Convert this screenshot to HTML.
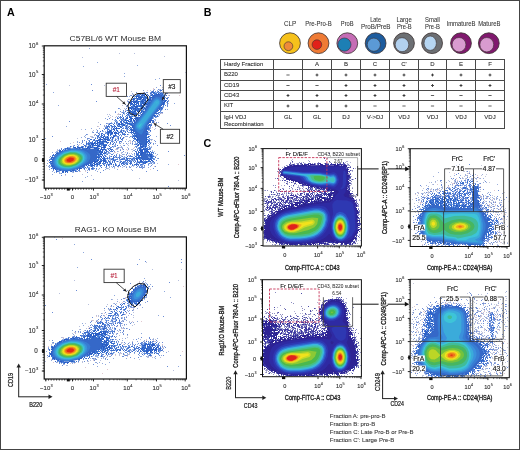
<!DOCTYPE html>
<html><head><meta charset="utf-8"><style>
html,body{margin:0;padding:0;background:#fff;}
body{width:520px;height:450px;overflow:hidden;}
svg{display:block;font-family:"Liberation Sans", sans-serif;}
</style></head><body>
<svg width="520" height="450" viewBox="0 0 520 450" style="will-change:transform">
<rect x="0" y="0" width="520" height="450" fill="#fff"/>
<filter id="bla1" x="-5%" y="-5%" width="110%" height="110%"><feGaussianBlur stdDeviation="0.45"/></filter>
<clipPath id="cpa1"><rect x="44.8" y="46.4" width="141.00" height="141.20"/></clipPath>
<g clip-path="url(#cpa1)">
<path d="M89 48h0m8 14h0m40 3h0m-54 1h0m41 7h0m0 3h0m35 2h0m-4 1h0m-109 5h0m110 3h0m-2 2h0m6 0h0m-17 1h0m20 0h0m-12 1h0m-98 1h0m97 0h0m-18 1h0m-88 1h0m89 0h0m-3 1h0m39 0h0m-40 1h0m-1 3h0m-1 2h0m41 0h0m6 2h0m-49 1h0m-67 1h0m61 3h0m6 1h0m42 0h0m-52 2h0m8 0h0m-79 1h0m116 1h0m-52 3h0m10 0h0m40 0h0m-53 2h0m50 2h0m3 2h0m-51 1h0m1 1h0m-4 1h0m-38 1h0m38 0h0m-13 2h0m8 0h0m-14 1h0m12 2h0m-5 1h0m-5 2h0m-2 1h0m9 0h0m-10 1h0m41 0h0m1 0h0m1 0h0m29 0h0m-75 1h0m4 0h0m7 0h0m37 0h0m-84 1h0m44 0h0m34 0h0m-36 1h0m64 0h0m3 1h0m-77 1h0m48 0h0m3 0h0m-51 1h0m4 1h0m38 0h0m1 0h0m3 0h0m7 0h0m25 0h0m-23 1h0m21 0h0m-75 1h0m45 0h0m-2 1h0m0 1h0m30 0h0m-35 1h0m12 0h0m-69 1h0m61 0h0m8 0h0m5 1h0m-16 1h0m-65 1h0m70 0h0m5 0h0m28 1h0m-36 1h0m3 0h0m1 0h0m34 0h0m-29 1h0m29 3h0m-110 2h0m0 3h0m121 1h0m-120 2h0m76 0h0m20 0h0m6 0h0m-44 1h0m3 0h0m3 0h0m2 0h0m15 0h0m13 0h0m2 0h0m4 0h0m-49 1h0m7 0h0m1 0h0m-58 1h0m44 0h0m3 0h0m9 0h0m12 0h0m-30 1h0m2 0h0m6 0h0m37 0h0m-80 1h0m27 0h0m18 0h0m-43 1h0m19 0h0m-14 1h0m-7 1h0m13 0h0m-21 2h0m28 0h0m15 0h0m-2 1h0m8 2h0m-11 2h0" stroke="#8fa8dc" stroke-width="1" stroke-linecap="square" fill="none" transform="translate(.5 .5)"/>
<path d="M119 53h0m15 0h0m30 3h0m-82 1h0m103 15h0m-116 13h0m35 0h0m58 2h0m-3 2h0m9 0h0m-18 1h0m-19 1h0m38 0h0m-40 8h0m-2 1h0m41 3h0m-46 2h0m4 0h0m-2 3h0m-4 1h0m1 3h0m41 1h0m-55 1h0m2 0h0m9 0h0m1 0h0m-9 1h0m49 0h0m-47 1h0m4 0h0m-1 1h0m39 4h0m-56 1h0m10 1h0m-11 3h0m6 2h0m52 0h0m-74 1h0m15 0h0m58 0h0m-61 1h0m-1 1h0m75 1h0m-77 4h0m1 0h0m1 0h0m-15 2h0m49 1h0m26 0h0m-23 1h0m1 0h0m21 0h0m-30 2h0m11 0h0m19 0h0m-81 1h0m58 0h0m-1 1h0m-54 1h0m47 0h0m8 0h0m23 1h0m-34 1h0m2 0h0m1 0h0m2 0h0m5 0h0m7 0h0m-16 1h0m-61 1h0m59 0h0m1 0h0m14 0h0m1 0h0m-75 1h0m61 1h0m14 0h0m22 0h0m-33 1h0m4 0h0m-8 1h0m4 0h0m8 0h0m2 0h0m-7 1h0m-4 1h0m1 0h0m5 0h0m29 1h0m-106 1h0m108 6h0m-113 2h0m2 0h0m3 1h0m74 0h0m3 0h0m5 0h0m2 0h0m-11 1h0m-14 1h0m6 0h0m-16 1h0m11 0h0m22 0h0m-46 1h0m-13 2h0m-12 1h0m22 1h0m9 1h0m48 3h0m39 2h0" stroke="#b8c0dc" stroke-width="1" stroke-linecap="square" fill="none" transform="translate(.5 .5)"/>
<path d="M91 84h0m69 1h0m-2 4h0m4 0h0m2 0h0m-72 1h0m61 0h0m15 0h0m1 0h0m-5 1h0m-28 1h0m8 0h0m2 0h0m1 0h0m19 1h0m1 0h0m-36 2h0m-4 1h0m41 1h0m0 3h0m-72 1h0m32 0h0m39 3h0m0 1h0m-41 1h0m41 0h0m-49 2h0m8 0h0m39 1h0m-42 1h0m-3 1h0m-5 1h0m7 0h0m1 0h0m38 0h0m1 0h0m-42 2h0m39 0h0m-42 3h0m-8 1h0m-2 1h0m5 0h0m-43 2h0m87 1h0m-50 1h0m3 0h0m58 0h0m-67 1h0m6 1h0m64 0h0m-64 1h0m49 0h0m-58 4h0m53 1h0m-57 1h0m3 0h0m1 0h0m-11 2h0m9 0h0m-43 2h0m78 0h0m-43 2h0m1 0h0m34 1h0m-40 1h0m2 0h0m38 0h0m-40 1h0m4 0h0m35 0h0m11 0h0m23 0h0m-76 1h0m3 0h0m44 1h0m6 0h0m21 0h0m-76 1h0m57 0h0m-60 1h0m50 0h0m33 0h0m-22 1h0m-17 1h0m-57 1h0m56 0h0m5 0h0m1 1h0m12 0h0m-15 1h0m14 0h0m-20 1h0m9 0h0m45 0h0m-41 2h0m-11 1h0m10 0h0m58 1h0m-134 1h0m108 2h0m-2 2h0m-2 3h0m-3 2h0m-34 1h0m1 0h0m2 0h0m9 0h0m8 0h0m2 0h0m2 0h0m1 0h0m13 0h0m-106 1h0m77 0h0m4 0h0m6 0h0m3 0h0m1 0h0m1 0h0m2 0h0m-1 1h0m11 0h0m-69 1h0m-31 1h0m50 0h0m54 0h0m-80 1h0m69 0h0m-90 1h0m31 0h0m13 0h0m-39 1h0m0 2h0m107 11h0" stroke="#6a8cd6" stroke-width="1" stroke-linecap="square" fill="none" transform="translate(.5 .5)"/>
<path d="M153 88h0m0 1h0m-6 1h0m-4 2h0m-11 2h0m36 1h0m11 0h0m-54 15h0m-7 3h0m43 0h0m-44 1h0m-7 3h0m44 5h0m-56 4h0m7 0h0m47 1h0m-58 7h0m-3 3h0m33 0h0m-64 4h0m70 0h0m-57 1h0m57 0h0m-51 2h0m54 4h0m-18 1h0m7 0h0m4 0h0m1 1h0m-13 2h0m1 0h0m14 3h0m27 0h0m-108 6h0m130 3h0m-24 2h0m-36 1h0m9 2h0m23 0h0m-70 2h0m5 0h0m-20 4h0" stroke="#e0c8d0" stroke-width="1" stroke-linecap="square" fill="none" transform="translate(.5 .5)"/>
<path d="M160 90h0m1 0h0m-9 1h0m6 0h0m5 0h0m-12 1h0m1 0h0m1 0h0m1 0h0m-9 1h0m5 0h0m-13 1h0m7 0h0m3 0h0m1 1h0m18 0h0m-33 1h0m33 2h0m1 0h0m-1 2h0m1 1h0m-40 4h0m1 2h0m33 1h0m1 0h0m-34 1h0m33 0h0m-34 1h0m14 0h0m-16 1h0m2 1h0m1 0h0m31 0h0m-36 1h0m5 0h0m1 0h0m28 0h0m-30 1h0m1 0h0m-2 1h0m31 0h0m-37 1h0m14 0h0m23 0h0m-36 1h0m2 0h0m4 0h0m-10 1h0m6 0h0m-8 1h0m6 0h0m2 0h0m29 1h0m1 0h0m-33 1h0m1 0h0m32 0h0m-37 1h0m36 0h0m1 0h0m-43 1h0m4 0h0m4 0h0m-9 1h0m4 0h0m-2 1h0m3 0h0m12 0h0m23 0h0m2 0h0m-44 1h0m1 0h0m4 0h0m14 0h0m-19 1h0m19 0h0m2 0h0m-23 1h0m20 0h0m2 0h0m21 0h0m-40 1h0m40 0h0m-46 1h0m7 0h0m12 0h0m2 0h0m27 0h0m-50 1h0m7 0h0m1 0h0m12 0h0m1 0h0m6 0h0m-20 1h0m12 0h0m3 0h0m3 0h0m5 0h0m1 0h0m-33 1h0m3 0h0m1 0h0m16 0h0m4 0h0m-23 1h0m2 0h0m17 0h0m5 0h0m1 0h0m1 0h0m2 0h0m-29 1h0m3 0h0m1 0h0m31 0h0m-36 1h0m1 0h0m3 0h0m32 0h0m-34 1h0m2 0h0m19 0h0m3 0h0m9 0h0m2 0h0m-39 1h0m2 0h0m21 0h0m2 0h0m2 0h0m11 0h0m1 0h0m-44 1h0m1 0h0m3 0h0m18 0h0m9 0h0m-28 1h0m1 0h0m2 0h0m19 0h0m18 0h0m16 0h0m-60 1h0m3 0h0m28 0h0m-30 1h0m2 0h0m18 0h0m4 0h0m35 0h0m-63 1h0m2 0h0m1 0h0m21 0h0m3 0h0m37 0h0m-64 1h0m2 0h0m24 0h0m24 0h0m-52 1h0m33 0h0m20 0h0m-67 1h0m7 0h0m5 0h0m27 0h0m3 0h0m-47 2h0m44 0h0m40 0h0m-44 1h0m3 0h0m2 0h0m1 0h0m1 0h0m-53 1h0m46 0h0m1 0h0m3 0h0m28 0h0m-31 1h0m6 0h0m23 0h0m3 0h0m12 0h0m-46 1h0m1 0h0m31 0h0m15 0h0m-47 1h0m1 0h0m31 0h0m-83 1h0m83 0h0m-84 1h0m62 0h0m-9 1h0m6 0h0m2 0h0m14 0h0m4 0h0m4 0h0m17 0h0m1 0h0m-102 1h0m53 0h0m5 0h0m4 0h0m3 0h0m10 0h0m29 0h0m-48 1h0m5 0h0m1 0h0m6 0h0m5 0h0m2 0h0m1 0h0m3 0h0m3 0h0m-22 1h0m2 0h0m8 0h0m1 0h0m5 0h0m4 0h0m1 0h0m2 0h0m-85 1h0m59 0h0m5 0h0m1 0h0m11 0h0m1 0h0m2 0h0m24 0h0m-43 1h0m3 0h0m2 0h0m3 0h0m4 0h0m6 0h0m2 0h0m2 0h0m4 0h0m18 0h0m-104 1h0m56 0h0m2 0h0m5 0h0m8 0h0m2 0h0m1 0h0m7 0h0m4 0h0m-30 1h0m6 0h0m1 0h0m4 0h0m6 0h0m1 0h0m1 0h0m7 0h0m1 0h0m5 0h0m7 0h0m1 0h0m1 0h0m-42 1h0m5 0h0m1 0h0m2 0h0m2 0h0m2 0h0m9 0h0m3 0h0m7 0h0m1 0h0m1 0h0m1 0h0m1 0h0m3 0h0m-44 1h0m4 0h0m3 0h0m2 0h0m2 0h0m7 0h0m3 0h0m1 0h0m3 0h0m10 0h0m4 0h0m-30 1h0m7 0h0m-28 1h0m16 0h0m-50 1h0m33 0h0m7 0h0m1 0h0m-39 1h0m26 0h0m10 0h0m-33 1h0m0 1h0m1 0h0m18 0h0m-13 1h0m1 0h0m2 0h0m2 0h0" stroke="#3a6ccc" stroke-width="1" stroke-linecap="square" fill="none" transform="translate(.5 .5)"/>
<path d="M153 91h0m2 0h0m6 1h0m-21 1h0m3 0h0m8 0h0m14 0h0m-27 1h0m1 0h0m4 0h0m8 0h0m-18 1h0m13 0h0m4 0h0m-19 5h0m-3 2h0m39 0h0m0 1h0m-3 1h0m1 1h0m-2 1h0m-1 1h0m-2 2h0m0 1h0m0 1h0m-20 1h0m18 0h0m-32 1h0m32 0h0m-20 1h0m-16 1h0m6 0h0m1 0h0m-7 1h0m3 0h0m2 0h0m4 0h0m4 0h0m20 0h0m1 0h0m-37 1h0m1 0h0m6 0h0m9 0h0m20 0h0m-37 1h0m2 0h0m2 0h0m-6 2h0m3 0h0m2 0h0m1 0h0m-7 1h0m37 0h0m-35 1h0m3 0h0m-9 1h0m5 0h0m11 1h0m23 0h0m1 0h0m-43 1h0m2 0h0m17 0h0m23 0h0m-41 1h0m2 0h0m2 0h0m1 0h0m11 0h0m25 0h0m-45 1h0m1 0h0m3 0h0m3 0h0m-6 1h0m1 0h0m4 0h0m11 0h0m1 0h0m3 0h0m3 0h0m20 0h0m-45 1h0m3 0h0m4 0h0m10 0h0m6 0h0m22 0h0m-42 1h0m22 0h0m-6 1h0m2 0h0m-19 1h0m12 0h0m3 0h0m7 0h0m-23 1h0m19 0h0m7 0h0m-28 1h0m1 0h0m16 0h0m2 0h0m10 0h0m16 0h0m-52 1h0m20 0h0m3 0h0m2 0h0m29 0h0m-50 1h0m17 0h0m1 0h0m14 0h0m17 0h0m-52 1h0m21 0h0m31 1h0m-51 1h0m17 0h0m3 0h0m16 0h0m1 0h0m-46 1h0m23 0h0m-1 1h0m1 0h0m4 0h0m3 0h0m30 0h0m-63 1h0m2 0h0m3 0h0m25 0h0m3 0h0m-32 1h0m3 0h0m-7 1h0m32 0h0m20 0h0m14 0h0m-64 1h0m23 0h0m40 0h0m-75 1h0m8 0h0m2 0h0m32 0h0m21 0h0m13 0h0m-82 1h0m43 0h0m1 0h0m25 0h0m-29 1h0m3 0h0m28 0h0m12 0h0m-89 1h0m76 0h0m12 0h0m-38 1h0m2 0h0m-9 1h0m3 0h0m3 0h0m1 0h0m25 0h0m-30 1h0m2 0h0m44 0h0m1 0h0m-19 1h0m3 0h0m14 0h0m2 0h0m-46 1h0m4 0h0m1 0h0m40 0h0m-48 1h0m1 0h0m11 0h0m3 0h0m11 0h0m6 0h0m16 0h0m-100 1h0m63 0h0m4 0h0m3 0h0m7 0h0m1 0h0m2 0h0m-25 1h0m7 0h0m4 0h0m1 0h0m1 0h0m13 0h0m1 0h0m-29 1h0m1 0h0m3 0h0m13 0h0m1 0h0m5 0h0m1 0h0m3 0h0m2 0h0m19 0h0m-104 1h0m1 0h0m55 0h0m7 0h0m3 0h0m1 0h0m1 0h0m3 0h0m3 0h0m1 0h0m2 0h0m27 0h0m1 0h0m-39 1h0m12 0h0m2 0h0m1 0h0m2 0h0m2 0h0m-28 1h0m2 0h0m12 0h0m3 0h0m1 0h0m1 0h0m5 0h0m3 0h0m19 0h0m-46 1h0m3 0h0m1 0h0m4 0h0m10 0h0m2 0h0m5 0h0m6 0h0m17 0h0m-51 1h0m2 0h0m2 0h0m18 0h0m1 0h0m1 0h0m2 0h0m10 0h0m10 0h0m2 0h0m-45 1h0m13 0h0m2 0h0m2 0h0m3 0h0m4 0h0m2 0h0m8 0h0m2 0h0m6 0h0m-99 1h0m51 0h0m16 0h0m22 0h0m2 0h0m4 0h0m-93 1h0m41 0h0m2 0h0m2 0h0m4 0h0m-13 1h0m5 0h0m-4 1h0m1 0h0m4 0h0m1 0h0m2 0h0m-8 1h0m4 0h0m-14 1h0m1 0h0m-21 1h0m15 0h0m3 0h0" stroke="#5a86d8" stroke-width="1" stroke-linecap="square" fill="none" transform="translate(.5 .5)"/>
<path d="M157 90h0m2 0h0m-2 1h0m3 0h0m-5 1h0m7 0h0m3 0h0m-2 1h0m-18 1h0m1 0h0m4 0h0m14 0h0m1 0h0m-18 1h0m18 0h0m-33 1h0m2 0h0m-2 1h0m35 0h0m-36 2h0m36 0h0m-37 2h0m36 1h0m-38 1h0m1 0h0m-1 1h0m0 1h0m-1 1h0m36 1h0m-21 2h0m20 0h0m-36 1h0m2 0h0m33 0h0m-37 2h0m36 0h0m-36 1h0m14 0h0m1 0h0m-17 1h0m2 0h0m5 0h0m27 0h0m2 0h0m-31 1h0m8 0h0m1 0h0m-3 1h0m3 0h0m20 1h0m-31 1h0m28 0h0m-33 1h0m2 0h0m2 0h0m30 0h0m1 0h0m-41 1h0m1 0h0m8 0h0m-7 1h0m1 0h0m-6 1h0m3 0h0m-2 1h0m5 0h0m34 0h0m-35 1h0m1 0h0m11 0h0m-3 1h0m2 1h0m1 0h0m-17 1h0m12 0h0m2 0h0m2 0h0m22 0h0m1 0h0m-42 1h0m42 0h0m-41 1h0m17 0h0m2 0h0m-8 1h0m2 0h0m2 0h0m2 0h0m1 0h0m3 0h0m18 0h0m1 0h0m-47 1h0m1 0h0m2 0h0m19 0h0m-25 1h0m6 0h0m15 0h0m9 0h0m19 0h0m1 0h0m-50 1h0m7 0h0m17 0h0m25 0h0m-20 1h0m21 0h0m-52 1h0m2 0h0m25 0h0m8 0h0m-17 1h0m1 0h0m5 0h0m10 0h0m-38 1h0m2 0h0m3 0h0m2 0h0m17 0h0m-18 1h0m14 0h0m2 0h0m2 0h0m-24 1h0m23 0h0m33 0h0m1 0h0m-62 1h0m7 0h0m16 0h0m3 0h0m3 0h0m1 0h0m-5 1h0m21 0h0m1 0h0m-46 1h0m23 0h0m23 0h0m15 0h0m-35 1h0m20 0h0m1 0h0m-49 1h0m22 0h0m1 0h0m3 0h0m24 0h0m-51 1h0m28 0h0m1 0h0m-44 1h0m7 0h0m35 0h0m1 0h0m23 0h0m-69 1h0m1 0h0m1 0h0m43 0h0m25 0h0m10 0h0m1 0h0m1 0h0m-86 1h0m44 0h0m29 0h0m-31 1h0m44 0h0m-92 1h0m94 0h0m-96 1h0m1 0h0m51 0h0m44 0h0m-97 1h0m1 0h0m53 0h0m-3 1h0m1 0h0m1 0h0m1 0h0m1 0h0m3 0h0m-9 1h0m2 0h0m26 0h0m2 0h0m-25 1h0m25 0h0m19 0h0m-47 1h0m3 0h0m1 0h0m6 0h0m5 0h0m3 0h0m30 0h0m-39 1h0m2 0h0m6 0h0m1 0h0m1 0h0m-75 1h0m58 0h0m2 0h0m1 0h0m6 0h0m4 0h0m10 0h0m23 0h0m-47 1h0m2 0h0m1 0h0m4 0h0m5 0h0m6 0h0m4 0h0m4 0h0m-27 1h0m4 0h0m2 0h0m7 0h0m1 0h0m11 0h0m2 0h0m-23 1h0m6 0h0m2 0h0m1 1h0m6 0h0m2 0h0m1 0h0m8 0h0m14 0h0m1 0h0m1 0h0m1 0h0m-44 1h0m10 0h0m5 0h0m13 0h0m5 0h0m6 0h0m2 0h0m3 0h0m-103 1h0m54 0h0m3 0h0m3 0h0m6 0h0m27 0h0m9 0h0m-53 1h0m10 0h0m4 0h0m12 0h0m8 0h0m1 0h0m7 0h0m1 0h0m6 0h0m-98 1h0m47 0h0m12 0h0m2 0h0m3 0h0m-30 1h0m4 0h0m1 0h0m4 0h0m12 0h0m-53 1h0m31 0h0m3 0h0m5 1h0m-15 1h0m-17 1h0m13 0h0m-13 1h0" stroke="#98b2e4" stroke-width="1" stroke-linecap="square" fill="none" transform="translate(.5 .5)"/>
<path d="M158 93h0m2 0h0m-20 1h0m2 0h0m10 0h0m4 0h0m1 0h0m1 0h0m1 0h0m3 0h0m-21 1h0m1 0h0m1 0h0m1 0h0m7 0h0m2 0h0m1 0h0m1 0h0m6 0h0m-25 1h0m1 0h0m1 0h0m2 0h0m4 0h0m3 0h0m2 0h0m4 0h0m10 0h0m1 0h0m-28 1h0m2 0h0m1 0h0m1 0h0m1 0h0m1 0h0m3 0h0m1 0h0m4 0h0m1 0h0m1 0h0m11 0h0m-30 1h0m4 0h0m3 0h0m1 0h0m2 0h0m4 0h0m3 0h0m14 0h0m-31 1h0m1 0h0m3 0h0m2 0h0m1 0h0m2 0h0m1 0h0m2 0h0m3 0h0m1 0h0m1 0h0m14 0h0m-31 1h0m3 0h0m6 0h0m2 0h0m1 0h0m3 0h0m1 0h0m1 0h0m13 0h0m2 0h0m-34 1h0m1 0h0m2 0h0m1 0h0m1 0h0m2 0h0m3 0h0m1 0h0m1 0h0m2 0h0m19 0h0m1 0h0m-35 1h0m1 0h0m2 0h0m1 0h0m1 0h0m2 0h0m5 0h0m2 0h0m1 0h0m2 0h0m2 0h0m14 0h0m1 0h0m-34 1h0m1 0h0m1 0h0m2 0h0m2 0h0m2 0h0m4 0h0m1 0h0m2 0h0m1 0h0m2 0h0m15 0h0m-32 1h0m4 0h0m3 0h0m3 0h0m2 0h0m2 0h0m1 0h0m1 0h0m15 0h0m1 0h0m-33 1h0m3 0h0m1 0h0m6 0h0m1 0h0m1 0h0m19 0h0m-30 1h0m3 0h0m1 0h0m1 0h0m1 0h0m2 0h0m2 0h0m2 0h0m3 0h0m1 0h0m-18 1h0m1 0h0m2 0h0m3 0h0m1 0h0m5 0h0m1 0h0m4 0h0m15 0h0m-31 1h0m1 0h0m2 0h0m1 0h0m1 0h0m2 0h0m1 0h0m2 0h0m1 0h0m1 0h0m2 0h0m1 0h0m14 0h0m-28 1h0m2 0h0m2 0h0m1 0h0m2 0h0m5 0h0m2 0h0m14 0h0m-30 1h0m6 0h0m2 0h0m21 0h0m-28 1h0m1 0h0m3 0h0m1 0h0m2 0h0m1 0h0m1 0h0m2 0h0m2 0h0m13 0h0m-27 1h0m3 0h0m1 0h0m5 0h0m3 0h0m2 0h0m-11 1h0m1 0h0m1 0h0m1 0h0m1 0h0m20 0h0m-26 1h0m1 0h0m1 0h0m1 0h0m1 0h0m1 0h0m1 0h0m5 0h0m-3 1h0m1 0h0m14 0h0m1 0h0m-25 1h0m11 0h0m14 0h0m-25 1h0m1 0h0m6 0h0m1 0h0m2 0h0m-13 1h0m1 0h0m3 0h0m1 0h0m1 0h0m2 0h0m1 0h0m1 0h0m1 0h0m-12 1h0m4 0h0m2 0h0m2 0h0m2 0h0m2 0h0m-12 1h0m2 0h0m4 0h0m2 0h0m1 0h0m2 0h0m14 0h0m1 0h0m-28 1h0m5 0h0m2 0h0m4 0h0m16 0h0m-29 1h0m3 0h0m2 0h0m6 0h0m2 0h0m14 0h0m1 0h0m1 0h0m-31 1h0m2 0h0m1 0h0m5 0h0m1 0h0m1 0h0m4 0h0m15 0h0m-30 1h0m1 0h0m2 0h0m2 0h0m7 0h0m1 0h0m18 0h0m-32 1h0m6 0h0m1 0h0m8 0h0m1 0h0m15 0h0m-33 1h0m3 0h0m2 0h0m9 0h0m3 0h0m-18 1h0m2 0h0m5 0h0m9 0h0m2 0h0m16 0h0m-35 1h0m2 0h0m1 0h0m2 0h0m1 0h0m27 0h0m1 0h0m-34 1h0m1 0h0m16 0h0m1 0h0m15 0h0m-36 1h0m4 0h0m3 0h0m14 0h0m1 0h0m1 0h0m12 0h0m1 0h0m-37 1h0m1 0h0m21 0h0m2 0h0m13 0h0m1 0h0m-39 1h0m1 0h0m2 0h0m1 0h0m2 0h0m1 0h0m1 0h0m16 0h0m-24 1h0m3 0h0m1 0h0m2 0h0m2 0h0m18 0h0m1 0h0m10 0h0m1 0h0m-38 1h0m2 0h0m5 0h0m31 0h0m1 0h0m-39 1h0m7 0h0m20 0h0m1 0h0m1 0h0m9 0h0m-42 1h0m3 0h0m6 0h0m1 0h0m21 0h0m1 0h0m1 0h0m11 0h0m-46 1h0m1 0h0m2 0h0m2 0h0m5 0h0m1 0h0m24 0h0m1 0h0m8 0h0m-46 1h0m3 0h0m5 0h0m2 0h0m25 0h0m2 0h0m2 0h0m6 0h0m1 0h0m-47 1h0m1 0h0m1 0h0m1 0h0m2 0h0m1 0h0m1 0h0m1 0h0m30 0h0m1 0h0m8 0h0m-49 1h0m1 0h0m9 0h0m1 0h0m28 0h0m1 0h0m2 0h0m6 0h0m1 0h0m2 0h0m-51 1h0m2 0h0m1 0h0m2 0h0m1 0h0m1 0h0m1 0h0m1 0h0m31 0h0m2 0h0m1 0h0m5 0h0m1 0h0m2 0h0m-54 1h0m3 0h0m1 0h0m1 0h0m3 0h0m4 0h0m2 0h0m30 0h0m3 0h0m5 0h0m-55 1h0m1 0h0m1 0h0m1 0h0m2 0h0m1 0h0m3 0h0m1 0h0m1 0h0m1 0h0m36 0h0m1 0h0m2 0h0m2 0h0m1 0h0m1 0h0m2 0h0m-57 1h0m1 0h0m1 0h0m4 0h0m2 0h0m4 0h0m35 0h0m2 0h0m1 0h0m1 0h0m1 0h0m2 0h0m1 0h0m-56 1h0m2 0h0m2 0h0m2 0h0m2 0h0m5 0h0m1 0h0m1 0h0m1 0h0m32 0h0m2 0h0m3 0h0m-58 1h0m3 0h0m2 0h0m2 0h0m5 0h0m1 0h0m1 0h0m5 0h0m36 0h0m1 0h0m1 0h0m1 0h0m2 0h0m-71 1h0m1 0h0m3 0h0m1 0h0m2 0h0m1 0h0m5 0h0m1 0h0m2 0h0m1 0h0m3 0h0m2 0h0m1 0h0m4 0h0m1 0h0m1 0h0m1 0h0m1 0h0m36 0h0m1 0h0m3 0h0m-78 1h0m12 0h0m7 0h0m1 0h0m2 0h0m5 0h0m1 0h0m1 0h0m2 0h0m3 0h0m39 0h0m3 0h0m3 0h0m-81 1h0m19 0h0m1 0h0m7 0h0m1 0h0m4 0h0m1 0h0m3 0h0m1 0h0m1 0h0m1 0h0m36 0h0m2 0h0m1 0h0m1 0h0m1 0h0m3 0h0m-88 1h0m2 0h0m28 0h0m1 0h0m4 0h0m1 0h0m1 0h0m1 0h0m2 0h0m2 0h0m37 0h0m1 0h0m1 0h0m1 0h0m4 0h0m1 0h0m-88 1h0m1 0h0m39 0h0m1 0h0m2 0h0m38 0h0m1 0h0m1 0h0m3 0h0m1 0h0m1 0h0m1 0h0m-52 1h0m3 0h0m2 0h0m1 0h0m36 0h0m1 0h0m2 0h0m1 0h0m1 0h0m1 0h0m1 0h0m4 0h0m-93 1h0m1 0h0m39 0h0m4 0h0m3 0h0m37 0h0m1 0h0m1 0h0m1 0h0m1 0h0m1 0h0m4 0h0m-94 1h0m40 0h0m2 0h0m1 0h0m2 0h0m1 0h0m36 0h0m3 0h0m1 0h0m1 0h0m1 0h0m2 0h0m1 0h0m1 0h0m2 0h0m1 0h0m1 0h0m-55 1h0m2 0h0m4 0h0m37 0h0m2 0h0m1 0h0m6 0h0m2 0h0m1 0h0m-56 1h0m5 0h0m1 0h0m2 0h0m35 0h0m3 0h0m6 0h0m3 0h0m1 0h0m-99 1h0m42 0h0m2 0h0m1 0h0m1 0h0m1 0h0m2 0h0m37 0h0m1 0h0m1 0h0m2 0h0m5 0h0m4 0h0m-100 1h0m43 0h0m1 0h0m1 0h0m6 0h0m2 0h0m32 0h0m2 0h0m3 0h0m1 0h0m1 0h0m1 0h0m2 0h0m1 0h0m1 0h0m2 0h0m-98 1h0m43 0h0m6 0h0m2 0h0m1 0h0m32 0h0m1 0h0m5 0h0m2 0h0m2 0h0m1 0h0m2 0h0m1 0h0m1 0h0m-57 1h0m3 0h0m1 0h0m5 0h0m1 0h0m1 0h0m32 0h0m3 0h0m1 0h0m10 0h0m-101 1h0m1 0h0m40 0h0m1 0h0m2 0h0m1 0h0m1 0h0m1 0h0m2 0h0m1 0h0m1 0h0m2 0h0m1 0h0m1 0h0m32 0h0m3 0h0m1 0h0m1 0h0m4 0h0m2 0h0m2 0h0m-60 1h0m1 0h0m1 0h0m2 0h0m1 0h0m3 0h0m2 0h0m38 0h0m1 0h0m4 0h0m2 0h0m1 0h0m-95 1h0m39 0h0m4 0h0m2 0h0m1 0h0m2 0h0m1 0h0m-14 1h0m4 0h0m2 0h0m2 0h0m1 0h0m2 0h0m-46 1h0m1 0h0m34 0h0m2 0h0m3 0h0m1 0h0m1 0h0m-41 1h0m1 0h0m38 0h0m-37 1h0m-1 1h0m1 0h0m25 0h0m1 0h0m1 0h0m-26 1h0m22 0h0m-17 1h0m12 0h0m1 0h0m-11 1h0m1 0h0m2 0h0m1 0h0m5 0h0" stroke="#2a5cc4" stroke-width="1" stroke-linecap="square" fill="none" transform="translate(.5 .5)"/>
<path d="M157 92h0m2 0h0m-6 1h0m1 0h0m1 0h0m1 0h0m5 0h0m1 0h0m-8 1h0m1 0h0m5 0h0m1 0h0m-25 1h0m1 0h0m1 0h0m1 0h0m13 0h0m8 0h0m2 0h0m1 0h0m-28 1h0m4 0h0m2 0h0m1 0h0m3 0h0m7 0h0m9 0h0m1 0h0m-19 1h0m1 0h0m5 0h0m13 0h0m2 0h0m-30 1h0m1 0h0m1 0h0m2 0h0m1 0h0m5 0h0m1 0h0m1 0h0m3 0h0m13 0h0m-30 1h0m6 0h0m6 0h0m3 0h0m-10 1h0m4 0h0m2 0h0m21 0h0m-31 1h0m4 0h0m2 0h0m1 0h0m6 0h0m2 0h0m1 0h0m-13 1h0m2 0h0m2 0h0m1 0h0m2 0h0m5 0h0m-11 1h0m3 0h0m1 0h0m3 0h0m3 0h0m2 0h0m13 0h0m2 0h0m-34 1h0m2 0h0m1 0h0m1 0h0m2 0h0m4 0h0m8 0h0m-12 1h0m1 0h0m1 0h0m1 0h0m5 0h0m3 0h0m16 0h0m-31 1h0m1 0h0m5 0h0m2 0h0m2 0h0m18 0h0m-29 1h0m2 0h0m4 0h0m6 0h0m1 0h0m16 0h0m-31 1h0m3 0h0m4 0h0m3 0h0m21 0h0m-26 1h0m3 0h0m2 0h0m-9 1h0m2 0h0m2 0h0m2 0h0m2 0h0m1 0h0m3 0h0m15 0h0m-25 1h0m1 0h0m9 0h0m15 0h0m-27 1h0m1 0h0m3 0h0m1 0h0m5 1h0m2 0h0m13 0h0m0 2h0m-25 1h0m2 0h0m-1 1h0m7 0h0m14 0h0m-14 1h0m13 0h0m1 0h0m-22 1h0m6 0h0m14 0h0m1 0h0m-27 1h0m2 0h0m2 0h0m2 0h0m-4 1h0m3 0h0m2 0h0m18 0h0m-24 1h0m2 0h0m-2 1h0m1 0h0m4 0h0m1 0h0m1 0h0m-12 1h0m2 0h0m2 0h0m5 0h0m3 0h0m-13 1h0m3 0h0m9 0h0m-12 1h0m3 0h0m24 0h0m1 0h0m1 0h0m-28 1h0m26 0h0m1 0h0m-30 1h0m14 0h0m-15 1h0m16 0h0m1 0h0m14 0h0m-36 1h0m5 0h0m-5 1h0m2 0h0m4 0h0m17 0h0m11 0h0m-35 1h0m23 0h0m2 0h0m11 0h0m1 0h0m-40 1h0m3 0h0m5 0h0m2 0h0m16 0h0m14 0h0m-40 1h0m4 0h0m23 0h0m2 0h0m-32 1h0m6 0h0m3 0h0m1 0h0m20 0h0m-31 1h0m31 0h0m12 0h0m-40 1h0m2 0h0m2 0h0m26 0h0m9 0h0m2 0h0m1 0h0m-44 1h0m1 0h0m2 0h0m5 0h0m26 0h0m-30 1h0m1 0h0m27 0h0m3 0h0m6 0h0m2 0h0m-48 1h0m1 0h0m3 0h0m2 0h0m4 0h0m29 0h0m-43 1h0m6 0h0m46 0h0m-52 1h0m5 0h0m1 0h0m2 0h0m4 0h0m32 0h0m6 0h0m2 0h0m-52 1h0m4 0h0m8 0h0m30 0h0m4 0h0m2 0h0m-54 1h0m6 0h0m5 0h0m1 0h0m1 0h0m2 0h0m1 0h0m1 0h0m38 0h0m-55 1h0m4 0h0m2 0h0m2 0h0m2 0h0m2 0h0m41 0h0m2 0h0m1 0h0m1 0h0m-57 1h0m11 0h0m3 0h0m2 0h0m39 0h0m2 0h0m-73 1h0m4 0h0m3 0h0m9 0h0m3 0h0m1 0h0m2 0h0m44 0h0m1 0h0m-74 1h0m2 0h0m1 0h0m13 0h0m1 0h0m1 0h0m1 0h0m3 0h0m9 0h0m2 0h0m5 0h0m35 0h0m5 0h0m1 0h0m2 0h0m-84 1h0m23 0h0m8 0h0m1 0h0m1 0h0m4 0h0m39 0h0m2 0h0m5 0h0m1 0h0m-55 1h0m2 0h0m5 0h0m45 0h0m1 0h0m-51 1h0m1 0h0m1 0h0m1 0h0m1 0h0m3 0h0m43 0h0m-87 1h0m40 0h0m1 0h0m2 0h0m40 0h0m6 0h0m1 0h0m1 0h0m-53 1h0m2 0h0m1 0h0m3 0h0m37 0h0m9 0h0m-51 1h0m3 0h0m3 0h0m36 0h0m6 0h0m4 0h0m-95 1h0m1 0h0m41 0h0m4 0h0m38 0h0m1 0h0m2 0h0m9 0h0m-53 1h0m1 0h0m1 0h0m1 0h0m37 0h0m3 0h0m3 0h0m7 0h0m-96 1h0m50 0h0m33 0h0m1 0h0m9 0h0m4 0h0m2 0h0m-54 1h0m2 0h0m3 0h0m32 0h0m2 0h0m2 0h0m1 0h0m5 0h0m4 0h0m2 0h0m1 0h0m-101 1h0m42 0h0m3 0h0m1 0h0m1 0h0m2 0h0m39 0h0m1 0h0m3 0h0m2 0h0m3 0h0m-55 1h0m2 0h0m1 0h0m4 0h0m1 0h0m1 0h0m41 0h0m5 0h0m1 0h0m-56 1h0m51 0h0m1 0h0m2 0h0m2 0h0m-99 1h0m49 0h0m4 0h0m37 0h0m1 0h0m1 0h0m2 0h0m-94 1h0m39 0h0m2 0h0m2 0h0m9 0h0m-51 1h0m36 0h0m1 0h0m3 0h0m5 0h0m2 0h0m1 0h0m-10 1h0m1 0h0m4 0h0m-11 1h0m1 0h0m3 0h0m-35 1h0m1 0h0m29 0h0m1 0h0m-28 1h0m1 1h0m1 0h0m2 1h0m15 0h0m1 0h0m-8 1h0m3 0h0" stroke="#3f78d4" stroke-width="1" stroke-linecap="square" fill="none" transform="translate(.5 .5)"/>
<path d="M156 92h0m2 0h0m2 0h0m-1 1h0m-18 1h0m22 0h0m-4 1h0m5 0h0m-21 1h0m3 0h0m4 0h0m-16 1h0m13 0h0m18 0h0m-14 1h0m12 0h0m-27 1h0m5 0h0m-7 1h0m1 0h0m5 0h0m6 0h0m1 0h0m-3 1h0m3 0h0m16 0h0m-31 4h0m13 0h0m1 0h0m-1 1h0m17 0h0m-28 1h0m6 0h0m5 0h0m-2 1h0m-14 1h0m3 0h0m9 0h0m3 0h0m-11 1h0m10 0h0m-14 1h0m7 1h0m6 0h0m14 0h0m-16 2h0m-9 1h0m1 0h0m8 0h0m-2 1h0m15 0h0m0 1h0m-27 2h0m9 1h0m-11 1h0m8 0h0m1 0h0m2 0h0m-12 1h0m6 0h0m1 0h0m1 0h0m-8 1h0m2 1h0m8 0h0m14 0h0m1 0h0m-30 1h0m3 0h0m9 0h0m17 0h0m-30 1h0m4 0h0m10 1h0m-17 1h0m16 0h0m-18 1h0m33 0h0m-30 2h0m3 0h0m-9 2h0m3 1h0m23 0h0m10 0h0m-40 2h0m1 0h0m2 0h0m3 0h0m0 1h0m-5 1h0m-3 1h0m8 0h0m37 0h0m-46 1h0m2 0h0m6 0h0m-14 1h0m42 0h0m-34 1h0m1 0h0m32 0h0m3 0h0m-42 1h0m-8 1h0m8 0h0m41 0h0m-51 1h0m3 0h0m11 0h0m39 0h0m-55 1h0m1 0h0m4 0h0m2 0h0m8 0h0m-18 1h0m2 0h0m13 0h0m45 0h0m1 0h0m3 0h0m-77 1h0m10 0h0m10 0h0m13 0h0m38 0h0m-77 1h0m23 0h0m1 0h0m2 0h0m1 0h0m12 1h0m-45 2h0m41 1h0m51 0h0m-50 2h0m46 0h0m2 1h0m-53 1h0m46 0h0m7 0h0m1 0h0m-97 1h0m47 0h0m-5 1h0m5 0h0m42 0h0m-6 1h0m10 0h0m-7 1h0m1 0h0m4 0h0m-92 1h0m45 0h0m1 0h0m50 0h0m-59 1h0m4 0h0m6 0h0m-14 2h0m12 0h0m-6 1h0m-9 1h0m-5 2h0m-19 1h0m1 0h0" stroke="#8fb0e6" stroke-width="1" stroke-linecap="square" fill="none" transform="translate(.5 .5)"/>
<g filter="url(#bla1)"><path d="M143.3,145.4 141.8,144.7 140.3,142.9 138.1,137.9 133.8,130.9 132.8,127.9 133.1,124.9 134.6,122.4 139.8,116.9 145.8,108.9 152.7,96.9 156.3,94.7 159.8,94.8 161.8,96 163.1,97.9 163.5,100.4 163.1,102.9 161.8,105.4 150.3,120.3 147.3,125.4 146,130.9 146.3,141.7 145.1,144.4 143.3,145.4ZM70.8,170.9 65.8,171.3 60.8,170.7 56.8,169.3 54,167.4 52.2,164.9 51.6,161.9 52.4,158.9 54.5,155.9 57.8,153 61.3,151 69.8,148.5 76.8,148.1 87.3,149.3 93.8,148.4 95.8,148.8 96.8,149.6 97.6,151.9 97.3,155.4 96.1,158.9 94.1,161.4 78.8,168.7 70.8,170.9ZM145.8,159.9 142.3,159.5 140.9,157.4 142,153.9 144.3,151.9 146.8,153.4 148.5,156.4 148.1,158.4 145.8,159.9Z" fill="#3468c8" fill-rule="evenodd"/><path d="M141.8,134.5 140.8,134.6 139.3,133.8 135.4,129.9 134.4,127.4 134.9,124.4 146.3,109.8 153.7,98.4 156.3,96.9 159.3,97.2 160.8,98.4 161.6,99.9 161.9,101.9 161.4,103.9 147.8,122.2 141.8,134.5ZM68.8,170.4 64.3,170.5 59.8,169.6 56.3,168 54.1,165.9 52.9,162.9 53.2,159.9 54.8,156.9 57.8,154 65.3,150.2 74.3,148.8 78.8,149.1 83.3,150.1 87.3,151.9 89.7,153.9 90.4,156.4 90,158.9 88.4,161.4 86.1,163.4 77.8,168.3 73.3,169.7 68.8,170.4Z" fill="#377bd2" fill-rule="evenodd"/><path d="M140.8,130.1 138.8,130.2 136.7,128.9 135.8,126.9 136.2,124.4 146.8,110.9 154.3,99.9 156.3,98.6 158.8,99 160.5,101.4 160.2,103.9 147.8,120.2 142.4,128.9 140.8,130.1ZM70.3,169.5 65.8,169.7 61.8,169.2 58.3,167.9 55.8,166 54.5,163.9 54.2,161.4 55.1,158.4 57.1,155.9 59.8,153.7 63.8,151.6 71.8,149.7 79.8,150.3 83.3,151.6 85.8,153.4 87.2,155.4 87.5,157.9 86.6,160.4 85.1,162.4 81.8,165.2 78.3,167.1 70.3,169.5Z" fill="#3a90dc" fill-rule="evenodd"/><path d="M140.8,128.5 139.3,128.8 137.8,128.1 136.9,126.4 137.2,124.9 146,113.9 155.1,100.9 156.8,99.9 158.3,100.3 159.3,101.6 159.2,103.4 148.1,117.9 140.8,128.5ZM68.3,168.9 61.3,168.1 58.3,166.7 56.4,164.9 55.5,162.9 55.5,160.4 56.7,157.9 58.4,155.9 64.3,152.3 71.8,150.5 79.3,151.1 81.8,152.1 84.2,153.9 85.5,155.9 85.7,158.4 84.7,160.9 82.8,163.1 80.3,165.1 76.3,167.2 68.3,168.9Z" fill="#3babda" fill-rule="evenodd"/><path d="M156.3,103.7 156.4,102.4 157.3,102.1 157.3,102.8 156.3,103.7ZM139.8,127 138.8,126.7 138.8,125.5 141.8,122.8 141.3,124.9 139.8,127ZM70.8,167.9 64.3,168 61.3,167.2 58.8,165.8 57.2,163.9 56.6,161.9 57,159.4 58.3,157.4 63.3,153.5 69.8,151.5 77.3,151.6 82.3,153.8 83.7,155.4 84.3,157.4 84,159.4 82.6,161.9 77.8,165.6 70.8,167.9Z" fill="#3cc4d8" fill-rule="evenodd"/><path d="M69.8,167.4 63.8,167.2 59.2,164.9 58.1,163.4 57.6,161.4 58.1,159.4 59.3,157.4 63.8,154 70.3,152 76.8,152.2 81.5,154.4 82.7,155.9 83.1,157.9 82.7,159.9 81.3,162.1 76.3,165.6 69.8,167.4Z" fill="#41bc99" fill-rule="evenodd"/><path d="M71.3,166.5 65.3,166.7 60.8,164.9 59.4,163.4 58.8,161.9 59,159.9 60.1,157.9 64.3,154.6 69.8,152.8 75.3,152.7 79.8,154.4 81.3,155.9 81.9,157.4 81.7,159.4 80.7,161.4 76.8,164.6 71.3,166.5Z" fill="#46b661" fill-rule="evenodd"/><path d="M69.8,165.9 64.8,165.7 61.3,163.9 60.3,162.4 60.1,160.9 61.4,157.9 65.3,155 70.3,153.5 75.3,153.6 79.2,155.4 80.3,156.9 80.6,158.4 78.9,161.9 74.8,164.6 69.8,165.9Z" fill="#73c23c" fill-rule="evenodd"/><path d="M71.3,164.9 66.8,165.2 63.3,164 61.5,161.9 62,158.9 64.8,156.2 68.8,154.6 73.3,154.2 77.4,155.4 79.2,157.9 78.4,160.9 75.5,163.4 71.3,164.9Z" fill="#bbd628" fill-rule="evenodd"/><path d="M69.8,164.4 66.3,164.2 63.6,162.9 62.6,160.4 63.8,158.1 66.8,156 70.3,155 74.3,155.2 76.9,156.4 78,158.9 76.8,161.3 73.8,163.4 69.8,164.4Z" fill="#f2e31e" fill-rule="evenodd"/><path d="M71.3,163.4 67.8,163.6 65.3,162.9 63.9,160.9 64.4,158.9 66.3,157.2 69.3,156 72.8,155.8 75.3,156.5 76.7,158.4 76.3,160.4 74.3,162.2 71.3,163.4Z" fill="#f3af1f" fill-rule="evenodd"/><path d="M69.8,162.9 67.3,162.7 65.7,161.9 65,160.4 65.8,158.7 67.8,157.2 70.3,156.5 72.8,156.5 74.8,157.4 75.6,158.9 74.7,160.9 72.3,162.4 69.8,162.9Z" fill="#ed731b" fill-rule="evenodd"/><path d="M70.3,162 67.2,161.4 66.6,160.4 66.8,159.4 69.8,157.5 73.3,157.9 74,158.9 73.5,160.4 70.3,162Z" fill="#e22514" fill-rule="evenodd"/></g>
</g>
<filter id="blc1" x="-5%" y="-5%" width="110%" height="110%"><feGaussianBlur stdDeviation="0.45"/></filter>
<clipPath id="cpc1"><rect x="263.5" y="149.1" width="97.40" height="96.40"/></clipPath>
<g clip-path="url(#cpc1)">
<path d="M338 157h0m-13 3h0m-16 1h0m-19 1h0m2 0h0m7 0h0m4 0h0m15 0h0m12 0h0m-33 1h0m1 0h0m6 0h0m31 0h0m4 0h0m5 0h0m-54 1h0m58 0h0m-62 1h0m63 0h0m-65 1h0m66 0h0m-1 1h0m-71 1h0m1 1h0m73 1h0m-75 1h0m2 1h0m71 1h0m0 3h0m-75 2h0m8 0h0m67 0h0m-87 1h0m88 2h0m-62 1h0m-2 1h0m0 1h0m-14 1h0m2 0h0m9 0h0m16 0h0m1 0h0m1 1h0m-27 1h0m16 0h0m6 0h0m-15 1h0m7 0h0m3 0h0m7 0h0m3 0h0m50 0h0m-57 1h0m4 0h0m-34 1h0m2 0h0m12 0h0m7 0h0m14 0h0m-11 1h0m13 0h0m2 0h0m48 0h0m-76 1h0m12 0h0m3 0h0m-9 1h0m2 0h0m2 0h0m3 0h0m2 0h0m6 0h0m-24 1h0m4 0h0m5 0h0m-4 1h0m1 0h0m4 0h0m70 0h0m-83 1h0m2 0h0m6 0h0m77 0h0m-86 1h0m3 0h0m83 0h0m-92 1h0m8 0h0m-8 1h0m1 0h0m3 0h0m2 0h0m87 0h0m3 0h0m-95 1h0m2 0h0m90 0h0m3 0h0m-96 3h0m95 1h0m-95 1h0m95 1h0m-95 1h0m95 1h0m-93 1h0m-2 1h0m1 0h0m95 0h0m0 1h0m0 1h0m-96 2h0m96 0h0m-94 1h0m95 2h0m0 12h0m-1 8h0m-3 3h0m0 1h0m-84 3h0m3 0h0m0 1h0m7 0h0m1 0h0m2 0h0m46 0h0m5 0h0m4 0h0" stroke="#8c8cc0" stroke-width="1" stroke-linecap="square" fill="none" transform="translate(.5 .5)"/>
<path d="M286 149h0m41 9h0m-35 1h0m-1 1h0m17 0h0m38 1h0m1 0h0m-46 1h0m28 0h0m11 0h0m5 0h0m5 0h0m-56 1h0m2 0h0m9 0h0m42 0h0m0 1h0m-60 1h0m60 0h0m1 0h0m-66 2h0m73 1h0m-4 2h0m-72 1h0m73 0h0m-74 3h0m73 2h0m-70 1h0m-3 1h0m4 0h0m1 1h0m68 0h0m2 0h0m-73 1h0m6 1h0m-2 1h0m3 0h0m5 0h0m1 0h0m57 0h0m1 1h0m-57 1h0m2 0h0m55 0h0m-70 1h0m10 0h0m7 0h0m52 0h0m-57 1h0m5 0h0m5 0h0m-5 1h0m1 0h0m4 0h0m49 0h0m-69 1h0m17 0h0m5 0h0m-42 1h0m29 0h0m11 0h0m5 0h0m-44 1h0m11 0h0m26 0h0m2 0h0m1 0h0m-34 1h0m6 0h0m2 0h0m8 0h0m7 0h0m10 0h0m-19 1h0m2 0h0m-8 1h0m12 0h0m2 0h0m-29 1h0m6 0h0m3 0h0m3 0h0m4 0h0m4 0h0m3 0h0m67 0h0m-84 1h0m8 0h0m77 0h0m-87 1h0m6 0h0m2 0h0m-5 1h0m-6 1h0m1 0h0m1 0h0m-1 1h0m-2 1h0m1 1h0m94 4h0m-92 5h0m-2 1h0m0 2h0m1 4h0m94 17h0m0 1h0m-95 4h0m94 1h0m2 0h0m-93 1h0m-1 1h0m4 0h0m2 0h0m83 0h0m-1 1h0m3 0h0m-83 1h0m57 0h0m-54 1h0m47 0h0m2 0h0m4 0h0" stroke="#b4b4d6" stroke-width="1" stroke-linecap="square" fill="none" transform="translate(.5 .5)"/>
<path d="M329 153h0m-5 5h0m-32 3h0m37 0h0m14 1h0m-53 1h0m10 0h0m1 0h0m7 0h0m1 0h0m1 0h0m27 0h0m3 0h0m3 0h0m-54 1h0m61 3h0m3 1h0m-75 1h0m2 0h0m-1 1h0m71 0h0m0 4h0m-70 2h0m70 1h0m-73 1h0m78 0h0m-3 1h0m-70 1h0m2 0h0m1 0h0m65 0h0m-63 1h0m4 1h0m-5 1h0m8 0h0m1 0h0m55 0h0m-57 2h0m-4 1h0m17 2h0m2 0h0m-28 1h0m3 0h0m14 0h0m10 0h0m-33 1h0m16 0h0m-19 1h0m9 0h0m2 0h0m2 0h0m1 0h0m11 0h0m9 0h0m-34 1h0m2 0h0m4 1h0m2 0h0m9 0h0m64 0h0m-81 1h0m3 0h0m7 0h0m10 0h0m65 0h0m-80 1h0m-11 1h0m3 0h0m1 0h0m-1 1h0m-1 3h0m-4 1h0m2 0h0m92 2h0m-94 6h0m0 4h0m1 2h0m0 3h0m96 5h0m0 1h0m0 4h0m-1 3h0m-1 5h0m-94 2h0m-1 1h0m13 4h0m79 0h0m-76 1h0m54 0h0m1 0h0m18 0h0m-11 1h0m2 0h0m3 0h0" stroke="#4c4ca8" stroke-width="1" stroke-linecap="square" fill="none" transform="translate(.5 .5)"/>
<path d="M319 163h0m1 0h0m5 0h0m6 0h0m-38 1h0m47 0h0m1 0h0m1 0h0m2 0h0m2 1h0m2 2h0m0 2h0m-68 2h0m69 0h0m0 4h0m0 1h0m0 1h0m-63 2h0m1 0h0m2 1h0m60 3h0m-47 1h0m0 1h0m47 0h0m-41 1h0m40 0h0m-40 1h0m3 0h0m37 0h0m-38 1h0m7 0h0m32 0h0m-29 1h0m29 0h0m-41 1h0m3 0h0m2 0h0m1 0h0m4 0h0m1 0h0m-10 1h0m3 0h0m5 0h0m1 0h0m6 0h0m1 0h0m6 0h0m-22 1h0m11 0h0m4 0h0m1 0h0m5 0h0m1 0h0m-31 1h0m1 0h0m10 0h0m6 0h0m7 0h0m1 0h0m1 0h0m2 0h0m1 0h0m1 0h0m21 0h0m-51 1h0m4 0h0m2 0h0m1 0h0m1 0h0m2 0h0m2 0h0m6 0h0m2 0h0m1 0h0m3 0h0m1 0h0m-35 1h0m1 0h0m1 0h0m1 0h0m2 0h0m13 0h0m1 0h0m2 0h0m2 0h0m2 0h0m1 0h0m1 0h0m1 0h0m4 0h0m30 0h0m-65 1h0m7 0h0m2 0h0m1 0h0m6 0h0m2 0h0m1 0h0m3 0h0m-26 1h0m4 0h0m4 0h0m1 0h0m4 0h0m5 0h0m2 0h0m4 0h0m-33 1h0m1 0h0m10 0h0m2 0h0m1 0h0m4 0h0m11 0h0m3 0h0m2 0h0m-36 1h0m1 0h0m2 0h0m3 0h0m2 0h0m1 0h0m6 0h0m1 0h0m12 0h0m3 0h0m-32 1h0m2 0h0m3 0h0m6 0h0m1 0h0m3 0h0m1 0h0m4 0h0m4 0h0m2 0h0m2 0h0m56 0h0m-89 1h0m2 0h0m2 0h0m1 0h0m10 0h0m2 0h0m3 0h0m4 0h0m1 0h0m-23 1h0m7 0h0m3 0h0m2 0h0m4 0h0m1 0h0m4 0h0m5 0h0m-29 1h0m6 0h0m1 0h0m8 0h0m5 0h0m3 0h0m2 0h0m1 0h0m-24 1h0m9 0h0m1 0h0m2 0h0m2 0h0m75 0h0m-86 1h0m4 0h0m1 0h0m4 0h0m1 0h0m2 0h0m3 0h0m1 0h0m-19 1h0m6 0h0m3 0h0m1 0h0m5 0h0m2 0h0m-17 1h0m3 0h0m2 0h0m1 0h0m1 0h0m1 0h0m4 0h0m-12 1h0m2 0h0m1 0h0m1 0h0m4 0h0m5 0h0m-14 1h0m6 0h0m3 0h0m3 0h0m-7 2h0m4 0h0m-3 1h0m86 0h0m-87 1h0m-3 1h0m1 1h0m-1 1h0m90 1h0m-94 2h0m0 1h0m95 0h0m0 1h0m-96 1h0m96 1h0m0 2h0m0 4h0m-96 8h0m1 0h0m1 0h0m1 1h0m90 0h0m-89 1h0m88 0h0m-88 1h0m7 1h0m80 0h0m-79 1h0m1 0h0m77 0h0m1 0h0m-74 1h0m57 0h0m15 0h0m-71 1h0m38 0h0m5 0h0m3 0h0m1 0h0m13 0h0m4 0h0m1 0h0m3 0h0m1 0h0m-55 1h0m1 0h0m5 0h0m4 0h0m5 0h0m7 0h0m3 0h0" stroke="#3a34a0" stroke-width="1" stroke-linecap="square" fill="none" transform="translate(.5 .5)"/>
<path d="M314 163h0m3 0h0m1 0h0m8 0h0m-34 1h0m2 0h0m3 0h0m1 0h0m3 0h0m42 0h0m2 0h0m-56 1h0m-5 2h0m63 0h0m-64 1h0m65 3h0m-69 2h0m1 1h0m0 1h0m69 3h0m0 2h0m0 2h0m-46 3h0m1 0h0m1 0h0m43 0h0m1 1h0m-40 1h0m1 0h0m2 0h0m37 0h0m-37 1h0m3 0h0m1 0h0m-6 1h0m1 0h0m1 0h0m3 0h0m1 0h0m5 0h0m-12 1h0m14 0h0m-16 1h0m8 0h0m5 0h0m3 0h0m4 0h0m1 0h0m-24 1h0m8 0h0m1 0h0m6 0h0m2 0h0m-19 1h0m4 0h0m1 0h0m1 0h0m4 0h0m9 0h0m1 0h0m1 0h0m-7 1h0m1 0h0m2 0h0m4 0h0m3 0h0m-40 1h0m13 0h0m1 0h0m1 0h0m5 0h0m1 0h0m12 0h0m1 0h0m1 0h0m-39 1h0m1 0h0m5 0h0m14 0h0m5 0h0m3 0h0m1 0h0m2 0h0m2 0h0m1 0h0m1 0h0m1 0h0m35 0h0m-75 1h0m1 0h0m9 0h0m1 0h0m1 0h0m7 0h0m1 0h0m1 0h0m5 0h0m2 0h0m2 0h0m2 0h0m2 0h0m1 0h0m-34 1h0m1 0h0m1 0h0m3 0h0m7 0h0m3 0h0m1 0h0m1 0h0m4 0h0m2 0h0m3 0h0m4 0h0m-33 1h0m1 0h0m16 0h0m1 0h0m2 0h0m2 0h0m3 0h0m1 0h0m-21 1h0m8 0h0m1 0h0m3 0h0m3 0h0m4 0h0m1 0h0m-32 1h0m5 0h0m11 0h0m2 0h0m2 0h0m4 0h0m63 0h0m-90 1h0m1 0h0m2 0h0m1 0h0m1 0h0m2 0h0m1 0h0m12 0h0m1 0h0m4 0h0m65 0h0m-89 1h0m1 0h0m8 0h0m1 0h0m2 0h0m2 0h0m-10 1h0m3 0h0m1 0h0m7 0h0m2 0h0m5 0h0m-18 1h0m2 0h0m5 0h0m6 0h0m73 0h0m-93 1h0m5 0h0m6 0h0m5 0h0m1 0h0m2 0h0m-17 1h0m2 0h0m1 0h0m7 0h0m1 0h0m4 0h0m-7 1h0m5 0h0m-11 1h0m1 0h0m2 0h0m87 0h0m-91 1h0m4 0h0m2 0h0m1 0h0m-4 1h0m2 0h0m86 0h0m-87 1h0m1 1h0m86 0h0m-87 1h0m-4 1h0m0 1h0m-2 2h0m93 0h0m1 0h0m-95 3h0m95 1h0m0 2h0m-94 14h0m91 1h0m-87 1h0m3 1h0m7 2h0m53 0h0m4 0h0m-54 1h0m1 0h0m1 0h0m33 0h0m8 0h0m1 0h0m16 0h0m2 0h0m-56 1h0m2 0h0m2 0h0m5 0h0m3 0h0m13 0h0m1 0h0m8 0h0m1 0h0" stroke="#6464b4" stroke-width="1" stroke-linecap="square" fill="none" transform="translate(.5 .5)"/>
<path d="M312 163h0m3 0h0m9 0h0m3 0h0m1 0h0m-37 1h0m9 0h0m49 8h0m0 2h0m0 5h0m-54 3h0m16 6h0m37 0h0m-39 1h0m9 0h0m1 0h0m-12 1h0m9 0h0m1 0h0m7 0h0m1 0h0m1 0h0m23 0h0m1 0h0m-42 1h0m11 0h0m7 0h0m3 0h0m1 0h0m-27 1h0m11 0h0m2 0h0m6 0h0m5 0h0m-23 1h0m6 0h0m4 0h0m-21 1h0m2 0h0m2 0h0m1 0h0m3 0h0m13 0h0m37 0h0m-63 1h0m8 0h0m9 0h0m-20 1h0m8 0h0m2 0h0m9 0h0m10 0h0m-37 1h0m3 0h0m2 0h0m2 0h0m9 0h0m7 0h0m5 0h0m6 0h0m3 0h0m-36 1h0m11 0h0m1 0h0m7 0h0m2 0h0m8 0h0m-36 1h0m8 0h0m3 0h0m1 0h0m1 0h0m6 0h0m2 0h0m3 0h0m9 0h0m1 0h0m49 0h0m-76 1h0m1 0h0m6 0h0m3 0h0m6 0h0m4 0h0m-25 1h0m2 0h0m4 0h0m13 0h0m2 0h0m3 0h0m-25 1h0m5 0h0m2 0h0m3 0h0m1 0h0m5 0h0m2 0h0m2 0h0m1 0h0m-29 1h0m2 0h0m8 0h0m9 0h0m6 0h0m67 0h0m-83 1h0m10 0h0m-17 1h0m1 0h0m1 0h0m8 0h0m7 0h0m-13 1h0m2 0h0m7 0h0m78 0h0m-79 1h0m4 0h0m-17 1h0m7 0h0m5 0h0m1 0h0m-1 1h0m-9 1h0m4 0h0m4 0h0m-7 1h0m0 1h0m4 0h0m-3 1h0m88 1h0m-90 1h0m90 0h0m-92 2h0m1 0h0m-2 2h0m94 0h0m-96 5h0m96 3h0m-2 8h0m-94 1h0m93 1h0m-86 3h0m85 0h0m-86 1h0m4 0h0m0 1h0m4 0h0m51 1h0m5 0h0m2 0h0m18 0h0m-67 1h0m32 0h0m3 0h0m8 0h0m11 0h0m11 0h0m-65 1h0m13 0h0m7 0h0m1 0h0m2 0h0m7 0h0m3 0h0" stroke="#9c9cca" stroke-width="1" stroke-linecap="square" fill="none" transform="translate(.5 .5)"/>
<path d="M302 164h0m2 0h0m3 0h0m1 0h0m2 0h0m1 0h0m1 0h0m2 0h0m6 0h0m1 0h0m12 0h0m1 0h0m1 0h0m2 0h0m1 0h0m-48 1h0m1 0h0m3 0h0m2 0h0m1 0h0m1 0h0m3 0h0m2 0h0m1 0h0m1 0h0m3 0h0m26 0h0m2 0h0m1 0h0m4 0h0m3 0h0m1 0h0m-57 1h0m58 0h0m-61 1h0m2 0h0m-2 1h0m-2 1h0m64 0h0m0 1h0m0 1h0m0 1h0m0 1h0m-66 1h0m1 1h0m66 0h0m-64 1h0m64 0h0m-64 1h0m1 0h0m1 0h0m0 1h0m1 0h0m1 0h0m0 1h0m1 0h0m1 0h0m1 0h0m57 0h0m-57 1h0m1 0h0m1 1h0m2 0h0m1 0h0m52 0h0m-50 1h0m1 0h0m0 1h0m1 0h0m47 0h0m1 0h0m-45 1h0m2 0h0m42 0h0m1 0h0m-42 1h0m1 0h0m1 0h0m1 0h0m1 1h0m1 0h0m1 0h0m2 1h0m3 0h0m1 0h0m28 0h0m-27 1h0m2 0h0m2 0h0m23 0h0m-19 1h0m1 0h0m1 0h0m2 0h0m15 0h0m-19 1h0m1 0h0m2 0h0m1 0h0m1 0h0m1 0h0m1 0h0m13 0h0m-13 1h0m1 0h0m1 0h0m11 0h0m1 0h0m1 0h0m-16 1h0m1 0h0m14 0h0m1 0h0m-18 1h0m1 0h0m1 0h0m16 0h0m-22 1h0m1 0h0m1 0h0m1 0h0m1 0h0m3 0h0m14 0h0m2 0h0m-24 1h0m2 0h0m1 0h0m1 0h0m3 0h0m16 0h0m-30 1h0m1 0h0m1 0h0m8 0h0m1 0h0m3 0h0m16 0h0m1 0h0m1 0h0m-34 1h0m2 0h0m2 0h0m2 0h0m1 0h0m5 0h0m2 0h0m1 0h0m1 0h0m17 0h0m2 0h0m-40 1h0m5 0h0m1 0h0m1 0h0m3 0h0m1 0h0m1 0h0m3 0h0m2 0h0m1 0h0m2 0h0m20 0h0m1 0h0m-45 1h0m1 0h0m1 0h0m1 0h0m1 0h0m3 0h0m2 0h0m1 0h0m2 0h0m1 0h0m3 0h0m1 0h0m1 0h0m1 0h0m1 0h0m1 0h0m-26 1h0m1 0h0m2 0h0m1 0h0m1 0h0m6 0h0m4 0h0m2 0h0m1 0h0m3 0h0m1 0h0m2 0h0m1 0h0m2 0h0m23 0h0m1 0h0m-53 1h0m3 0h0m2 0h0m2 0h0m1 0h0m2 0h0m3 0h0m1 0h0m1 0h0m2 0h0m4 0h0m2 0h0m1 0h0m3 0h0m26 0h0m-59 1h0m1 0h0m1 0h0m1 0h0m3 0h0m1 0h0m1 0h0m2 0h0m1 0h0m1 0h0m5 0h0m2 0h0m2 0h0m1 0h0m3 0h0m2 0h0m-27 1h0m2 0h0m2 0h0m4 0h0m1 0h0m1 0h0m3 0h0m3 0h0m3 0h0m41 0h0m-64 1h0m2 0h0m1 0h0m1 0h0m1 0h0m3 0h0m2 0h0m2 0h0m1 0h0m1 0h0m1 0h0m1 0h0m-20 1h0m1 0h0m3 0h0m1 0h0m1 0h0m2 0h0m1 0h0m1 0h0m2 0h0m1 0h0m1 0h0m1 0h0m54 0h0m-71 1h0m4 0h0m2 0h0m1 0h0m5 0h0m59 0h0m-73 1h0m1 0h0m7 0h0m2 0h0m-12 1h0m3 0h0m1 0h0m1 0h0m2 0h0m1 0h0m67 0h0m-76 1h0m2 0h0m1 0h0m1 0h0m-3 1h0m1 0h0m74 0h0m1 0h0m-81 1h0m1 0h0m1 0h0m1 0h0m1 0h0m76 0h0m1 0h0m-83 1h0m3 0h0m80 0h0m-84 1h0m3 0h0m81 0h0m-85 1h0m-2 1h0m1 0h0m-2 1h0m3 0h0m85 0h0m-89 1h0m2 0h0m1 0h0m86 0h0m-90 1h0m1 0h0m1 0h0m-3 1h0m2 0h0m-3 1h0m1 0h0m1 0h0m1 0h0m89 0h0m1 0h0m-1 1h0m-92 1h0m1 0h0m91 1h0m1 0h0m-92 1h0m91 0h0m-93 1h0m1 0h0m93 0h0m-94 1h0m1 0h0m92 0h0m-94 1h0m2 0h0m93 0h0m-94 1h0m1 0h0m-2 1h0m95 0h0m-94 1h0m1 0h0m92 0h0m1 0h0m-95 1h0m2 0h0m-2 1h0m1 0h0m93 0h0m-1 1h0m-91 1h0m1 0h0m89 0h0m-89 1h0m-2 1h0m1 0h0m1 0h0m1 0h0m1 0h0m-2 1h0m1 0h0m1 0h0m1 0h0m86 0h0m-88 1h0m1 0h0m1 0h0m2 0h0m1 0h0m81 0h0m1 0h0m1 0h0m-85 1h0m4 0h0m1 0h0m-4 1h0m1 0h0m1 0h0m1 0h0m3 0h0m52 0h0m1 0h0m1 0h0m2 0h0m18 0h0m1 0h0m-76 1h0m2 0h0m47 0h0m3 0h0m3 0h0m1 0h0m1 0h0m16 0h0m1 0h0m-72 1h0m1 0h0m1 0h0m1 0h0m2 0h0m33 0h0m3 0h0m1 0h0m9 0h0m4 0h0m2 0h0m1 0h0m1 0h0m1 0h0m2 0h0m1 0h0m4 0h0m1 0h0m2 0h0m2 0h0m-68 1h0m4 0h0m1 0h0m3 0h0m15 0h0m2 0h0m1 0h0m1 0h0m1 0h0m2 0h0m1 0h0m1 0h0m5 0h0m2 0h0m3 0h0m1 0h0m16 0h0m1 0h0m3 0h0m1 0h0m1 0h0m3 0h0m-63 1h0m2 0h0m1 0h0m1 0h0m1 0h0m2 0h0m1 0h0m5 0h0m1 0h0m1 0h0m2 0h0m1 0h0m1 0h0m4 0h0m1 0h0m2 0h0m2 0h0" stroke="#2c2290" stroke-width="1" stroke-linecap="square" fill="none" transform="translate(.5 .5)"/>
<path d="M305 164h0m1 0h0m7 0h0m5 0h0m4 0h0m3 0h0m1 0h0m1 0h0m1 0h0m2 0h0m1 0h0m1 0h0m7 0h0m-46 1h0m2 0h0m4 0h0m1 0h0m2 0h0m4 0h0m3 0h0m26 0h0m3 0h0m5 0h0m-56 1h0m2 0h0m1 0h0m55 0h0m-59 1h0m-2 1h0m63 0h0m-65 1h0m-1 6h0m67 2h0m0 1h0m-55 2h0m55 2h0m-47 1h0m1 0h0m2 1h0m43 1h0m-34 1h0m34 0h0m-31 1h0m2 1h0m6 0h0m23 0h0m-25 1h0m1 0h0m1 0h0m2 0h0m22 0h0m-19 1h0m6 0h0m13 0h0m-16 2h0m15 0h0m-13 1h0m1 0h0m13 0h0m2 0h0m-17 1h0m-9 1h0m7 0h0m19 0h0m1 0h0m-24 1h0m-12 1h0m5 0h0m2 0h0m3 0h0m2 0h0m3 0h0m-19 1h0m2 0h0m2 0h0m10 0h0m1 0h0m2 0h0m-22 1h0m24 0h0m23 0h0m-51 1h0m3 0h0m6 0h0m5 0h0m3 0h0m-20 1h0m1 0h0m5 0h0m2 0h0m5 0h0m1 0h0m4 0h0m2 0h0m1 0h0m3 0h0m3 0h0m-27 1h0m1 0h0m10 0h0m1 0h0m4 0h0m4 0h0m2 0h0m-29 1h0m4 0h0m2 0h0m2 0h0m6 0h0m1 0h0m2 0h0m1 0h0m2 0h0m-20 1h0m5 0h0m5 0h0m53 0h0m-66 1h0m9 0h0m57 0h0m-69 1h0m2 0h0m2 0h0m3 0h0m5 0h0m-12 1h0m2 0h0m1 0h0m1 0h0m2 0h0m2 0h0m-12 1h0m5 0h0m3 0h0m-11 1h0m6 0h0m1 0h0m70 0h0m-78 1h0m1 0h0m1 0h0m3 0h0m-5 2h0m-4 1h0m-1 1h0m1 0h0m-2 1h0m-1 1h0m-2 1h0m-2 2h0m-2 2h0m1 0h0m1 0h0m-2 2h0m-2 2h0m94 0h0m-93 2h0m-1 1h0m2 1h0m-1 2h0m93 0h0m-92 1h0m91 0h0m-93 1h0m1 0h0m1 0h0m-1 1h0m92 0h0m-92 1h0m1 0h0m91 0h0m0 1h0m-88 3h0m1 0h0m2 0h0m1 0h0m1 0h0m80 0h0m-78 1h0m1 0h0m51 0h0m1 0h0m4 0h0m-57 1h0m2 0h0m46 0h0m4 0h0m2 0h0m1 0h0m4 0h0m17 0h0m1 0h0m-70 1h0m35 0h0m1 0h0m3 0h0m2 0h0m5 0h0m2 0h0m1 0h0m1 0h0m2 0h0m8 0h0m1 0h0m4 0h0m2 0h0m-68 1h0m3 0h0m1 0h0m4 0h0m2 0h0m13 0h0m16 0h0m2 0h0m1 0h0m4 0h0m17 0h0m4 0h0m1 0h0m-56 1h0m3 0h0m1 0h0m6 0h0m5 0h0m1 0h0" stroke="#3a3aa8" stroke-width="1" stroke-linecap="square" fill="none" transform="translate(.5 .5)"/>
<path d="M315 164h0m2 0h0m-25 1h0m18 0h0m29 0h0m7 2h0m-65 3h0m-1 2h0m68 1h0m0 1h0m-65 2h0m32 11h0m32 0h0m-27 1h0m2 0h0m8 1h0m5 3h0m-3 2h0m17 0h0m-17 1h0m-4 1h0m24 0h0m-36 1h0m10 0h0m25 0h0m-30 1h0m30 0h0m-44 1h0m6 0h0m3 0h0m3 0h0m-10 1h0m6 0h0m2 0h0m5 0h0m4 0h0m3 0h0m-27 1h0m19 0h0m6 0h0m-23 1h0m9 0h0m5 0h0m37 0h0m-53 1h0m-2 1h0m8 0h0m-5 1h0m-9 1h0m-7 1h0m-12 5h0m1 0h0m-3 3h0m84 0h0m-87 1h0m0 2h0m87 0h0m0 1h0m-93 4h0m2 0h0m-1 1h0m93 0h0m-95 2h0m94 7h0m-90 2h0m88 0h0m-85 2h0m84 0h0m-75 4h0m45 0h0m2 0h0m27 0h0m-31 1h0m3 0h0m2 0h0m12 0h0m5 0h0m7 0h0m-68 1h0m5 0h0m27 0h0m1 0h0m1 0h0m9 0h0m-27 1h0" stroke="#8080bc" stroke-width="1" stroke-linecap="square" fill="none" transform="translate(.5 .5)"/>
<g filter="url(#blc1)"><path d="M301.5,244.1 290.5,243.9 285,243.1 280.5,242.1 269.5,238.4 264.5,234.6 265,226.2 266.6,221.6 268.9,218.6 275,214 284,209.7 311,203.3 330,200.2 332.5,197.7 335.7,191.1 333.5,190.2 311.5,186.2 293.5,180.7 282.5,175.6 280.9,173.6 281.2,171.6 282.5,170 287.5,167.2 291.5,166 295.4,165.6 324.5,165 345,165.8 346.8,168.6 348,175.6 348.2,181.6 346.9,188.6 349.3,194.1 354.9,202.6 356.9,211.6 357.9,229.6 354.5,238.1 353,240.6 350,242.4 346,242.9 340.5,242.8 332,241.3 322,242.7 301.5,244.1Z" fill="#2d2494" fill-rule="evenodd"/><path d="M303,243.1 294,243.2 285.5,242.3 280.5,240.9 274.9,237.6 271.7,234.1 270.3,231.1 269.7,227.6 270.3,222.1 272.2,218.6 277,214.4 285,210.7 313,204.5 330,202.4 332.5,200.6 335.6,195.6 338.5,192.6 338.9,191.6 338,190.6 335.5,189.5 317,186.8 304.6,183.6 283,175.2 281.5,173.6 281.6,171.6 283.5,169.9 293.1,167.1 312.5,166.3 344.5,166.4 345.9,168.1 346.7,171.1 347.5,181.1 346.7,185.6 345.7,188.1 345.7,192.1 343.6,194.6 343.5,195.6 344.5,196.6 350.5,198.9 352.9,201.1 354.6,204.6 356,211.6 357.1,229.1 354,236.1 352,238.5 346.5,241.2 340.5,242.1 337,241.3 333.8,239.6 332.3,238.1 330,234.3 329,233.9 324.6,238.1 320,240.5 311.5,242.3 303,243.1Z" fill="#2e2ca3" fill-rule="evenodd"/><path d="M335,187.2 333,187.5 328.5,186.5 319.5,186.3 310.5,184.5 303.5,181.6 299.5,177.1 283.5,174.7 282.1,173.6 281.9,172.1 283,170.7 284.5,170.3 303,172.1 319,171.7 328.5,173.2 334,172.3 336,173.4 337.4,175.1 339.2,180.1 337.9,184.1 335,187.2ZM341.5,189.2 341,189.4 340.4,188.6 342,187.1 342.8,185.1 343,175.6 343.6,171.1 344.5,170.2 345.5,172.3 345.9,176.1 346.1,181.1 345.5,185.1 344,188.1 341.5,189.2ZM343,241.1 339,241.1 335.2,239.1 332.6,235.1 331.2,229.6 330.8,222.6 333.2,213.6 332.3,204.6 334,201.6 337,199.9 346.5,200.4 351,201.8 352.9,204.1 354.5,211.7 355.5,229.1 351.5,235.9 345.4,240.1 343,241.1ZM300.5,242.1 290.5,242.1 286,241.4 281.5,239.8 278,237.2 275.1,233.1 273.3,227.1 273.6,222.6 275.2,218.6 277.5,216 281,213.6 291.5,210.3 316.5,205.7 322.5,206 325.5,207.3 327,208.8 329.2,212.6 330.1,216.1 330.4,220.1 328.2,227.1 324.9,232.6 321.5,236.1 315,239.7 310.5,240.9 300.5,242.1Z" fill="#2e37b2" fill-rule="evenodd"/><path d="M334,185.7 332.5,185.8 328.5,184.9 319.5,185.3 312,184 305.7,181.1 302.5,177 299.1,176.1 283.5,174.2 282.5,173.3 282.4,172.1 284,170.8 304,172.8 319.5,172.8 329,174.5 334,173.9 336.5,176.1 337.6,180.1 336.5,183.6 334,185.7ZM296.5,241.1 290,240.9 286,240.2 282,238.4 278.7,235.6 275.6,230.1 274.9,226.1 275.2,223.1 276.1,220.6 278.5,217.2 281.5,215 285.5,213.3 313.5,207.8 319.5,207.7 322,208.4 325,210.1 327.7,214.1 328.3,216.6 328.3,220.1 326.5,226.6 323,232.3 318.5,236.2 314,238.4 306.5,240.2 296.5,241.1ZM343,240.2 339.5,240.4 336,238.6 333.4,234.6 332.1,229.6 332.2,223.1 333.8,217.6 336.5,213.2 339.5,211.7 343,212.4 345.7,214.6 348.3,219.1 349.4,223.6 349.7,228.6 348.7,233.6 346.4,237.6 343,240.2Z" fill="#2f56c6" fill-rule="evenodd"/><path d="M333,184.6 329,183.7 321,184.5 313.5,183.5 307.9,181.1 306.3,179.6 305.4,177.6 304,176.6 299.5,175.6 284,173.7 282.9,173.1 282.9,172.1 284,171.3 303.5,173.3 320,173.7 330,175.6 333.5,175 335.7,176.6 336.6,180.1 335.5,183.3 333,184.6ZM302,239.6 290,239.8 286,238.9 282.3,237.1 279.6,234.6 276.6,229.1 276.4,223.6 277.8,220.1 279.5,218.1 282.5,215.9 285.5,214.7 295,212.5 316.5,209 321,209.7 324,211.2 326.3,214.1 327,216.6 327,219.6 325.3,226.1 322.3,231.1 319.5,233.9 314,237.1 310,238.3 302,239.6ZM341.5,239.6 338.5,239.3 335.5,236.9 333.4,232.6 332.6,228.1 332.9,223.1 334.6,218.1 337,215.1 340,214 343,214.8 345.8,217.6 347.6,221.6 348.3,226.1 348.1,230.6 346.7,235.1 344.4,238.1 341.5,239.6Z" fill="#317cd7" fill-rule="evenodd"/><path d="M322,183.6 316.5,183.3 311.5,181.9 308.7,180.1 307,177.1 304,175.8 283.5,172.6 284,172 301.5,173.9 320,174.3 330.5,176.7 333.5,176.3 335.3,178.1 335.5,181.1 334.7,182.6 333.5,183.3 329,182.5 322,183.6ZM300,238.6 290.5,238.7 287,238 283.5,236.5 281,234.5 278.2,230.1 277.3,226.1 278.4,221.6 280.2,219.1 283,217 288,215.3 314,210.5 319,210.5 323.5,212.4 325.2,214.6 325.8,219.6 324.3,225.6 321.2,230.6 317,234.3 313.5,236 306.5,237.8 300,238.6ZM341.5,238.7 338.5,238.4 336,236.4 334.2,233.1 333.2,228.1 333.6,223.1 335,219.1 337,216.5 340,215.3 342.5,215.9 344.9,218.1 346.7,221.6 347.5,225.6 347.3,230.1 346.2,234.1 344,237.3 341.5,238.7Z" fill="#3ab4e1" fill-rule="evenodd"/><path d="M324,182.6 318,182.7 312.5,181.3 310,179.6 308.8,177.1 306.4,175.1 313.5,174.5 321,175 328.5,176.5 330.5,178.2 333,177.5 334.5,178.9 334.5,180.6 333.5,181.9 332,182 329.5,180.7 324,182.6ZM299.5,237.6 290.5,237.7 287,237 284,235.6 281.5,233.6 278.8,229.1 278.3,226.1 279.3,222.1 281,219.8 283.5,218 289,216.1 314,211.7 319,211.7 323,213.5 324.2,215.1 324.8,217.1 324.3,222.1 322,227.6 318.8,231.6 316,233.6 310,236 299.5,237.6ZM342,237.6 339,237.7 336.6,236.1 334.8,233.1 333.7,228.6 333.9,224.1 335.2,220.1 337.5,217.2 340,216.3 342.5,216.9 344.5,218.8 346.2,222.1 346.9,225.6 346.8,229.6 345.9,233.1 344.1,236.1 342,237.6Z" fill="#41c1bd" fill-rule="evenodd"/><path d="M324,181.6 319.5,182 314.5,181.1 312,179.6 310.2,176.1 310.4,175.6 312.5,175.2 318.5,175.2 324,176 328.5,177.5 328.4,178.6 324,181.6ZM294.5,236.6 287.5,235.9 284.5,234.6 281.7,232.1 279.8,228.6 279.4,226.1 280.5,222.3 282,220.5 285.5,218.4 289.5,217.3 314,212.9 319,212.9 321.9,214.1 322.8,215.1 323.6,217.6 322.9,222.6 320.9,227.1 317.6,231.1 313,233.7 309.5,234.9 302,236.2 294.5,236.6ZM340.5,237.1 338,236.4 336.2,234.6 334.8,231.6 334.1,227.6 334.6,223.1 335.9,220.1 338,217.8 340,217.2 342.5,217.9 344.2,219.6 345.7,222.6 346.4,226.6 346,230.6 344.7,234.1 342.5,236.5 340.5,237.1Z" fill="#47bf86" fill-rule="evenodd"/><path d="M322.5,180.6 319,180.9 315.5,180.1 314.2,179.1 313.6,176.6 315,176 319,176 323,176.6 325.2,177.6 324.1,179.6 322.5,180.6ZM294.5,235.1 287.5,234.4 285,233.4 282.8,231.6 281.2,229.1 280.7,226.1 281.5,223.5 283,221.6 286.5,219.7 290,218.8 314.5,214.5 318.5,214.5 321.5,216.1 322,219.1 320.7,224.1 318.3,228.1 315.5,230.6 309,233.4 301.8,234.6 294.5,235.1ZM341,236.2 338.5,235.8 336.6,234.1 335.4,231.6 334.7,228.1 334.9,224.6 336,221.1 338,218.8 340,218.1 342,218.5 344,220.5 345.2,223.1 345.8,226.6 344.7,232.6 343,235.1 341,236.2Z" fill="#4bb94d" fill-rule="evenodd"/><path d="M295.5,233.2 289.5,233.3 284.5,231.5 282.8,229.6 282.2,228.1 282.2,226.1 283,224.4 286,222 291.5,220.5 312,217.6 317.5,218 318.3,218.6 317.2,224.1 314.5,227.3 308.5,229.9 295.5,233.2ZM341.5,235.1 339.5,235.3 337.5,234 336,231.6 335.3,228.6 335.4,225.1 336.3,222.1 338,219.8 340,219 342,219.5 343.5,221 344.7,223.6 345.2,226.1 344.5,231.6 343,234 341.5,235.1Z" fill="#8bc936" fill-rule="evenodd"/><path d="M293.5,232.2 289,232.1 285.4,230.6 283.7,228.1 283.7,226.6 284.5,225.1 287.5,223 291.5,221.8 301,221.4 312,219.6 313.5,220 314.6,221.1 314.7,223.1 313,224.9 304.5,227.5 298,230.9 293.5,232.2ZM341,234.3 339,234.1 337.5,232.8 336.3,230.6 335.8,228.1 336,225.1 336.8,222.6 338,221 340,220 341.5,220.3 343,221.6 344.2,224.1 344.6,226.6 343.7,231.6 342.5,233.3 341,234.3Z" fill="#c9d927" fill-rule="evenodd"/><path d="M341,233.3 339.5,233.3 338,232.3 336.4,228.1 336.5,225.6 337.3,223.1 338.5,221.6 340,221 341.5,221.4 342.8,222.6 344,226.6 343.2,231.1 341,233.3ZM294.5,231.2 290.5,231.5 287,230.4 285.2,228.6 285.3,226.1 287.5,224 291,222.7 302,222.7 312,221.3 313,222 312.5,223.2 304,226 298,229.8 294.5,231.2Z" fill="#f2e21c" fill-rule="evenodd"/><path d="M341,232.3 339.5,232.4 338.5,231.7 337,228.1 337.6,224.1 338.5,222.7 340,221.9 342.3,223.1 343.4,226.6 342.9,230.1 341,232.3ZM294,230.6 290.5,230.9 287.5,229.8 286.1,228.1 286.4,226.1 288.8,224.1 292,223.2 297.5,223.4 301.7,224.6 301.1,226.1 298.4,228.6 294,230.6Z" fill="#f3b51e" fill-rule="evenodd"/><path d="M341,231.2 339,230.9 337.7,228.1 338.2,224.6 340,223 341.9,224.1 342.8,226.6 342.5,229.1 341,231.2ZM293.5,230.1 291,230.3 288.5,229.5 287.1,228.1 287.5,226.1 289.5,224.5 292,223.8 296,224 298.9,225.1 298.9,226.6 297.7,228.1 293.5,230.1Z" fill="#ed721d" fill-rule="evenodd"/><path d="M293.5,229.6 291,229.8 289,229.1 287.9,227.6 288.4,226.1 291.5,224.4 294.5,224.3 297,225.1 297.8,226.1 297.1,227.6 293.5,229.6ZM340.5,230.2 339,229.5 338.4,227.6 338.6,225.6 340,224.2 341.5,225 342,226.6 341.7,229.1 340.5,230.2Z" fill="#e0231a" fill-rule="evenodd"/></g>
</g>
<filter id="bla2" x="-5%" y="-5%" width="110%" height="110%"><feGaussianBlur stdDeviation="0.45"/></filter>
<clipPath id="cpa2"><rect x="44.8" y="237.5" width="141.00" height="140.90"/></clipPath>
<g clip-path="url(#cpa2)">
<path d="M54 237h0m20 7h0m9 8h0m56 7h0m-62 8h0m67 11h0m-2 4h0m4 1h0m4 1h0m-15 1h0m-4 3h0m-4 2h0m37 1h0m-36 1h0m-14 3h0m32 2h0m24 0h0m-59 2h0m15 0h0m-9 2h0m6 0h0m1 0h0m21 1h0m-31 1h0m22 2h0m-30 1h0m5 0h0m2 0h0m19 1h0m2 0h0m8 0h0m-5 1h0m-28 1h0m24 0h0m-24 1h0m18 0h0m2 0h0m-1 1h0m-27 2h0m30 1h0m-28 1h0m55 0h0m-58 2h0m1 0h0m23 1h0m-27 2h0m25 0h0m4 0h0m-5 1h0m16 0h0m-6 1h0m2 0h0m-51 1h0m9 1h0m29 0h0m6 0h0m-43 1h0m37 1h0m1 1h0m2 0h0m1 1h0m-44 1h0m39 0h0m-47 1h0m45 0h0m-37 1h0m40 1h0m3 1h0m18 0h0m-68 1h0m43 0h0m0 2h0m9 2h0m13 0h0m19 0h0m-4 1h0m-31 1h0m22 0h0m-7 1h0m6 0h0m-91 1h0m107 0h0m-34 1h0m-1 1h0m6 0h0m2 0h0m32 2h0m-116 1h0m115 1h0m-115 1h0m-2 2h0m117 0h0m3 1h0m-39 1h0m7 0h0m-7 2h0m12 0h0m22 0h0m19 0h0m-71 1h0m1 0h0m30 0h0m1 0h0m5 0h0m2 0h0m-45 1h0m-2 1h0m12 0h0m13 0h0m8 0h0m21 0h0m-60 1h0m10 0h0m-54 1h0m5 2h0m39 0h0m1 0h0m3 0h0m10 0h0m-48 1h0m11 0h0m25 0h0m5 0h0m-39 1h0m42 0h0m-8 2h0m81 0h0m-110 12h0" stroke="#8fa8dc" stroke-width="1" stroke-linecap="square" fill="none" transform="translate(.5 .5)"/>
<path d="M146 262h0m6 7h0m29 0h0m-62 2h0m-45 9h0m71 0h0m33 0h0m-39 2h0m6 0h0m-8 1h0m-4 3h0m17 2h0m-91 5h0m67 4h0m-14 2h0m5 0h0m27 0h0m-31 4h0m3 0h0m-28 1h0m19 0h0m31 0h0m-22 1h0m21 0h0m2 0h0m1 0h0m-7 1h0m-3 1h0m-22 2h0m-4 1h0m29 0h0m-23 1h0m23 1h0m-31 1h0m4 1h0m19 0h0m-29 1h0m2 0h0m6 0h0m24 0h0m5 0h0m-35 1h0m28 0h0m-4 1h0m11 0h0m-11 1h0m3 1h0m-33 1h0m4 0h0m27 0h0m-25 1h0m24 0h0m7 0h0m0 1h0m-44 1h0m37 0h0m-28 1h0m40 0h0m-12 1h0m2 0h0m8 0h0m-53 1h0m9 0h0m-2 2h0m35 0h0m2 0h0m4 0h0m-48 1h0m5 1h0m35 0h0m-36 1h0m35 0h0m-43 1h0m3 0h0m-6 1h0m3 0h0m41 0h0m-42 2h0m45 0h0m8 0h0m-55 1h0m-11 1h0m1 0h0m65 0h0m-64 1h0m59 0h0m31 0h0m-37 1h0m17 0h0m7 0h0m12 0h0m3 0h0m-106 1h0m68 0h0m15 1h0m12 0h0m11 0h0m2 0h0m-39 1h0m3 0h0m1 0h0m7 0h0m-77 1h0m1 0h0m68 0h0m-70 1h0m76 0h0m6 0h0m-82 1h0m111 0h0m0 2h0m6 4h0m-49 2h0m2 0h0m8 0h0m-18 1h0m4 0h0m4 0h0m5 0h0m3 0h0m1 0h0m1 0h0m-10 1h0m5 0h0m19 0h0m-40 1h0m4 0h0m40 0h0m3 0h0m-103 1h0m50 0h0m1 0h0m8 0h0m41 0h0m1 0h0m4 0h0m2 0h0m6 0h0m-70 1h0m4 0h0m9 0h0m-10 1h0m1 0h0m45 0h0m-49 1h0m10 0h0m-55 1h0m37 0h0m5 0h0m1 0h0m-31 1h0m21 0h0m4 0h0m6 1h0m-24 1h0m2 1h0m1 0h0m106 5h0" stroke="#b8c0dc" stroke-width="1" stroke-linecap="square" fill="none" transform="translate(.5 .5)"/>
<path d="M56 239h0m35 20h0m90 0h0m-36 2h0m36 1h0m-44 2h0m6 17h0m26 1h0m-39 1h0m19 3h0m3 0h0m-76 4h0m47 0h0m4 4h0m-4 4h0m1 0h0m-3 1h0m26 2h0m-32 3h0m25 0h0m-95 1h0m66 0h0m20 2h0m2 0h0m-29 1h0m4 0h0m2 0h0m0 1h0m1 0h0m21 1h0m-80 2h0m53 0h0m21 0h0m3 1h0m-5 1h0m-23 1h0m-1 1h0m63 0h0m-71 1h0m32 0h0m2 0h0m-28 2h0m26 0h0m-33 2h0m5 0h0m27 0h0m-33 1h0m29 0h0m1 0h0m-1 1h0m1 0h0m1 0h0m9 0h0m-6 1h0m-34 1h0m2 0h0m28 0h0m6 3h0m3 1h0m-44 1h0m35 0h0m3 0h0m-48 1h0m3 0h0m45 0h0m-43 1h0m42 0h0m-5 1h0m6 1h0m4 0h0m-54 2h0m1 0h0m41 1h0m26 0h0m8 0h0m0 1h0m-34 1h0m4 0h0m17 0h0m14 0h0m-98 1h0m104 0h0m-40 1h0m2 0h0m-65 1h0m71 0h0m8 0h0m9 0h0m21 0h0m-34 1h0m4 0h0m6 0h0m-3 1h0m27 2h0m3 1h0m-117 1h0m114 1h0m0 1h0m-39 3h0m-11 1h0m11 0h0m15 0h0m20 0h0m-111 1h0m60 0h0m4 0h0m14 0h0m1 0h0m33 0h0m4 0h0m-115 1h0m54 0h0m2 0h0m18 0h0m1 0h0m32 0h0m-25 1h0m8 0h0m-46 1h0m1 0h0m2 0h0m10 0h0m-9 1h0m11 0h0m-20 1h0m7 0h0m-50 1h0m40 0h0m-25 2h0m34 1h0m-31 1h0m105 1h0" stroke="#6a8cd6" stroke-width="1" stroke-linecap="square" fill="none" transform="translate(.5 .5)"/>
<path d="M62 238h0m77 43h0m4 1h0m-11 4h0m51 0h0m-33 3h0m-25 8h0m0 1h0m-6 4h0m3 0h0m-12 4h0m19 2h0m4 0h0m-29 5h0m22 0h0m-30 3h0m8 0h0m-13 4h0m2 0h0m4 1h0m35 0h0m9 0h0m-46 1h0m22 4h0m-28 1h0m-1 1h0m34 0h0m-48 4h0m-11 5h0m83 2h0m0 1h0m7 0h0m1 1h0m-31 3h0m39 0h0m-114 2h0m115 1h0m19 4h0m-62 2h0m-10 1h0m-5 1h0m10 0h0m12 1h0m24 0h0m-100 3h0m42 1h0m-40 2h0m17 1h0m4 0h0m11 4h0m22 2h0m-5 4h0" stroke="#e0c8d0" stroke-width="1" stroke-linecap="square" fill="none" transform="translate(.5 .5)"/>
<path d="M144 283h0m2 3h0m-14 2h0m16 0h0m-19 5h0m1 0h0m-2 1h0m1 0h0m17 1h0m-18 1h0m16 1h0m-17 2h0m0 1h0m15 0h0m-13 2h0m10 0h0m-16 1h0m1 0h0m14 0h0m1 0h0m-19 1h0m2 0h0m14 0h0m1 0h0m-16 1h0m7 0h0m-10 1h0m-2 1h0m3 0h0m1 0h0m6 0h0m-10 1h0m1 0h0m4 0h0m4 0h0m-12 1h0m2 0h0m5 0h0m4 0h0m-13 2h0m3 0h0m11 0h0m-10 1h0m5 0h0m3 0h0m-13 1h0m5 0h0m-1 1h0m1 0h0m2 0h0m5 0h0m1 0h0m-15 1h0m1 0h0m2 0h0m2 0h0m8 0h0m-11 1h0m-5 1h0m12 0h0m-13 1h0m2 0h0m3 0h0m3 0h0m3 0h0m3 0h0m-2 2h0m3 0h0m-19 1h0m15 0h0m-18 1h0m2 0h0m3 0h0m-4 1h0m2 0h0m2 0h0m1 0h0m12 0h0m-13 1h0m6 0h0m5 0h0m-19 1h0m2 0h0m1 0h0m2 0h0m5 0h0m5 0h0m-14 1h0m4 0h0m3 0h0m2 0h0m1 0h0m-11 1h0m2 0h0m3 0h0m5 0h0m-15 1h0m6 0h0m2 0h0m6 0h0m1 0h0m1 0h0m10 0h0m-24 1h0m4 0h0m-6 1h0m5 0h0m14 0h0m-21 1h0m19 0h0m1 0h0m7 0h0m-30 1h0m1 0h0m1 0h0m1 0h0m1 0h0m2 0h0m17 0h0m5 0h0m-24 1h0m21 0h0m-29 2h0m4 0h0m-8 1h0m7 0h0m1 0h0m28 0h0m2 0h0m-42 1h0m1 0h0m2 0h0m1 0h0m1 0h0m1 0h0m31 0h0m-41 1h0m40 0h0m1 0h0m3 1h0m-4 1h0m3 1h0m1 0h0m2 0h0m32 0h0m4 0h0m-40 1h0m1 0h0m39 0h0m6 0h0m-45 1h0m1 0h0m1 0h0m1 0h0m31 0h0m1 0h0m6 0h0m1 0h0m-36 1h0m2 0h0m1 0h0m21 0h0m-30 1h0m1 0h0m2 0h0m8 0h0m12 0h0m8 0h0m-91 1h0m1 0h0m59 0h0m2 0h0m1 0h0m6 0h0m11 0h0m1 0h0m5 0h0m20 0h0m1 0h0m-107 1h0m63 0h0m4 0h0m10 0h0m1 0h0m9 0h0m1 0h0m21 0h0m-49 1h0m1 0h0m4 0h0m11 0h0m7 0h0m3 0h0m3 0h0m19 0h0m1 0h0m-111 1h0m66 0h0m2 0h0m1 0h0m2 0h0m2 0h0m2 0h0m10 0h0m5 0h0m21 0h0m-111 1h0m62 0h0m1 0h0m1 0h0m1 0h0m2 0h0m1 0h0m2 0h0m1 0h0m3 0h0m2 0h0m8 0h0m5 0h0m20 0h0m3 0h0m-45 1h0m16 0h0m5 0h0m3 0h0m16 0h0m2 0h0m-52 1h0m1 0h0m23 0h0m-24 1h0m2 0h0m2 0h0m1 0h0m37 0h0m1 0h0m5 0h0m3 0h0m-59 1h0m8 0h0m36 0h0m8 0h0m-49 1h0m48 0h0m1 0h0m-101 1h0m38 0h0m4 0h0m10 0h0m-12 1h0m-37 1h0m34 0h0m2 0h0m-33 3h0m21 0h0m-15 1h0m3 1h0m3 0h0" stroke="#3a6ccc" stroke-width="1" stroke-linecap="square" fill="none" transform="translate(.5 .5)"/>
<path d="M137 284h0m3 0h0m3 0h0m4 0h0m0 3h0m0 2h0m0 1h0m-18 5h0m-2 2h0m1 0h0m0 1h0m16 0h0m-16 1h0m-2 1h0m1 1h0m1 0h0m12 0h0m-12 1h0m-1 1h0m10 0h0m-6 2h0m2 0h0m-16 1h0m6 0h0m2 0h0m3 0h0m2 0h0m-12 1h0m4 0h0m1 0h0m-2 2h0m2 0h0m2 0h0m-9 1h0m8 0h0m-5 1h0m2 0h0m-9 1h0m4 0h0m5 0h0m-12 1h0m2 0h0m5 0h0m1 0h0m3 0h0m-10 2h0m6 0h0m2 0h0m-10 2h0m4 0h0m3 0h0m-13 1h0m11 0h0m8 0h0m-20 1h0m15 0h0m-10 1h0m2 0h0m3 0h0m1 0h0m-6 1h0m6 0h0m2 0h0m5 0h0m-19 1h0m1 0h0m4 0h0m1 0h0m2 0h0m10 0h0m-21 1h0m12 0h0m1 0h0m1 0h0m6 0h0m-14 1h0m1 0h0m1 0h0m2 0h0m-12 1h0m6 0h0m4 0h0m9 0h0m3 0h0m-24 1h0m1 0h0m3 0h0m1 0h0m2 0h0m1 0h0m8 0h0m7 0h0m-25 1h0m4 0h0m3 0h0m8 0h0m2 0h0m2 0h0m-16 1h0m2 0h0m3 0h0m3 0h0m4 0h0m8 0h0m-17 1h0m7 0h0m3 0h0m8 0h0m-28 1h0m6 0h0m13 0h0m6 0h0m-23 1h0m20 0h0m1 0h0m1 0h0m1 0h0m1 0h0m-7 1h0m2 0h0m-26 1h0m2 0h0m1 0h0m25 0h0m2 0h0m-29 1h0m2 0h0m2 0h0m-6 1h0m1 0h0m1 0h0m25 0h0m4 0h0m-31 1h0m28 0h0m2 0h0m-43 1h0m11 0h0m-13 1h0m42 1h0m2 0h0m3 0h0m-52 1h0m48 1h0m39 0h0m4 0h0m1 0h0m-37 1h0m26 0h0m2 0h0m-89 1h0m62 0h0m23 0h0m1 0h0m3 0h0m11 0h0m3 0h0m-45 1h0m29 0h0m16 0h0m-43 1h0m1 0h0m12 0h0m29 0h0m1 0h0m1 0h0m-41 1h0m4 0h0m1 0h0m2 0h0m1 0h0m3 0h0m-18 1h0m5 0h0m5 0h0m2 0h0m10 0h0m1 0h0m2 0h0m22 0h0m-43 1h0m6 0h0m7 0h0m7 0h0m1 0h0m2 0h0m20 0h0m-45 1h0m6 0h0m7 0h0m4 0h0m5 0h0m23 0h0m1 0h0m-51 1h0m2 0h0m16 0h0m2 0h0m1 0h0m5 0h0m6 0h0m19 0h0m1 0h0m-53 1h0m20 0h0m1 0h0m1 0h0m12 0h0m-92 1h0m54 0h0m1 0h0m9 0h0m5 0h0m7 0h0m1 0h0m8 0h0m5 0h0m16 0h0m4 0h0m-110 1h0m52 0h0m11 0h0m27 0h0m5 0h0m1 0h0m1 0h0m1 0h0m9 0h0m2 0h0m-56 1h0m1 0h0m5 0h0m36 0h0m3 0h0m-98 1h0m40 0h0m4 0h0m5 0h0m53 0h0m-62 1h0m-6 2h0m2 0h0m-33 1h0m31 0h0m-26 2h0m21 0h0m-19 1h0m3 0h0m12 0h0m-11 1h0" stroke="#5a86d8" stroke-width="1" stroke-linecap="square" fill="none" transform="translate(.5 .5)"/>
<path d="M141 283h0m2 0h0m1 1h0m1 0h0m-9 1h0m1 0h0m10 0h0m-12 1h0m13 0h0m0 1h0m-17 4h0m-2 1h0m17 4h0m-1 1h0m-20 5h0m-4 1h0m7 0h0m2 0h0m-6 1h0m4 0h0m1 0h0m2 0h0m1 0h0m1 0h0m2 0h0m-8 1h0m2 0h0m-8 1h0m5 0h0m3 0h0m2 0h0m-10 1h0m7 0h0m-2 1h0m-12 1h0m3 0h0m-3 1h0m9 0h0m-11 1h0m5 0h0m-9 2h0m6 0h0m9 0h0m-5 1h0m-6 1h0m2 0h0m1 0h0m2 0h0m5 0h0m-14 1h0m4 0h0m1 0h0m2 0h0m3 0h0m-11 1h0m9 0h0m5 0h0m-14 1h0m1 0h0m6 0h0m-12 1h0m3 0h0m6 0h0m1 0h0m1 0h0m1 0h0m1 0h0m4 0h0m-18 1h0m4 0h0m2 0h0m8 0h0m-14 1h0m9 0h0m1 0h0m2 0h0m-15 1h0m14 0h0m1 0h0m2 0h0m2 0h0m-18 1h0m7 0h0m1 0h0m5 0h0m1 0h0m-2 1h0m-5 1h0m1 0h0m1 0h0m3 0h0m1 0h0m-16 1h0m7 0h0m4 0h0m-17 1h0m10 0h0m2 0h0m1 0h0m2 0h0m7 0h0m2 0h0m-21 1h0m7 0h0m1 0h0m8 0h0m1 0h0m2 0h0m-22 1h0m4 0h0m12 0h0m3 0h0m1 0h0m1 0h0m3 0h0m-24 1h0m2 0h0m13 0h0m6 0h0m3 0h0m-28 1h0m2 0h0m3 0h0m17 0h0m-19 1h0m21 0h0m4 0h0m-31 1h0m4 0h0m20 0h0m6 0h0m-6 1h0m6 0h0m-28 1h0m22 0h0m2 0h0m-27 1h0m28 0h0m-41 1h0m5 0h0m7 0h0m27 0h0m3 0h0m-46 1h0m2 0h0m-5 1h0m1 0h0m48 0h0m-2 1h0m1 0h0m2 0h0m-2 1h0m3 0h0m1 1h0m31 0h0m3 0h0m1 0h0m2 0h0m1 0h0m-10 1h0m1 0h0m11 0h0m-17 1h0m6 0h0m13 0h0m1 0h0m-47 1h0m3 0h0m4 0h0m2 0h0m10 0h0m3 0h0m7 0h0m1 0h0m1 0h0m15 0h0m-44 1h0m3 0h0m9 0h0m4 0h0m6 0h0m2 0h0m5 0h0m19 0h0m-48 1h0m5 0h0m3 0h0m5 0h0m2 0h0m3 0h0m-16 1h0m6 0h0m2 0h0m1 0h0m3 0h0m35 0h0m-50 1h0m5 0h0m11 0h0m2 0h0m3 0h0m1 0h0m5 0h0m-23 1h0m15 0h0m1 0h0m5 0h0m-28 1h0m3 0h0m13 0h0m7 0h0m4 0h0m3 0h0m21 0h0m1 0h0m-51 1h0m2 0h0m3 0h0m6 0h0m9 0h0m13 0h0m2 0h0m10 0h0m2 0h0m-51 1h0m8 0h0m28 0h0m2 0h0m7 0h0m1 0h0m1 0h0m-103 1h0m47 0h0m5 0h0m8 0h0m40 0h0m-54 1h0m1 0h0m1 0h0m5 0h0m46 0h0m-56 1h0m3 0h0m1 0h0m1 0h0m3 0h0m-47 3h0m26 1h0m-19 2h0m11 0h0m1 0h0m1 0h0m2 0h0" stroke="#98b2e4" stroke-width="1" stroke-linecap="square" fill="none" transform="translate(.5 .5)"/>
<path d="M141 285h0m2 0h0m1 0h0m-7 1h0m3 0h0m3 0h0m2 0h0m-10 1h0m10 0h0m-10 1h0m10 0h0m-12 1h0m12 0h0m-12 1h0m12 0h0m0 1h0m1 0h0m-15 1h0m14 0h0m-14 1h0m0 1h0m13 0h0m0 1h0m-15 1h0m1 0h0m14 0h0m-15 1h0m13 0h0m-12 1h0m-1 1h0m0 1h0m1 0h0m10 0h0m1 0h0m-12 1h0m1 0h0m1 0h0m6 0h0m1 0h0m-7 1h0m7 0h0m-6 1h0m3 0h0m-37 26h0m5 0h0m-8 1h0m3 0h0m-5 1h0m1 0h0m6 0h0m3 0h0m1 0h0m1 0h0m-6 1h0m1 0h0m1 0h0m2 0h0m2 0h0m-16 1h0m3 0h0m1 0h0m2 0h0m1 0h0m1 0h0m1 0h0m1 0h0m3 0h0m1 0h0m1 0h0m1 0h0m-17 1h0m2 0h0m1 0h0m2 0h0m2 0h0m1 0h0m1 0h0m1 0h0m1 0h0m1 0h0m1 0h0m3 0h0m1 0h0m1 0h0m-20 1h0m1 0h0m1 0h0m2 0h0m1 0h0m2 0h0m2 0h0m1 0h0m5 0h0m1 0h0m-17 1h0m2 0h0m1 0h0m1 0h0m1 0h0m2 0h0m1 0h0m1 0h0m1 0h0m8 0h0m1 0h0m-20 1h0m6 0h0m2 0h0m1 0h0m6 0h0m2 0h0m3 0h0m1 0h0m1 0h0m1 0h0m-36 1h0m2 0h0m1 0h0m5 0h0m2 0h0m1 0h0m5 0h0m2 0h0m3 0h0m1 0h0m1 0h0m1 0h0m3 0h0m1 0h0m4 0h0m3 0h0m-42 1h0m1 0h0m1 0h0m1 0h0m17 0h0m1 0h0m1 0h0m1 0h0m3 0h0m3 0h0m3 0h0m1 0h0m1 0h0m2 0h0m2 0h0m-38 1h0m22 0h0m1 0h0m10 0h0m1 0h0m1 0h0m1 0h0m1 0h0m3 0h0m2 0h0m1 0h0m-48 1h0m1 0h0m1 0h0m37 0h0m1 0h0m3 0h0m2 0h0m1 0h0m1 0h0m-47 1h0m39 0h0m2 0h0m4 0h0m1 0h0m1 0h0m1 0h0m-50 1h0m42 0h0m1 0h0m1 0h0m1 0h0m4 0h0m-7 1h0m2 0h0m1 0h0m1 0h0m1 0h0m1 0h0m1 0h0m1 0h0m38 0h0m2 0h0m1 0h0m1 0h0m3 0h0m1 0h0m1 0h0m-100 1h0m45 0h0m2 0h0m1 0h0m3 0h0m1 0h0m1 0h0m2 0h0m34 0h0m1 0h0m1 0h0m4 0h0m2 0h0m1 0h0m1 0h0m1 0h0m-100 1h0m46 0h0m1 0h0m1 0h0m1 0h0m1 0h0m2 0h0m2 0h0m1 0h0m38 0h0m1 0h0m2 0h0m2 0h0m-100 1h0m1 0h0m45 0h0m2 0h0m1 0h0m2 0h0m1 0h0m4 0h0m1 0h0m33 0h0m1 0h0m2 0h0m3 0h0m2 0h0m1 0h0m3 0h0m2 0h0m1 0h0m-105 1h0m46 0h0m1 0h0m2 0h0m2 0h0m2 0h0m1 0h0m1 0h0m3 0h0m32 0h0m2 0h0m2 0h0m2 0h0m3 0h0m2 0h0m2 0h0m1 0h0m-105 1h0m1 0h0m46 0h0m1 0h0m4 0h0m4 0h0m2 0h0m32 0h0m2 0h0m3 0h0m1 0h0m2 0h0m1 0h0m1 0h0m1 0h0m1 0h0m2 0h0m1 0h0m-61 1h0m5 0h0m3 0h0m2 0h0m37 0h0m4 0h0m1 0h0m1 0h0m1 0h0m1 0h0m2 0h0m2 0h0m1 0h0m1 0h0m-105 1h0m39 0h0m2 0h0m1 0h0m1 0h0m2 0h0m8 0h0m39 0h0m1 0h0m2 0h0m1 0h0m3 0h0m1 0h0m-100 1h0m38 0h0m1 0h0m2 0h0m1 0h0m1 0h0m8 0h0m44 0h0m1 0h0m3 0h0m2 0h0m-102 1h0m1 0h0m38 0h0m1 0h0m1 0h0m1 0h0m3 0h0m2 0h0m1 0h0m1 0h0m-49 1h0m1 0h0m36 0h0m2 0h0m2 0h0m-40 1h0m1 0h0m36 0h0m-35 2h0m29 0h0m2 0h0m-31 1h0m1 0h0m26 0h0m1 0h0m-27 1h0m2 0h0m22 0h0m1 0h0m-21 1h0m2 1h0m1 0h0m8 0h0m2 0h0m1 0h0m-8 1h0m1 0h0m2 0h0m1 0h0" stroke="#2a5cc4" stroke-width="1" stroke-linecap="square" fill="none" transform="translate(.5 .5)"/>
<path d="M139 285h0m1 0h0m2 0h0m-4 1h0m6 0h0m-8 1h0m8 0h0m-10 2h0m12 1h0m-14 1h0m14 1h0m-16 2h0m15 0h0m-15 1h0m-1 3h0m13 0h0m-1 1h0m-10 1h0m8 0h0m-7 1h0m7 0h0m-9 1h0m2 0h0m2 0h0m2 0h0m-5 1h0m3 0h0m2 0h0m-36 26h0m-3 1h0m-1 1h0m5 0h0m1 0h0m-10 1h0m3 0h0m9 0h0m-13 1h0m3 0h0m7 0h0m-12 1h0m13 0h0m-13 1h0m5 0h0m3 0h0m1 0h0m5 0h0m2 0h0m-14 1h0m6 0h0m1 0h0m1 0h0m1 0h0m2 0h0m-19 1h0m4 0h0m2 0h0m2 0h0m3 0h0m1 0h0m1 0h0m2 0h0m4 0h0m-32 1h0m2 0h0m3 0h0m1 0h0m1 0h0m3 0h0m4 0h0m2 0h0m2 0h0m3 0h0m5 0h0m4 0h0m1 0h0m1 0h0m5 0h0m-39 1h0m12 0h0m2 0h0m7 0h0m2 0h0m1 0h0m7 0h0m2 0h0m2 0h0m3 0h0m1 0h0m-45 1h0m1 0h0m26 0h0m1 0h0m6 0h0m4 1h0m1 0h0m7 0h0m-50 1h0m41 0h0m2 0h0m2 0h0m5 0h0m-5 1h0m1 0h0m3 0h0m1 0h0m40 0h0m2 0h0m-95 1h0m45 0h0m8 0h0m36 0h0m2 0h0m4 0h0m1 0h0m-51 1h0m3 0h0m1 0h0m43 0h0m-42 1h0m37 0h0m1 0h0m1 0h0m1 0h0m4 0h0m6 0h0m-56 1h0m3 0h0m4 0h0m1 0h0m3 0h0m34 0h0m3 0h0m2 0h0m4 0h0m-53 1h0m2 0h0m2 0h0m5 0h0m32 0h0m2 0h0m2 0h0m4 0h0m1 0h0m-55 1h0m1 0h0m1 0h0m4 0h0m1 0h0m2 0h0m1 0h0m3 0h0m34 0h0m2 0h0m4 0h0m6 0h0m-60 1h0m4 0h0m4 0h0m4 0h0m1 0h0m36 0h0m1 0h0m1 0h0m6 0h0m-60 1h0m4 0h0m2 0h0m1 0h0m1 0h0m2 0h0m1 0h0m3 0h0m40 0h0m3 0h0m6 0h0m-59 1h0m1 0h0m1 0h0m3 0h0m51 0h0m-57 1h0m-6 1h0m2 0h0m3 0h0m-8 1h0m1 0h0m1 0h0m-36 1h0m1 0h0m32 0h0m-32 1h0m5 3h0m2 1h0m3 0h0m1 0h0m7 0h0m3 0h0m1 0h0m-11 1h0m3 0h0" stroke="#3f78d4" stroke-width="1" stroke-linecap="square" fill="none" transform="translate(.5 .5)"/>
<path d="M141 284h0m-3 1h0m1 1h0m7 1h0m-12 1h0m11 5h0m-15 4h0m3 5h0m2 0h0m-34 27h0m1 0h0m-1 1h0m2 0h0m1 0h0m-13 2h0m7 0h0m5 2h0m-4 1h0m1 0h0m4 0h0m-18 1h0m15 0h0m5 0h0m-9 1h0m-19 1h0m19 0h0m-16 1h0m2 0h0m11 0h0m-6 1h0m17 0h0m-2 1h0m-46 1h0m-1 1h0m49 0h0m44 0h0m-93 1h0m94 1h0m5 0h0m-102 1h0m46 0h0m52 0h0m-46 1h0m36 0h0m-90 1h0m46 0h0m3 1h0m57 0h0m-64 1h0m3 0h0m5 0h0m3 0h0m-13 2h0m-3 1h0m8 0h0m-2 1h0m-9 2h0m1 0h0m-31 3h0m23 1h0m-20 1h0" stroke="#8fb0e6" stroke-width="1" stroke-linecap="square" fill="none" transform="translate(.5 .5)"/>
<g filter="url(#bla2)"><path d="M134.8,302.5 132.3,302 130.8,300 130.6,297 132.1,293 134.7,289.5 137.8,287.1 141.3,286 143.8,286.4 145.3,288 145.8,290 145.5,292.5 144.2,295.5 142.3,298.2 139.8,300.5 137.3,301.9 134.8,302.5ZM70.8,361.6 65.8,361.8 61.3,361.3 56.8,359.8 54.1,358 52.2,355.5 51.5,352.5 52.1,349.5 54.1,346.5 57.3,343.7 60.8,341.7 69.3,339.2 75.8,338.8 86.8,339.7 93.3,337.6 95.8,337.3 98.3,337.9 100,339.5 101.3,342.3 101.8,345.5 101.2,347.5 99.8,349 96.3,350.7 90.3,352.4 84.3,356.6 79.3,359.3 70.8,361.6ZM150.8,350.1 148.8,350.2 147.3,349.6 146.6,348.5 146.8,347.5 149.3,346.3 151.7,347 152.4,348.5 150.8,350.1Z" fill="#3468c8" fill-rule="evenodd"/><path d="M135.8,301.1 133.3,300.6 132.1,299 131.9,296.5 132.9,293.5 135.1,290.5 137.8,288.4 140.3,287.4 142.8,287.7 144.1,289 144.5,290.5 143.4,295 139.8,299.2 135.8,301.1ZM69.3,361 64.8,361 60.3,360.2 56.8,358.8 54.1,356.5 52.8,354 52.8,351 54.1,348 56.8,345.1 60.3,342.8 64.3,341.1 73.3,339.6 77.8,339.8 82.8,340.8 86.9,342.5 89.4,344.5 90.4,346.5 90,348.5 87.8,352 84.9,355 81.8,357.2 77.3,359.3 69.3,361Z" fill="#377bd2" fill-rule="evenodd"/><path d="M137.3,299.1 135.3,299.2 134.1,298.5 133.5,297 134,294.5 135.3,292.2 137.3,290.3 139.3,289.3 141.3,289.2 142.8,291 142.4,294 140.3,297.1 137.3,299.1ZM70.8,360.1 66.3,360.3 62.3,359.8 58.8,358.6 56.3,357 54.7,355 54,352.5 54.6,349.5 56.3,347 58.8,344.8 62.3,342.8 70.3,340.6 74.8,340.5 79.3,341.1 82.8,342.3 85.4,344 86.9,346 87.3,348.5 86.5,351 84.7,353.5 78.8,357.7 70.8,360.1Z" fill="#3a90dc" fill-rule="evenodd"/><path d="M137.3,297.1 135.8,296.5 136,294 137.8,291.9 140.2,291.5 140.8,292.5 140.4,294.5 138.8,296.4 137.3,297.1ZM68.8,359.5 61.8,358.8 58.8,357.5 56.8,356 55.6,354 55.2,351.5 56.1,349 57.8,346.8 63.3,343.2 71.3,341.3 78.3,341.8 81.3,342.8 83.8,344.5 85.2,346.5 85.6,349 84.8,351.5 82.8,354 76.8,357.7 68.8,359.5Z" fill="#3babda" fill-rule="evenodd"/><path d="M71.3,358.5 64.3,358.5 61.3,357.7 58.8,356.3 57.1,354.5 56.5,352.5 56.6,350.5 58,348 62.8,344.3 69.3,342.3 76.3,342.2 79.8,343.2 82,344.5 83.4,346 84.2,348 84.1,350 82.8,352.5 78.3,356.2 71.3,358.5Z" fill="#3cc4d8" fill-rule="evenodd"/><path d="M70.3,358 63.8,357.7 59.2,355.5 58,354 57.5,352 57.9,350 59.1,348 63.3,344.8 69.8,342.8 75.8,342.9 81,345 82.4,346.5 83.1,348.5 82.8,350.5 81.7,352.5 76.8,356.2 70.3,358Z" fill="#41bc99" fill-rule="evenodd"/><path d="M71.8,357.1 65.8,357.3 61.3,355.8 59.7,354.5 58.7,352.5 59.5,349 62.8,345.9 68.3,343.8 74.3,343.4 79.3,345 81,346.5 81.7,348 81.2,351.5 77.4,355 71.8,357.1Z" fill="#46b661" fill-rule="evenodd"/><path d="M70.3,356.5 65.3,356.4 61.3,354.5 60.2,353 59.9,351.5 61.2,348.5 64.8,345.8 69.8,344.3 74.8,344.4 78.8,346 80.1,347.5 80.5,349 79.5,352 75.8,354.9 70.3,356.5Z" fill="#73c23c" fill-rule="evenodd"/><path d="M71.8,355.5 67.3,355.8 63.3,354.6 61.4,352.5 61.8,349.5 64.3,347 68.8,345.2 73.3,345 77.3,346.3 79.1,348.5 78.5,351.5 75.8,354 71.8,355.5Z" fill="#bbd628" fill-rule="evenodd"/><path d="M70.3,355 66.3,354.8 63.5,353.5 62.5,351.5 63.4,349 66,347 69.8,345.8 73.8,345.9 76.5,347 77.9,349 77.3,351.5 74.3,353.9 70.3,355Z" fill="#f2e31e" fill-rule="evenodd"/><path d="M71.3,354.1 67.8,354.3 65.3,353.5 63.7,351.5 64.3,349.5 66.3,347.7 69.3,346.6 72.8,346.5 75.5,347.5 76.6,349 76.3,351 74.3,353 71.3,354.1Z" fill="#f3af1f" fill-rule="evenodd"/><path d="M70.3,353.6 67.8,353.5 65.6,352.5 64.9,351 65.5,349.5 67.3,348.1 69.8,347.3 72.3,347.2 74.4,348 75.5,349.5 75.1,351 73.3,352.6 70.3,353.6Z" fill="#ed731b" fill-rule="evenodd"/><path d="M70.8,352.5 67.3,352.1 66.5,351 66.7,350 69.3,348.3 72.8,348.5 73.9,349.5 73.9,350.5 72.8,351.7 70.8,352.5Z" fill="#e22514" fill-rule="evenodd"/></g>
</g>
<filter id="blc2" x="-5%" y="-5%" width="110%" height="110%"><feGaussianBlur stdDeviation="0.45"/></filter>
<clipPath id="cpc2"><rect x="410.7" y="149.2" width="97.60" height="96.80"/></clipPath>
<g clip-path="url(#cpc2)">
<path d="M452 166h0m-14 6h0m35 1h0m-8 1h0m10 0h0m7 0h0m-28 1h0m6 0h0m5 0h0m2 0h0m6 0h0m-40 1h0m29 2h0m4 0h0m7 0h0m2 0h0m1 0h0m4 0h0m3 0h0m-29 2h0m1 0h0m6 0h0m-26 1h0m5 0h0m9 0h0m8 0h0m20 0h0m-46 1h0m15 0h0m10 0h0m1 0h0m26 0h0m3 0h0m-7 1h0m-46 1h0m17 0h0m2 0h0m45 0h0m-71 1h0m22 0h0m-20 1h0m13 1h0m1 0h0m7 0h0m-12 1h0m2 0h0m3 0h0m-14 1h0m7 0h0m1 0h0m1 0h0m4 0h0m39 0h0m-58 1h0m5 0h0m8 0h0m4 0h0m-3 1h0m-19 1h0m7 0h0m5 0h0m59 0h0m2 0h0m-75 1h0m3 0h0m3 0h0m1 0h0m8 0h0m57 0h0m15 0h0m-75 1h0m56 1h0m-3 1h0m1 0h0m5 0h0m2 0h0m-70 1h0m74 0h0m4 0h0m4 0h0m-79 1h0m64 0h0m8 0h0m3 0h0m1 0h0m-79 1h0m1 0h0m3 0h0m61 0h0m7 0h0m4 0h0m2 0h0m3 0h0m5 0h0m-86 1h0m3 0h0m71 0h0m7 0h0m-13 1h0m7 0h0m15 0h0m-7 1h0m-2 1h0m-79 1h0m72 0h0m1 0h0m-76 1h0m-3 1h0m4 0h0m76 0h0m8 0h0m1 0h0m-15 1h0m2 0h0m11 0h0m-4 1h0m-6 1h0m14 1h0m-91 1h0m4 0h0m76 0h0m1 0h0m8 0h0m-85 1h0m75 0h0m3 0h0m2 0h0m7 0h0m-6 2h0m8 2h0m-3 1h0m-6 2h0m3 0h0m-3 2h0m-84 1h0m84 0h0m3 0h0m3 0h0m-6 1h0m1 1h0m-83 1h0m91 1h0m-96 3h0m89 0h0m-84 1h0m83 0h0m-1 2h0m1 0h0m-83 1h0m81 1h0m2 0h0m-3 1h0m4 0h0m0 1h0m-83 1h0m78 0h0m4 0h0m-78 1h0m73 0h0m3 0h0m1 0h0m-78 1h0m73 0h0m9 0h0m-3 1h0m-78 1h0m78 0h0m-74 1h0m71 0h0m8 0h0m-79 1h0m64 0h0m1 0h0m2 0h0m15 0h0m-75 1h0m3 0h0m-13 1h0m9 0h0m5 0h0m5 0h0m1 0h0m3 0h0m52 0h0m1 0h0" stroke="#9fb0dc" stroke-width="1" stroke-linecap="square" fill="none" transform="translate(.5 .5)"/>
<path d="M459 164h0m22 1h0m-33 3h0m15 3h0m1 0h0m2 0h0m3 0h0m-20 1h0m20 0h0m-2 1h0m3 1h0m16 0h0m-20 1h0m15 0h0m-31 1h0m14 0h0m3 0h0m6 0h0m12 0h0m-23 1h0m7 0h0m5 0h0m-11 1h0m2 0h0m14 0h0m-27 1h0m13 0h0m11 0h0m-39 1h0m11 0h0m36 0h0m-30 1h0m22 0h0m-47 1h0m6 0h0m6 0h0m10 0h0m3 0h0m1 0h0m34 0h0m-57 2h0m20 1h0m-31 1h0m21 0h0m-19 2h0m8 0h0m-1 1h0m1 0h0m2 1h0m7 0h0m-12 1h0m5 0h0m47 0h0m-53 1h0m1 0h0m4 0h0m72 0h0m-81 1h0m2 0h0m3 0h0m-11 2h0m7 0h0m3 0h0m58 0h0m7 0h0m-69 1h0m71 0h0m-11 1h0m3 0h0m1 0h0m3 0h0m4 1h0m-82 1h0m72 1h0m7 0h0m-6 1h0m10 0h0m-77 1h0m66 0h0m5 0h0m1 0h0m1 0h0m8 0h0m1 0h0m-86 1h0m71 1h0m2 0h0m8 0h0m6 0h0m-10 1h0m-3 1h0m1 0h0m1 0h0m2 0h0m5 0h0m-79 1h0m1 0h0m74 1h0m3 0h0m9 0h0m-12 1h0m7 0h0m3 0h0m1 0h0m0 1h0m-87 1h0m76 0h0m-78 1h0m80 0h0m2 0h0m9 0h0m-8 3h0m5 0h0m-7 1h0m8 2h0m2 1h0m-93 1h0m89 2h0m-87 2h0m1 0h0m84 0h0m5 0h0m3 1h0m-8 2h0m2 0h0m-3 1h0m-1 2h0m2 2h0m4 0h0m-9 4h0m8 0h0m1 0h0m-84 1h0m78 0h0m-3 1h0m-73 1h0m75 0h0m-75 1h0m1 0h0m70 0h0m3 0h0m-10 1h0m2 0h0m9 0h0m-9 1h0m6 0h0m3 0h0m4 0h0m6 0h0m-5 1h0m-12 1h0m7 0h0m-71 1h0m4 0h0m2 0h0m6 0h0m48 0h0" stroke="#c4c8dc" stroke-width="1" stroke-linecap="square" fill="none" transform="translate(.5 .5)"/>
<path d="M469 164h0m-13 1h0m11 6h0m-9 2h0m11 0h0m-13 1h0m17 0h0m-1 1h0m-2 1h0m-11 1h0m8 0h0m10 0h0m-26 1h0m2 0h0m7 0h0m-5 1h0m-15 1h0m1 0h0m14 1h0m4 0h0m2 0h0m24 0h0m-31 2h0m2 0h0m24 0h0m-39 1h0m-21 1h0m21 0h0m6 2h0m33 0h0m-53 1h0m1 0h0m18 0h0m2 0h0m-22 1h0m7 0h0m50 0h0m15 1h0m-68 1h0m1 0h0m-5 1h0m-4 2h0m60 0h0m7 0h0m1 1h0m-69 1h0m62 0h0m4 0h0m10 0h0m-75 1h0m1 0h0m1 0h0m82 0h0m-90 1h0m65 0h0m2 0h0m3 0h0m3 0h0m-66 1h0m-7 1h0m85 0h0m-80 1h0m62 0h0m6 0h0m4 1h0m2 0h0m-9 1h0m5 0h0m9 1h0m-13 1h0m1 0h0m9 0h0m3 0h0m-81 1h0m74 0h0m5 0h0m-81 1h0m74 0h0m-76 1h0m79 0h0m6 0h0m-88 1h0m7 0h0m79 0h0m-81 1h0m76 0h0m8 0h0m-1 1h0m-3 3h0m-81 1h0m-3 1h0m90 0h0m1 0h0m-87 1h0m82 0h0m2 1h0m-86 1h0m85 0h0m-87 3h0m3 0h0m84 1h0m2 0h0m-1 2h0m-85 1h0m0 1h0m1 5h0m-2 1h0m86 1h0m-7 3h0m2 2h0m2 0h0m-11 2h0m8 0h0m-4 1h0m2 0h0m-7 1h0m-62 1h0m4 0h0m64 0h0m-55 1h0m47 0h0" stroke="#6f8ed6" stroke-width="1" stroke-linecap="square" fill="none" transform="translate(.5 .5)"/>
<path d="M454 173h0m14 0h0m9 2h0m1 2h0m-22 1h0m1 2h0m-5 3h0m1 0h0m-16 1h0m19 0h0m-8 2h0m32 0h0m-32 1h0m-10 2h0m6 0h0m-14 1h0m7 0h0m57 0h0m-76 2h0m-3 2h0m65 1h0m1 2h0m-66 1h0m72 0h0m5 1h0m-73 1h0m1 2h0m1 0h0m73 0h0m-74 1h0m69 1h0m0 1h0m6 0h0m8 0h0m-2 1h0m-2 3h0m-7 1h0m4 1h0m3 0h0m5 0h0m-86 2h0m83 0h0m-6 1h0m10 0h0m-7 4h0m4 0h0m0 1h0m-3 6h0m0 1h0m2 2h0m-2 1h0m-82 1h0m87 0h0m-5 1h0m-2 2h0m4 0h0m-1 4h0m-2 3h0m10 1h0m-8 1h0m-78 2h0" stroke="#e0c8d0" stroke-width="1" stroke-linecap="square" fill="none" transform="translate(.5 .5)"/>
<path d="M468 179h0m-1 2h0m2 0h0m2 0h0m1 0h0m-12 1h0m2 0h0m1 0h0m4 0h0m3 0h0m-12 1h0m3 0h0m1 0h0m1 0h0m7 1h0m5 0h0m-17 1h0m2 0h0m9 0h0m1 1h0m-18 1h0m11 0h0m1 0h0m1 0h0m-11 1h0m4 0h0m5 0h0m1 0h0m1 0h0m2 0h0m3 0h0m8 0h0m-29 1h0m3 0h0m18 0h0m1 0h0m7 0h0m-33 1h0m1 0h0m1 0h0m4 0h0m4 0h0m9 0h0m1 0h0m5 0h0m-28 1h0m10 0h0m7 0h0m1 0h0m3 0h0m1 0h0m3 0h0m4 0h0m7 0h0m-39 1h0m5 0h0m3 0h0m8 0h0m3 0h0m1 0h0m4 0h0m6 0h0m1 0h0m-38 1h0m2 0h0m8 0h0m1 0h0m2 0h0m1 0h0m1 0h0m2 0h0m1 0h0m2 0h0m3 0h0m4 0h0m1 0h0m2 0h0m2 0h0m2 0h0m2 0h0m-37 1h0m9 0h0m4 0h0m10 0h0m5 0h0m5 0h0m1 0h0m4 0h0m-41 1h0m5 0h0m2 0h0m1 0h0m2 0h0m7 0h0m2 0h0m1 0h0m5 0h0m4 0h0m2 0h0m1 0h0m1 0h0m4 0h0m3 0h0m10 0h0m1 0h0m-47 1h0m2 0h0m6 0h0m6 0h0m2 0h0m1 0h0m4 0h0m4 0h0m2 0h0m-26 1h0m1 0h0m1 0h0m4 0h0m3 0h0m12 0h0m3 0h0m6 0h0m2 0h0m2 0h0m1 0h0m-40 1h0m4 0h0m27 0h0m4 0h0m4 0h0m12 0h0m-52 1h0m4 0h0m29 0h0m2 0h0m18 0h0m-19 1h0m1 0h0m1 0h0m2 0h0m1 0h0m2 0h0m1 0h0m11 0h0m-57 1h0m3 0h0m1 0h0m34 0h0m7 0h0m-7 1h0m1 0h0m1 0h0m2 0h0m1 0h0m2 0h0m1 0h0m-43 1h0m42 0h0m2 0h0m9 0h0m-57 1h0m43 0h0m1 0h0m2 0h0m-43 1h0m54 0h0m1 0h0m-56 1h0m-2 1h0m63 0h0m1 0h0m-63 1h0m59 0h0m-61 1h0m1 0h0m59 0h0m6 0h0m1 0h0m-2 1h0m-67 1h0m1 0h0m65 1h0m2 0h0m-69 2h0m2 0h0m67 0h0m4 0h0m-72 1h0m73 0h0m-2 1h0m-71 1h0m71 0h0m-72 1h0m71 0h0m7 0h0m-6 1h0m1 0h0m-74 1h0m75 0h0m1 0h0m3 0h0m1 0h0m-1 1h0m-78 1h0m77 0h0m2 0h0m-79 1h0m74 0h0m2 0h0m2 0h0m-79 1h0m1 0h0m74 0h0m2 0h0m4 0h0m-81 1h0m79 0h0m-79 2h0m1 0h0m74 0h0m5 0h0m-79 1h0m75 0h0m1 0h0m2 0h0m-4 1h0m1 0h0m1 0h0m-76 2h0m74 0h0m-1 1h0m2 0h0m-74 1h0m1 0h0m70 0h0m5 0h0m-76 1h0m69 0h0m1 0h0m6 0h0m-75 1h0m68 0h0m-2 1h0m1 0h0m1 0h0m3 0h0m-69 1h0m64 0h0m3 0h0m1 0h0m2 0h0m-69 1h0m62 0h0m1 0h0m-63 1h0m1 0h0m60 0h0m-59 1h0m59 1h0m-57 1h0m5 0h0m-2 1h0m1 0h0m1 0h0m3 0h0m5 0h0m1 0h0m3 0h0m40 0h0m-41 1h0m3 0h0m1 0h0m1 0h0m2 0h0m3 0h0m5 0h0m4 0h0m3 0h0m-16 1h0m4 0h0m4 0h0m12 0h0m1 0h0m7 0h0m6 0h0" stroke="#3a6fd0" stroke-width="1" stroke-linecap="square" fill="none" transform="translate(.5 .5)"/>
<path d="M467 179h0m-3 1h0m1 0h0m2 0h0m3 0h0m-5 2h0m-5 1h0m7 0h0m2 0h0m3 0h0m3 0h0m-18 1h0m6 0h0m3 0h0m3 0h0m8 0h0m1 0h0m-23 1h0m1 0h0m1 0h0m7 0h0m1 0h0m3 0h0m3 0h0m7 0h0m-23 1h0m11 0h0m3 0h0m3 0h0m6 0h0m-23 1h0m11 0h0m4 0h0m8 0h0m1 0h0m-30 1h0m4 0h0m4 0h0m5 0h0m4 0h0m5 0h0m-21 1h0m5 0h0m1 0h0m1 0h0m2 0h0m3 0h0m5 0h0m1 0h0m-14 1h0m6 0h0m1 0h0m6 0h0m4 0h0m7 0h0m-38 1h0m3 0h0m1 0h0m9 0h0m3 0h0m1 0h0m5 0h0m-19 1h0m2 0h0m4 0h0m1 0h0m6 0h0m11 0h0m1 0h0m-29 1h0m5 0h0m4 0h0m5 0h0m4 0h0m4 0h0m4 0h0m2 0h0m3 0h0m-36 1h0m2 0h0m7 0h0m5 0h0m2 0h0m3 0h0m2 0h0m2 0h0m4 0h0m2 0h0m4 0h0m3 0h0m-33 1h0m15 0h0m2 0h0m2 0h0m8 0h0m-33 1h0m4 0h0m2 0h0m2 0h0m3 0h0m1 0h0m2 0h0m2 0h0m4 0h0m3 0h0m7 0h0m1 0h0m1 0h0m1 0h0m14 0h0m-51 1h0m3 0h0m2 0h0m4 0h0m1 0h0m1 0h0m2 0h0m12 0h0m3 0h0m1 0h0m3 0h0m1 0h0m2 0h0m4 0h0m5 0h0m8 0h0m-55 1h0m2 0h0m1 0h0m2 0h0m27 0h0m1 0h0m4 0h0m3 0h0m1 0h0m1 0h0m4 0h0m-40 1h0m33 0h0m2 0h0m3 0h0m-45 1h0m6 0h0m30 0h0m1 0h0m0 1h0m6 0h0m1 0h0m12 0h0m-54 1h0m1 0h0m44 0h0m10 0h0m2 0h0m-57 1h0m37 0h0m1 0h0m1 0h0m2 0h0m1 0h0m2 0h0m13 0h0m1 0h0m-58 1h0m54 0h0m2 1h0m1 0h0m2 0h0m-4 1h0m1 0h0m3 0h0m-1 1h0m1 1h0m2 0h0m-66 1h0m62 0h0m-61 1h0m66 0h0m3 0h0m-69 1h0m63 0h0m4 0h0m2 0h0m-5 2h0m5 0h0m-1 2h0m1 0h0m-72 1h0m1 0h0m69 0h0m1 0h0m-71 1h0m73 0h0m-74 1h0m77 0h0m-77 1h0m79 0h0m-5 1h0m4 0h0m-3 1h0m5 0h0m-3 1h0m-1 2h0m2 0h0m2 0h0m-79 1h0m76 0h0m4 0h0m-5 1h0m2 1h0m0 1h0m-78 1h0m79 0h0m-5 1h0m2 1h0m2 0h0m-5 1h0m2 0h0m3 0h0m1 0h0m-5 1h0m2 0h0m3 0h0m-6 1h0m2 0h0m-71 1h0m68 0h0m-67 1h0m66 1h0m3 0h0m-4 1h0m1 0h0m3 0h0m-4 1h0m1 0h0m1 0h0m-5 1h0m1 0h0m1 0h0m2 0h0m-58 2h0m3 0h0m1 0h0m-1 1h0m3 0h0m2 0h0m5 0h0m-5 1h0m1 0h0m5 0h0m5 0h0m2 0h0m1 0h0m3 0h0m9 0h0m4 1h0m6 0h0m1 0h0m7 0h0" stroke="#6f8fd8" stroke-width="1" stroke-linecap="square" fill="none" transform="translate(.5 .5)"/>
<path d="M471 178h0m1 0h0m-1 1h0m1 0h0m-4 1h0m4 0h0m1 0h0m-8 1h0m1 1h0m8 1h0m-14 1h0m2 0h0m-3 1h0m2 0h0m1 0h0m4 0h0m4 0h0m7 0h0m-23 1h0m4 0h0m6 0h0m-10 1h0m2 0h0m4 0h0m2 0h0m7 0h0m-19 1h0m11 0h0m-1 1h0m5 0h0m1 0h0m3 0h0m-19 1h0m7 0h0m2 0h0m10 0h0m-22 1h0m7 0h0m15 0h0m10 0h0m-42 1h0m1 0h0m10 0h0m5 0h0m13 0h0m5 0h0m-33 1h0m16 0h0m4 0h0m-12 1h0m3 0h0m2 0h0m5 0h0m2 0h0m20 0h0m-39 1h0m1 0h0m1 0h0m5 0h0m3 0h0m-23 1h0m10 0h0m2 0h0m3 0h0m9 0h0m2 0h0m3 0h0m3 0h0m11 0h0m-44 1h0m3 0h0m42 0h0m10 0h0m-50 1h0m3 0h0m25 0h0m4 0h0m9 0h0m-10 1h0m5 0h0m4 0h0m1 0h0m10 0h0m-55 1h0m2 0h0m34 1h0m3 0h0m5 0h0m-48 1h0m5 0h0m37 0h0m19 0h0m-60 1h0m41 1h0m16 0h0m1 0h0m-59 1h0m1 0h0m0 2h0m1 0h0m56 0h0m1 0h0m1 0h0m-62 1h0m61 0h0m2 0h0m2 0h0m-2 1h0m2 0h0m1 0h0m-4 1h0m6 0h0m-2 1h0m-2 1h0m2 0h0m2 0h0m-68 1h0m67 0h0m-1 1h0m2 1h0m6 1h0m1 1h0m-5 1h0m3 1h0m1 0h0m-1 2h0m1 0h0m-2 1h0m-74 4h0m74 0h0m6 0h0m-5 1h0m1 0h0m-76 3h0m1 1h0m78 0h0m-77 3h0m71 0h0m-1 1h0m4 0h0m-2 1h0m1 1h0m-6 3h0m-60 1h0m1 0h0m0 1h0m3 0h0m3 1h0m11 1h0m11 0h0m1 0h0m2 0h0m1 0h0m3 0h0m-15 1h0m6 0h0m5 0h0m6 0h0m1 0h0" stroke="#a8b8e4" stroke-width="1" stroke-linecap="square" fill="none" transform="translate(.5 .5)"/>
<path d="M473 185h0m1 0h0m0 1h0m1 0h0m2 0h0m-4 1h0m4 0h0m-1 1h0m1 0h0m-5 1h0m1 0h0m1 1h0m2 0h0m-3 1h0m3 0h0m-4 1h0m1 0h0m1 0h0m-1 1h0m3 0h0m1 0h0m-5 1h0m1 0h0m3 0h0m1 0h0m-5 1h0m1 0h0m4 0h0m-32 2h0m3 0h0m1 0h0m23 0h0m1 0h0m4 0h0m1 0h0m-43 1h0m2 0h0m1 0h0m2 0h0m2 0h0m2 0h0m1 0h0m4 0h0m1 0h0m2 0h0m3 0h0m17 0h0m-39 1h0m2 0h0m4 0h0m3 0h0m1 0h0m1 0h0m3 0h0m1 0h0m2 0h0m1 0h0m2 0h0m2 0h0m2 0h0m15 0h0m1 0h0m-43 1h0m2 0h0m1 0h0m3 0h0m1 0h0m5 0h0m2 0h0m2 0h0m4 0h0m3 0h0m4 0h0m1 0h0m19 0h0m1 0h0m-48 1h0m3 0h0m2 0h0m1 0h0m1 0h0m1 0h0m2 0h0m1 0h0m1 0h0m1 0h0m2 0h0m2 0h0m1 0h0m2 0h0m3 0h0m1 0h0m19 0h0m5 0h0m-49 1h0m1 0h0m1 0h0m1 0h0m3 0h0m2 0h0m2 0h0m1 0h0m2 0h0m2 0h0m3 0h0m1 0h0m3 0h0m2 0h0m3 0h0m2 0h0m1 0h0m1 0h0m12 0h0m5 0h0m1 0h0m-48 1h0m1 0h0m2 0h0m3 0h0m2 0h0m2 0h0m1 0h0m1 0h0m4 0h0m7 0h0m1 0h0m4 0h0m14 0h0m5 0h0m1 0h0m-47 1h0m1 0h0m1 0h0m1 0h0m2 0h0m1 0h0m1 0h0m2 0h0m3 0h0m1 0h0m2 0h0m2 0h0m8 0h0m7 0h0m7 0h0m1 0h0m1 0h0m1 0h0m4 0h0m1 0h0m-52 1h0m1 0h0m2 0h0m1 0h0m3 0h0m1 0h0m1 0h0m1 0h0m1 0h0m3 0h0m1 0h0m2 0h0m1 0h0m1 0h0m1 0h0m1 0h0m4 0h0m2 0h0m1 0h0m2 0h0m1 0h0m2 0h0m1 0h0m2 0h0m2 0h0m1 0h0m4 0h0m8 0h0m1 0h0m-53 1h0m2 0h0m13 0h0m1 0h0m1 0h0m2 0h0m1 0h0m2 0h0m4 0h0m5 0h0m1 0h0m2 0h0m3 0h0m1 0h0m1 0h0m1 0h0m2 0h0m1 0h0m1 0h0m2 0h0m8 0h0m-53 1h0m2 0h0m12 0h0m1 0h0m4 0h0m1 0h0m2 0h0m2 0h0m1 0h0m2 0h0m2 0h0m3 0h0m2 0h0m1 0h0m2 0h0m4 0h0m3 0h0m9 0h0m-35 1h0m3 0h0m3 0h0m2 0h0m1 0h0m2 0h0m1 0h0m2 0h0m1 0h0m1 0h0m4 0h0m2 0h0m1 0h0m2 0h0m1 0h0m10 0h0m-1 1h0m1 1h0m-57 1h0m58 0h0m1 0h0m1 1h0m-61 1h0m61 0h0m1 0h0m-1 1h0m2 0h0m-65 1h0m65 0h0m1 0h0m-66 1h0m1 0h0m64 0h0m2 1h0m-67 1h0m65 0h0m2 0h0m1 0h0m-2 1h0m1 0h0m1 0h0m1 0h0m-69 1h0m67 0h0m1 0h0m1 2h0m1 0h0m1 0h0m-3 1h0m1 0h0m-70 1h0m69 0h0m1 0h0m-70 1h0m69 0h0m0 1h0m1 0h0m1 0h0m1 0h0m-3 1h0m-69 1h0m71 0h0m1 0h0m-4 1h0m2 0h0m2 0h0m-71 1h0m69 0h0m1 0h0m-4 1h0m1 0h0m3 0h0m-69 1h0m66 0h0m1 0h0m-3 1h0m3 0h0m-2 1h0m0 1h0m-63 1h0m0 1h0m60 0h0m1 0h0m-1 1h0m1 0h0m-59 1h0m1 0h0m1 0h0m0 1h0m1 0h0m1 0h0m54 0h0m-54 1h0m1 0h0m3 0h0m1 0h0m8 0h0m-7 1h0m2 0h0m2 0h0m1 0h0m4 0h0m1 0h0m2 1h0m1 0h0m1 0h0m2 0h0m2 0h0m1 0h0m1 0h0m4 0h0m9 1h0m1 0h0m1 0h0m1 0h0m1 0h0m1 0h0m2 0h0m8 0h0" stroke="#2f62c6" stroke-width="1" stroke-linecap="square" fill="none" transform="translate(.5 .5)"/>
<path d="M476 186h0m-4 1h0m4 0h0m-3 1h0m4 2h0m-5 1h0m2 0h0m3 0h0m-1 1h0m1 0h0m-5 1h0m2 0h0m-2 3h0m1 0h0m4 0h0m-33 1h0m-8 1h0m5 0h0m5 0h0m5 0h0m3 0h0m-22 1h0m2 0h0m2 0h0m1 0h0m1 0h0m3 0h0m5 0h0m8 0h0m2 0h0m-25 1h0m4 0h0m4 0h0m1 0h0m1 0h0m6 0h0m1 0h0m4 0h0m2 0h0m1 0h0m17 0h0m1 0h0m-44 1h0m2 0h0m1 0h0m23 0h0m3 0h0m13 0h0m6 0h0m-44 1h0m5 0h0m3 0h0m2 0h0m2 0h0m4 0h0m1 0h0m23 0h0m-45 1h0m4 0h0m3 0h0m4 0h0m5 0h0m1 0h0m6 0h0m4 0h0m1 0h0m1 0h0m2 0h0m12 0h0m2 0h0m-45 1h0m1 0h0m12 0h0m4 0h0m4 0h0m1 0h0m1 0h0m2 0h0m4 0h0m1 0h0m1 0h0m3 0h0m-34 1h0m10 0h0m4 0h0m6 0h0m2 0h0m5 0h0m3 0h0m3 0h0m2 0h0m7 0h0m1 0h0m1 0h0m-43 1h0m1 0h0m7 0h0m11 0h0m1 0h0m4 0h0m2 0h0m3 0h0m3 0h0m5 0h0m4 0h0m2 0h0m6 0h0m-53 1h0m17 0h0m1 0h0m1 0h0m3 0h0m2 0h0m3 0h0m2 0h0m2 0h0m1 0h0m7 0h0m4 0h0m1 0h0m9 0h0m-54 1h0m1 0h0m1 0h0m17 0h0m2 0h0m1 0h0m3 0h0m2 0h0m3 0h0m3 0h0m8 0h0m3 0h0m3 0h0m-48 1h0m2 0h0m55 0h0m-57 1h0m1 0h0m57 0h0m-59 1h0m0 1h0m60 0h0m-61 1h0m0 1h0m63 0h0m0 2h0m2 0h0m-66 1h0m65 0h0m1 0h0m2 0h0m-69 1h0m67 0h0m-67 1h0m70 1h0m-2 1h0m-68 1h0m68 0h0m1 0h0m-69 1h0m71 1h0m1 0h0m-2 1h0m1 0h0m1 0h0m-72 1h0m0 1h0m70 1h0m-69 1h0m68 0h0m-68 2h0m68 0h0m1 0h0m-3 1h0m-65 1h0m65 0h0m-1 1h0m-1 1h0m0 1h0m-60 1h0m0 1h0m1 0h0m57 1h0m1 0h0m-53 1h0m2 1h0m3 0h0m1 0h0m1 0h0m2 0h0m1 0h0m-2 1h0m4 0h0m1 0h0m2 1h0m7 0h0m4 0h0m1 0h0m1 0h0m3 0h0m6 1h0m12 1h0m1 0h0" stroke="#4a80d8" stroke-width="1" stroke-linecap="square" fill="none" transform="translate(.5 .5)"/>
<path d="M472 188h0m4 1h0m-4 1h0m-29 7h0m5 1h0m25 0h0m5 0h0m-29 1h0m-11 1h0m11 0h0m2 0h0m5 0h0m15 0h0m-27 1h0m2 0h0m10 0h0m-22 1h0m2 0h0m18 0h0m-20 1h0m3 0h0m10 0h0m1 0h0m1 0h0m1 0h0m-23 1h0m15 0h0m10 0h0m2 0h0m7 0h0m5 1h0m2 0h0m-42 1h0m2 0h0m18 0h0m6 0h0m2 0h0m-27 1h0m38 0h0m7 0h0m-24 1h0m13 0h0m1 0h0m1 0h0m16 0h0m-58 7h0m-1 4h0m-1 1h0m67 0h0m-67 1h0m71 0h0m1 2h0m-71 5h0m67 2h0m1 0h0m-68 2h0m2 2h0m63 1h0m0 1h0m-44 5h0m0 1h0m6 0h0m-1 1h0m14 0h0m23 0h0m-9 1h0" stroke="#8fb0e6" stroke-width="1" stroke-linecap="square" fill="none" transform="translate(.5 .5)"/>
<g filter="url(#blc2)"><path d="M481.2,245.2 448.2,242.8 440.7,241.5 431.7,241 427.2,239.6 424.8,237.7 422.8,235.2 421,231.2 420,227.2 420.3,219.7 422.9,212.2 425.2,209.4 428.2,206.9 431.2,205.3 433.7,204.7 437.2,205 444.7,208 471.2,208.1 472.3,207.2 472.8,205.2 473.8,193.7 473.7,187.7 474.7,186.4 476.2,186.5 477,187.7 477.1,194.2 478.3,207.2 479,208.7 482.8,212.7 488.1,221.7 489,225.2 488,230.2 482.9,238.7 483.9,242.2 483.5,243.7 481.2,245.2Z" fill="#3468c8" fill-rule="evenodd"/><path d="M482.2,244.3 480.7,244.7 457.2,242.7 446.2,241.4 440.7,240.1 432.2,239.8 427.2,238.3 425.2,236.7 423.5,234.2 421.2,226.7 421.4,220.2 423.9,212.7 427.2,209.5 432.7,207.9 436.2,208.1 443.7,209.9 470.2,209.8 472.9,209.2 475.7,207 481.5,212.7 485.8,224.2 485.4,229.2 481.6,238.7 483.3,242.2 482.2,244.3Z" fill="#377bd2" fill-rule="evenodd"/><path d="M481.7,243.7 457.7,241.9 454.2,240.8 445.7,240.1 441.2,238.6 432.7,238.3 427.2,236.9 425.6,235.7 424.4,233.7 422.5,225.7 422.9,220.2 424.9,213.2 427.2,210.9 433.2,209.8 444.2,211.3 470.7,211 475.2,210.3 478.2,211.3 480,212.7 480.9,214.2 483.2,224.2 483.2,227.7 482.4,231.7 481.1,236.7 479.4,239.7 482.3,241.7 482.4,242.7 481.7,243.7Z" fill="#3a90dc" fill-rule="evenodd"/><path d="M479.2,242.2 457.7,241.1 454.2,239.7 445.7,238.9 441.6,237.2 432.2,237 427.2,235.8 425.3,233.2 423.8,225.7 424,220.7 425.7,213.7 427.7,211.9 433.2,211 444.2,212.6 475.2,211.8 477.7,212.5 479.2,213.8 480.1,216.2 481.5,223.7 481.4,228.7 479.7,236.7 478.7,237.8 474.9,239.7 479.2,242.2Z" fill="#3babda" fill-rule="evenodd"/><path d="M465.7,240.2 457.7,240.2 454.7,238.6 446.7,237.8 442.7,235.9 432.7,235.9 427.7,234.7 426.1,232.2 424.8,225.2 425.2,219.7 426.8,214.2 428.8,212.7 433.7,212.1 440.2,212.9 444.2,214.7 449.2,213.9 460.7,213.4 474.7,214 476.9,214.7 478.7,217.7 480,224.2 479.9,229.2 478.6,234.7 476.7,236.6 469.3,238.2 465.7,240.2Z" fill="#3cc4d8" fill-rule="evenodd"/><path d="M459.2,238.3 457.7,238.5 455.7,237.3 447.7,236.2 443.7,234.2 434.2,234.9 428.7,233.7 426.8,230.7 425.8,225.2 426.2,219.7 427.9,215.2 429.2,214.1 431.2,213.5 436.7,213.6 440.7,215 444.2,218.4 454.2,216 464.2,215.8 471.2,217 475.7,219.2 477.7,222.2 478.3,225.7 477.7,230.2 476.2,232.9 471.7,235.4 459.2,238.3Z" fill="#41bc99" fill-rule="evenodd"/><path d="M461.2,234.7 455.7,234.8 450.7,233.9 447.7,232.6 443.7,229.6 440.7,231.7 437.2,232.8 433.7,233 430.7,232.3 428.5,230.2 427.2,226.7 426.9,222.7 428,218.7 430.2,216.1 434.2,215.2 436.7,215.9 439.2,217.5 444.2,223.7 451.7,220.2 459.2,218.9 467.2,219.8 470.2,220.9 472.8,222.7 473.9,224.2 474.5,226.2 474,228.2 472.6,230.2 467.7,233.2 461.2,234.7Z" fill="#46b661" fill-rule="evenodd"/><path d="M434.7,230.2 432.7,230.2 430.7,229.2 429.2,227.3 428.5,225.2 428.5,222.7 429.3,220.2 430.7,218.6 432.7,217.7 435.2,218 437.1,219.2 438.6,221.2 439.5,223.7 439.6,225.7 438.8,227.7 437.2,229.3 434.7,230.2ZM460.2,232.2 455.2,231.9 451.2,230.5 448.9,228.2 449.1,225.7 450.4,224.2 452.7,222.8 458.7,221.3 465.7,221.9 469.9,224.2 470.7,226.7 469.1,229.2 465.2,231.3 460.2,232.2Z" fill="#73c23c" fill-rule="evenodd"/><path d="M434.7,227.8 433.2,228 431.7,227.4 430,224.7 430.3,221.7 431.2,220.5 432.7,219.6 435.2,220.1 436.9,222.7 436.8,225.7 434.7,227.8ZM460.7,230.7 456.7,230.6 453.2,229.3 451.7,227.7 452,225.7 455.2,223.5 459.7,222.6 464.2,223 467.6,224.7 468.3,226.7 467.2,228.4 464.2,230 460.7,230.7Z" fill="#bbd628" fill-rule="evenodd"/><path d="M433.7,225.8 432.2,225.3 431.6,224.2 431.7,222.7 433.2,221.5 434.2,221.8 435.1,223.2 435,224.7 433.7,225.8ZM459.7,229.7 456.7,229.4 454.7,228.4 453.8,227.2 454.3,225.7 456.7,224.2 460.7,223.6 464.2,224.2 466.1,225.7 466.1,227.2 464.7,228.5 459.7,229.7Z" fill="#f2e31e" fill-rule="evenodd"/><path d="M460.2,228.7 456.7,228.1 455.8,227.2 455.9,226.2 457.2,225.2 459.7,224.6 462.2,224.7 464.1,225.7 464.4,226.7 463.6,227.7 460.2,228.7Z" fill="#f3af1f" fill-rule="evenodd"/><path d="M461.2,227.4 459.2,227.5 458.1,226.7 459.2,225.8 460.9,225.7 462.1,226.7 461.2,227.4Z" fill="#ed731b" fill-rule="evenodd"/></g>
</g>
<filter id="blc3" x="-5%" y="-5%" width="110%" height="110%"><feGaussianBlur stdDeviation="0.45"/></filter>
<clipPath id="cpc3"><rect x="263.0" y="280.2" width="97.90" height="96.00"/></clipPath>
<g clip-path="url(#cpc3)">
<path d="M275 292h0m61 5h0m1 0h0m6 2h0m-19 1h0m-1 1h0m-32 1h0m31 0h0m23 0h0m-52 1h0m28 1h0m-41 1h0m21 1h0m52 1h0m-69 1h0m18 0h0m13 0h0m-41 1h0m30 0h0m-2 1h0m10 0h0m4 0h0m-51 1h0m83 0h0m-81 1h0m10 0h0m-11 1h0m6 0h0m2 0h0m3 0h0m18 0h0m15 0h0m-30 1h0m2 0h0m23 0h0m1 0h0m2 0h0m1 0h0m41 0h0m-82 1h0m2 0h0m5 0h0m1 0h0m14 0h0m6 0h0m19 0h0m-47 1h0m4 0h0m9 0h0m17 0h0m14 0h0m6 0h0m-41 1h0m5 0h0m4 0h0m19 0h0m-26 1h0m6 0h0m7 0h0m2 0h0m5 0h0m18 0h0m31 0h0m-65 1h0m2 0h0m8 0h0m4 0h0m1 0h0m5 0h0m2 0h0m7 0h0m-23 1h0m8 0h0m4 0h0m5 0h0m10 0h0m1 0h0m-10 1h0m1 0h0m4 0h0m2 0h0m6 0h0m-6 1h0m4 0h0m-1 1h0m5 0h0m27 1h0m-31 1h0m1 0h0m1 0h0m32 0h0m-1 1h0m5 3h0m-1 1h0m-2 2h0m5 1h0m-4 1h0m0 1h0m6 3h0m-97 5h0m1 0h0m93 0h0m1 0h0m-94 1h0m-1 1h0m95 0h0m2 7h0m-2 13h0m2 0h0m-2 1h0m-2 1h0m-91 1h0m-1 1h0m2 0h0m88 0h0m-88 1h0m2 1h0m-2 1h0m3 0h0m1 0h0m2 0h0m75 0h0m-79 1h0m77 0h0m1 0h0m-73 1h0m74 0h0m-9 1h0m3 0h0m-60 1h0m44 0h0m1 0h0m17 0h0" stroke="#8c8cc0" stroke-width="1" stroke-linecap="square" fill="none" transform="translate(.5 .5)"/>
<path d="M332 296h0m6 1h0m2 1h0m6 0h0m-26 2h0m23 0h0m-26 2h0m29 0h0m-24 1h0m24 0h0m-27 1h0m-50 2h0m77 0h0m-69 1h0m70 3h0m-53 1h0m17 0h0m-45 1h0m4 0h0m48 0h0m31 0h0m-84 1h0m35 0h0m2 0h0m-32 1h0m40 0h0m3 0h0m5 0h0m-37 1h0m22 0h0m1 0h0m-34 1h0m1 0h0m20 0h0m17 0h0m-45 1h0m1 0h0m30 0h0m9 0h0m6 0h0m9 0h0m1 0h0m41 0h0m-63 1h0m8 0h0m4 0h0m2 0h0m-24 1h0m31 0h0m-25 1h0m1 0h0m2 0h0m9 0h0m14 0h0m-16 1h0m7 0h0m11 0h0m-10 1h0m4 0h0m4 0h0m30 0h0m-36 1h0m5 0h0m1 0h0m30 0h0m-27 1h0m28 0h0m-27 1h0m-2 1h0m1 0h0m30 1h0m1 3h0m1 3h0m0 3h0m2 0h0m-1 2h0m1 1h0m1 2h0m2 4h0m-96 1h0m95 2h0m1 7h0m0 6h0m-2 5h0m-92 4h0m2 0h0m-1 1h0m87 0h0m-88 1h0m86 0h0m-80 1h0m3 0h0m75 0h0m-73 2h0m2 0h0m56 0h0m10 0h0m-65 1h0m4 0h0m51 0h0m1 0h0" stroke="#b4b4d6" stroke-width="1" stroke-linecap="square" fill="none" transform="translate(.5 .5)"/>
<path d="M301 293h0m38 4h0m2 0h0m0 2h0m-16 1h0m-1 1h0m-16 5h0m-34 1h0m40 1h0m5 0h0m28 0h0m-80 1h0m18 0h0m25 1h0m38 0h0m-38 1h0m-32 1h0m-10 1h0m37 0h0m12 0h0m32 0h0m-80 1h0m45 0h0m-50 2h0m23 0h0m3 0h0m7 0h0m5 0h0m-17 1h0m8 0h0m11 0h0m2 0h0m43 0h0m-68 1h0m10 0h0m4 0h0m1 0h0m6 0h0m5 0h0m3 0h0m6 0h0m-34 1h0m2 0h0m6 0h0m14 0h0m6 0h0m5 0h0m4 0h0m-31 1h0m3 0h0m12 0h0m4 0h0m3 0h0m2 0h0m1 0h0m5 0h0m-13 1h0m8 1h0m2 1h0m1 0h0m3 1h0m2 0h0m2 0h0m-1 1h0m31 3h0m2 4h0m-1 5h0m1 0h0m3 5h0m1 7h0m-1 2h0m1 8h0m-1 8h0m-94 1h0m89 2h0m-84 3h0m83 0h0m-89 1h0m16 1h0m58 0h0m2 0h0m-55 1h0m44 0h0" stroke="#4c4ca8" stroke-width="1" stroke-linecap="square" fill="none" transform="translate(.5 .5)"/>
<path d="M326 300h0m-3 3h0m21 0h0m-22 1h0m23 0h0m-24 1h0m0 1h0m-2 3h0m0 1h0m27 0h0m-27 1h0m0 1h0m0 1h0m-48 4h0m3 0h0m73 0h0m-81 1h0m6 0h0m3 0h0m45 0h0m27 0h0m-78 1h0m1 0h0m3 0h0m-2 1h0m4 0h0m1 0h0m7 0h0m38 0h0m-58 1h0m18 0h0m15 0h0m2 0h0m-18 1h0m9 0h0m12 0h0m1 0h0m1 0h0m2 0h0m18 0h0m25 0h0m-68 1h0m2 0h0m5 0h0m1 0h0m3 0h0m3 0h0m2 0h0m13 0h0m3 0h0m-34 1h0m2 0h0m3 0h0m3 0h0m1 0h0m10 0h0m1 0h0m4 0h0m1 0h0m2 0h0m9 0h0m1 0h0m9 0h0m-45 1h0m2 0h0m8 0h0m4 0h0m4 0h0m1 0h0m13 0h0m4 0h0m9 0h0m-46 1h0m1 0h0m10 0h0m2 0h0m7 0h0m1 0h0m2 0h0m5 0h0m5 0h0m3 0h0m1 0h0m2 0h0m8 0h0m-46 1h0m13 0h0m1 0h0m6 0h0m6 0h0m20 0h0m-30 1h0m7 0h0m3 0h0m1 0h0m2 0h0m1 0h0m5 0h0m8 0h0m2 0h0m-44 1h0m1 0h0m4 0h0m1 0h0m1 0h0m17 0h0m2 0h0m2 0h0m1 0h0m4 0h0m3 0h0m-37 1h0m3 0h0m2 0h0m1 0h0m3 0h0m1 0h0m3 0h0m9 0h0m4 0h0m1 0h0m5 0h0m2 0h0m2 0h0m9 0h0m27 0h0m-69 1h0m2 0h0m3 0h0m3 0h0m1 0h0m3 0h0m7 0h0m9 0h0m2 0h0m1 0h0m1 0h0m3 0h0m2 0h0m2 0h0m1 0h0m-41 1h0m7 0h0m3 0h0m3 0h0m1 0h0m4 0h0m2 0h0m4 0h0m1 0h0m2 0h0m2 0h0m5 0h0m2 0h0m5 0h0m1 0h0m-43 1h0m1 0h0m8 0h0m5 0h0m6 0h0m1 0h0m2 0h0m5 0h0m5 0h0m4 0h0m5 0h0m-38 1h0m2 0h0m1 0h0m1 0h0m5 0h0m2 0h0m2 0h0m6 0h0m49 0h0m-62 1h0m3 0h0m2 0h0m1 0h0m1 0h0m55 0h0m-72 1h0m4 0h0m1 0h0m3 0h0m-8 1h0m1 0h0m1 0h0m1 0h0m70 0h0m-90 1h0m1 1h0m1 0h0m1 0h0m88 0h0m-90 1h0m4 0h0m-4 1h0m3 0h0m2 0h0m-4 1h0m3 0h0m-3 1h0m91 1h0m0 1h0m-92 1h0m1 0h0m-1 1h0m93 2h0m-94 1h0m94 0h0m-94 1h0m94 1h0m0 2h0m-94 11h0m93 0h0m-92 1h0m92 0h0m-2 1h0m0 1h0m-84 2h0m79 0h0m1 0h0m2 0h0m-81 1h0m3 1h0m72 0h0m-69 1h0m65 0h0m2 0h0m-12 1h0m4 0h0m1 0h0m1 0h0m-11 1h0m-36 1h0m3 0h0m2 0h0m7 0h0m1 0h0m4 0h0m4 0h0m3 0h0" stroke="#3a34a0" stroke-width="1" stroke-linecap="square" fill="none" transform="translate(.5 .5)"/>
<path d="M338 298h0m-10 1h0m11 0h0m1 0h0m-13 1h0m15 0h0m-17 1h0m17 0h0m1 0h0m-21 4h0m23 0h0m0 1h0m-25 2h0m26 0h0m0 1h0m1 4h0m-28 1h0m28 0h0m-79 3h0m5 0h0m1 1h0m3 0h0m-10 1h0m10 0h0m44 0h0m-58 1h0m1 0h0m8 0h0m1 0h0m1 0h0m6 0h0m68 0h0m-84 1h0m9 0h0m2 0h0m4 0h0m4 0h0m4 0h0m1 0h0m13 0h0m21 0h0m-47 1h0m1 0h0m14 0h0m6 0h0m3 0h0m7 0h0m1 0h0m-30 1h0m1 0h0m5 0h0m2 0h0m4 0h0m1 0h0m5 0h0m12 0h0m17 0h0m-45 1h0m10 0h0m4 0h0m2 0h0m9 0h0m2 0h0m3 0h0m2 0h0m-34 1h0m7 0h0m3 0h0m1 0h0m6 0h0m1 0h0m11 0h0m2 0h0m1 0h0m3 0h0m13 0h0m-45 1h0m5 0h0m2 0h0m5 0h0m5 0h0m5 0h0m2 0h0m6 0h0m2 0h0m-26 1h0m3 0h0m12 0h0m1 0h0m2 0h0m2 0h0m3 0h0m3 0h0m2 0h0m1 0h0m2 0h0m3 0h0m6 0h0m-48 1h0m7 0h0m2 0h0m7 0h0m7 0h0m12 0h0m4 0h0m1 0h0m5 0h0m2 0h0m25 0h0m-71 1h0m4 0h0m1 0h0m4 0h0m5 0h0m4 0h0m2 0h0m1 0h0m5 0h0m2 0h0m3 0h0m1 0h0m12 0h0m1 0h0m-44 1h0m1 0h0m6 0h0m3 0h0m4 0h0m1 0h0m2 0h0m3 0h0m4 0h0m4 0h0m4 0h0m4 0h0m3 0h0m1 0h0m2 0h0m30 0h0m-73 1h0m13 0h0m3 0h0m2 0h0m5 0h0m2 0h0m1 0h0m1 0h0m2 0h0m1 0h0m2 0h0m-32 1h0m6 0h0m2 0h0m2 0h0m1 0h0m3 0h0m4 0h0m1 0h0m4 0h0m1 0h0m4 0h0m4 0h0m1 0h0m1 0h0m11 0h0m-46 1h0m6 0h0m1 0h0m3 0h0m3 0h0m2 0h0m2 0h0m3 0h0m1 0h0m3 0h0m3 0h0m4 0h0m2 0h0m1 0h0m2 0h0m5 0h0m2 0h0m-41 1h0m3 0h0m2 0h0m11 0h0m3 0h0m7 0h0m-24 1h0m4 0h0m2 0h0m3 0h0m3 0h0m4 0h0m-20 1h0m5 0h0m3 0h0m-2 1h0m70 1h0m-91 1h0m0 1h0m4 0h0m88 0h0m-90 1h0m3 0h0m88 0h0m-90 1h0m1 0h0m89 1h0m-91 1h0m0 1h0m92 1h0m-94 3h0m94 2h0m1 2h0m0 6h0m0 1h0m0 2h0m-1 3h0m-4 4h0m-84 1h0m3 1h0m76 0h0m-75 1h0m70 1h0m-65 1h0m3 1h0m2 0h0m33 0h0m1 0h0m5 0h0m2 0h0m2 0h0m2 0h0m2 0h0m-45 1h0m4 0h0m1 0h0m2 0h0m5 0h0m1 0h0m1 0h0m2 0h0m1 0h0m7 0h0" stroke="#6464b4" stroke-width="1" stroke-linecap="square" fill="none" transform="translate(.5 .5)"/>
<path d="M332 298h0m4 0h0m-7 1h0m12 1h0m-17 2h0m19 0h0m3 5h0m1 5h0m0 3h0m-27 1h0m-55 2h0m4 0h0m7 0h0m-13 1h0m3 0h0m10 0h0m2 0h0m-13 1h0m14 0h0m5 0h0m38 0h0m-48 1h0m2 0h0m4 0h0m2 0h0m3 0h0m5 0h0m7 0h0m5 0h0m-39 1h0m18 0h0m2 0h0m25 0h0m14 0h0m-38 1h0m19 0h0m1 0h0m1 0h0m43 0h0m-66 1h0m2 0h0m4 0h0m12 0h0m1 0h0m6 0h0m1 0h0m40 0h0m-70 1h0m13 0h0m8 0h0m1 0h0m1 0h0m1 0h0m1 0h0m1 0h0m1 0h0m5 0h0m7 0h0m-36 1h0m3 0h0m2 0h0m2 0h0m8 0h0m9 0h0m4 0h0m9 0h0m-40 1h0m2 0h0m4 0h0m4 0h0m2 0h0m4 0h0m4 0h0m2 0h0m3 0h0m5 0h0m5 0h0m3 0h0m33 0h0m1 0h0m-71 1h0m1 0h0m1 0h0m1 0h0m6 0h0m3 0h0m1 0h0m1 0h0m4 0h0m13 0h0m1 0h0m5 0h0m5 0h0m30 0h0m-69 1h0m8 0h0m2 0h0m3 0h0m19 0h0m7 0h0m29 0h0m1 0h0m-65 1h0m5 0h0m16 0h0m11 0h0m7 0h0m-40 1h0m1 0h0m10 0h0m3 0h0m1 0h0m15 0h0m-33 1h0m1 0h0m9 0h0m8 0h0m4 0h0m12 0h0m2 0h0m2 0h0m32 0h0m-70 1h0m1 0h0m13 0h0m1 0h0m10 0h0m3 0h0m5 0h0m5 0h0m32 0h0m-62 1h0m1 0h0m3 0h0m4 0h0m3 0h0m1 0h0m-13 1h0m3 0h0m-13 1h0m8 0h0m3 0h0m65 3h0m-89 2h0m0 2h0m1 0h0m90 4h0m-94 5h0m94 1h0m1 1h0m0 2h0m0 1h0m0 6h0m-1 1h0m-90 5h0m80 2h0m-2 1h0m-69 1h0m53 1h0m5 0h0m-49 1h0m33 0h0m1 0h0m1 0h0m1 0h0m-26 1h0m11 0h0m1 0h0m7 0h0" stroke="#9c9cca" stroke-width="1" stroke-linecap="square" fill="none" transform="translate(.5 .5)"/>
<path d="M330 299h0m5 0h0m1 0h0m1 0h0m-6 1h0m1 0h0m1 0h0m1 0h0m2 0h0m2 0h0m1 0h0m1 0h0m-12 1h0m13 0h0m0 1h0m-16 1h0m17 0h0m1 1h0m-20 1h0m21 0h0m0 1h0m-23 1h0m23 0h0m0 1h0m1 0h0m-25 1h0m25 1h0m-25 1h0m25 0h0m1 0h0m-26 1h0m0 1h0m26 0h0m-1 1h0m0 1h0m-24 2h0m24 0h0m-24 1h0m1 0h0m24 0h0m-24 1h0m1 0h0m23 0h0m-76 1h0m-5 1h0m1 0h0m1 0h0m2 0h0m1 0h0m1 0h0m1 0h0m51 0h0m1 0h0m23 0h0m-82 1h0m1 0h0m2 0h0m1 0h0m2 0h0m54 0h0m21 0h0m1 0h0m-84 1h0m1 0h0m1 0h0m1 0h0m2 0h0m1 0h0m2 0h0m2 0h0m52 0h0m21 0h0m1 0h0m-83 1h0m2 0h0m2 0h0m1 0h0m1 0h0m1 0h0m1 0h0m1 0h0m2 0h0m1 0h0m71 0h0m-84 1h0m3 0h0m3 0h0m2 0h0m1 0h0m1 0h0m1 0h0m1 0h0m1 0h0m50 0h0m1 0h0m20 0h0m-83 1h0m2 0h0m1 0h0m2 0h0m1 0h0m1 0h0m2 0h0m1 0h0m2 0h0m1 0h0m70 0h0m-83 1h0m1 0h0m2 0h0m1 0h0m1 0h0m2 0h0m-6 1h0m2 0h0m1 0h0m1 0h0m3 0h0m3 0h0m52 0h0m21 0h0m1 0h0m-86 1h0m1 0h0m1 0h0m1 0h0m1 0h0m1 0h0m1 0h0m2 0h0m1 0h0m1 0h0m2 0h0m3 0h0m49 0h0m1 0h0m20 0h0m-83 1h0m2 0h0m4 0h0m1 0h0m1 0h0m1 0h0m1 0h0m74 0h0m-86 1h0m2 0h0m1 0h0m1 0h0m1 0h0m1 0h0m5 0h0m4 0h0m48 0h0m1 0h0m1 0h0m22 0h0m-86 1h0m1 0h0m2 0h0m1 0h0m1 0h0m2 0h0m1 0h0m2 0h0m2 0h0m1 0h0m1 0h0m47 0h0m1 0h0m1 0h0m1 0h0m21 0h0m1 0h0m1 0h0m-88 1h0m1 0h0m1 0h0m2 0h0m1 0h0m1 0h0m1 0h0m1 0h0m1 0h0m1 0h0m1 0h0m1 0h0m1 0h0m51 0h0m1 0h0m23 0h0m-86 1h0m2 0h0m1 0h0m1 0h0m1 0h0m3 0h0m2 0h0m1 0h0m1 0h0m30 0h0m1 0h0m4 0h0m4 0h0m1 0h0m1 0h0m4 0h0m1 0h0m2 0h0m1 0h0m1 0h0m1 0h0m21 0h0m1 0h0m-86 1h0m1 0h0m2 0h0m1 0h0m2 0h0m1 0h0m3 0h0m1 0h0m1 0h0m25 0h0m2 0h0m1 0h0m1 0h0m1 0h0m1 0h0m3 0h0m4 0h0m1 0h0m1 0h0m3 0h0m2 0h0m2 0h0m2 0h0m1 0h0m1 0h0m2 0h0m-66 1h0m1 0h0m1 0h0m1 0h0m2 0h0m1 0h0m2 0h0m1 0h0m1 0h0m1 0h0m2 0h0m16 0h0m1 0h0m2 0h0m4 0h0m1 0h0m2 0h0m1 0h0m1 0h0m1 0h0m2 0h0m1 0h0m4 0h0m3 0h0m2 0h0m1 0h0m1 0h0m4 0h0m1 0h0m4 0h0m22 0h0m-86 1h0m1 0h0m1 0h0m3 0h0m5 0h0m1 0h0m1 0h0m13 0h0m2 0h0m2 0h0m4 0h0m1 0h0m1 0h0m2 0h0m3 0h0m3 0h0m2 0h0m3 0h0m1 0h0m7 0h0m3 0h0m1 0h0m25 0h0m1 0h0m2 0h0m-85 1h0m6 0h0m2 0h0m1 0h0m2 0h0m2 0h0m1 0h0m3 0h0m3 0h0m1 0h0m2 0h0m2 0h0m1 0h0m2 0h0m1 0h0m5 0h0m49 0h0m1 0h0m-81 1h0m2 0h0m3 0h0m2 0h0m3 0h0m2 0h0m2 0h0m1 0h0m3 0h0m1 0h0m1 0h0m63 0h0m-84 1h0m3 0h0m1 0h0m1 0h0m3 0h0m1 0h0m1 0h0m1 0h0m3 0h0m1 0h0m1 0h0m1 0h0m66 0h0m1 0h0m-82 1h0m1 0h0m1 0h0m2 0h0m4 0h0m1 0h0m1 0h0m73 0h0m-85 1h0m1 0h0m1 0h0m1 0h0m3 0h0m1 0h0m1 0h0m-7 1h0m2 0h0m81 0h0m-84 1h0m1 0h0m1 0h0m82 0h0m2 0h0m-87 1h0m-1 1h0m1 0h0m86 0h0m2 0h0m-91 1h0m1 0h0m1 0h0m89 0h0m-91 1h0m1 0h0m1 0h0m-3 1h0m1 0h0m1 0h0m-2 1h0m1 0h0m1 0h0m89 0h0m-91 1h0m1 0h0m1 0h0m88 0h0m1 0h0m-90 1h0m89 0h0m2 0h0m-93 1h0m1 0h0m1 0h0m89 0h0m-91 1h0m1 0h0m1 0h0m89 0h0m-91 1h0m92 0h0m1 0h0m-93 1h0m1 0h0m1 0h0m92 0h0m-93 1h0m1 0h0m92 0h0m-94 1h0m1 0h0m1 0h0m90 0h0m2 0h0m-94 1h0m1 0h0m1 0h0m91 0h0m1 0h0m-94 1h0m2 0h0m92 0h0m-94 1h0m2 0h0m91 0h0m-92 1h0m1 0h0m90 0h0m1 0h0m-92 1h0m1 0h0m90 0h0m1 0h0m1 0h0m-94 1h0m2 0h0m1 0h0m87 0h0m1 0h0m1 0h0m1 0h0m-90 1h0m86 0h0m1 0h0m2 0h0m-88 1h0m1 0h0m83 0h0m1 0h0m-86 1h0m2 0h0m1 0h0m81 0h0m1 0h0m1 0h0m1 0h0m-86 1h0m2 0h0m1 0h0m78 0h0m1 0h0m2 0h0m-82 1h0m2 0h0m1 0h0m1 0h0m75 0h0m2 0h0m-79 1h0m1 0h0m1 0h0m1 0h0m0 1h0m1 0h0m55 0h0m1 0h0m1 0h0m13 0h0m1 0h0m-69 1h0m47 0h0m1 0h0m1 0h0m1 0h0m1 0h0m1 0h0m1 0h0m1 0h0m1 0h0m2 0h0m1 0h0m2 0h0m4 0h0m2 0h0m1 0h0m-66 1h0m1 0h0m1 0h0m1 0h0m36 0h0m3 0h0m1 0h0m5 0h0m1 0h0m1 0h0m1 0h0m1 0h0m1 0h0m1 0h0m3 0h0m1 0h0m1 0h0m1 0h0m2 0h0m1 0h0m-60 1h0m2 0h0m1 0h0m1 0h0m2 0h0m21 0h0m3 0h0m5 0h0m5 0h0m3 0h0m1 0h0m1 0h0m1 0h0m-40 1h0m2 0h0m1 0h0m1 0h0m2 0h0m2 0h0m2 0h0m2 0h0m1 0h0m4 0h0m2 0h0m1 0h0m1 0h0m3 0h0m1 0h0m1 0h0" stroke="#2c2290" stroke-width="1" stroke-linecap="square" fill="none" transform="translate(.5 .5)"/>
<path d="M331 299h0m1 0h0m2 0h0m4 0h0m-10 1h0m1 0h0m1 0h0m7 0h0m-11 2h0m17 1h0m-20 1h0m20 1h0m2 4h0m0 3h0m0 1h0m-25 1h0m26 1h0m-25 1h0m24 0h0m1 1h0m-1 1h0m0 1h0m2 0h0m-81 1h0m2 0h0m1 0h0m54 0h0m23 0h0m0 1h0m-76 1h0m2 0h0m2 0h0m50 0h0m-57 1h0m3 0h0m2 0h0m3 0h0m-12 1h0m2 0h0m2 0h0m7 0h0m51 0h0m-61 1h0m4 0h0m80 0h0m-80 1h0m4 0h0m3 0h0m73 0h0m-85 1h0m7 0h0m4 0h0m1 0h0m1 0h0m51 0h0m1 0h0m-64 1h0m2 0h0m4 0h0m1 0h0m6 0h0m51 0h0m-58 1h0m4 0h0m-11 1h0m3 0h0m2 0h0m2 0h0m6 0h0m1 0h0m49 0h0m-56 1h0m1 0h0m-8 1h0m12 0h0m-9 1h0m11 0h0m46 0h0m1 0h0m1 0h0m24 0h0m1 0h0m-86 1h0m2 0h0m5 0h0m3 0h0m35 0h0m4 0h0m2 0h0m4 0h0m1 0h0m1 0h0m30 0h0m-82 1h0m3 0h0m1 0h0m27 0h0m2 0h0m6 0h0m4 0h0m1 0h0m15 0h0m-61 1h0m3 0h0m24 0h0m3 0h0m12 0h0m1 0h0m1 0h0m2 0h0m3 0h0m4 0h0m2 0h0m3 0h0m24 0h0m-82 1h0m1 0h0m3 0h0m2 0h0m13 0h0m2 0h0m2 0h0m5 0h0m5 0h0m6 0h0m2 0h0m2 0h0m1 0h0m10 0h0m-56 1h0m3 0h0m3 0h0m3 0h0m11 0h0m6 0h0m3 0h0m5 0h0m1 0h0m2 0h0m50 0h0m-85 1h0m1 0h0m3 0h0m8 0h0m2 0h0m2 0h0m4 0h0m6 0h0m-23 1h0m1 0h0m4 0h0m1 0h0m75 0h0m3 0h0m-84 1h0m6 0h0m76 0h0m1 1h0m1 0h0m-83 1h0m2 0h0m-6 2h0m87 0h0m1 0h0m0 1h0m-1 1h0m0 1h0m1 0h0m-1 2h0m2 1h0m-92 1h0m91 0h0m0 1h0m1 0h0m-92 2h0m1 0h0m90 1h0m0 3h0m-91 1h0m92 0h0m-92 1h0m91 0h0m-92 1h0m94 0h0m-94 1h0m91 0h0m-90 1h0m0 1h0m1 0h0m2 0h0m87 0h0m-89 1h0m1 0h0m87 0h0m1 0h0m-87 1h0m1 1h0m3 0h0m79 0h0m2 0h0m-84 1h0m2 0h0m77 0h0m2 0h0m-74 1h0m72 0h0m-71 1h0m68 0h0m-68 1h0m2 0h0m1 0h0m57 0h0m6 0h0m-60 1h0m36 0h0m4 0h0m1 0h0m1 0h0m10 0h0m-48 1h0m23 0h0m1 0h0m4 0h0m5 0h0m1 0h0m2 0h0m-36 1h0m2 0h0m4 0h0m2 0h0m2 0h0m6 0h0m1 0h0m6 0h0m1 0h0m4 0h0" stroke="#3a3aa8" stroke-width="1" stroke-linecap="square" fill="none" transform="translate(.5 .5)"/>
<path d="M333 299h0m-6 2h0m12 0h0m1 0h0m-16 3h0m-2 2h0m0 1h0m-1 1h0m5 15h0m1 1h0m-62 1h0m-2 1h0m64 0h0m-55 1h0m1 0h0m1 1h0m2 0h0m0 1h0m1 0h0m72 0h0m-80 1h0m58 0h0m1 0h0m-55 1h0m-3 1h0m3 0h0m37 2h0m-44 1h0m45 0h0m9 0h0m2 0h0m28 0h0m-59 1h0m5 0h0m2 0h0m8 0h0m8 0h0m12 0h0m-63 1h0m31 0h0m2 0h0m9 0h0m17 0h0m3 0h0m-59 1h0m16 0h0m7 0h0m8 0h0m1 0h0m-29 1h0m4 0h0m3 0h0m2 0h0m8 0h0m6 0h0m-10 1h0m-4 1h0m75 0h0m-85 2h0m1 0h0m85 0h0m-86 1h0m85 1h0m-87 1h0m89 1h0m0 2h0m0 5h0m1 2h0m-1 1h0m0 3h0m-10 10h0m1 0h0m2 0h0m-23 3h0m8 0h0m-51 1h0m33 0h0m-14 1h0m14 0h0" stroke="#8080bc" stroke-width="1" stroke-linecap="square" fill="none" transform="translate(.5 .5)"/>
<g filter="url(#blc3)"><path d="M303.5,375.2 293.5,375.2 285,374.3 280.5,373.2 269.5,368.4 264.3,363.2 264.4,356.7 265.3,351.7 266.9,347.7 270.4,344.2 276,342.1 284.5,340.2 311.5,337 324,336.9 326.9,336.2 327.7,335.2 327.4,333.7 328.1,329.7 327.9,326.7 321.8,317.2 320.8,313.2 321.2,309.7 324.5,304.5 328.7,301.2 334,300.1 337.5,300.3 340,301.2 342.5,303.2 344.6,307.2 345.6,311.7 346.7,322.7 349.5,331.2 349.7,336.2 353,340.2 354.5,344.4 355.5,350.2 356.2,363.2 351.1,368.2 341,372.8 332.5,372.6 303.5,375.2ZM268.5,334.7 267,334.9 265.5,334 264,330.7 264.9,327.2 266,326 267.5,325.3 270,326.4 271.3,329.2 270.7,332.7 268.5,334.7Z" fill="#2d2494" fill-rule="evenodd"/><path d="M305.5,374.2 297.5,374.6 285.5,373.7 280.5,372.3 275.1,369.2 271.3,365.7 270,363.2 269.3,360.2 269.6,354.2 271.6,348.2 273.7,345.7 276.2,344.2 282.5,342.2 290,340.8 315,338.1 330,339.4 331.7,336.7 332.1,335.2 329.9,330.7 329,324.7 322.6,317.2 321.7,314.2 321.7,311.2 324,306.5 328,302.9 333.5,301.5 339,302.5 342,305.1 343.9,309.7 344.1,314.7 342.4,321.2 346,325.2 348,330.2 348.1,339.2 346.5,342.2 349.4,348.7 350.4,353.2 350.7,359.2 349.4,365.2 347.8,367.7 345,370.3 342,371.8 339,372.2 336,371.4 333.9,370.2 332.1,368.2 330,364.1 329,363.7 325.3,368.2 321.5,370.9 314.5,373.1 305.5,374.2ZM332.3,344.2 333.6,342.7 333.7,341.7 331.5,340.9 330.6,341.7 330.7,342.7 331.5,344.4 332.3,344.2Z" fill="#2e2ca3" fill-rule="evenodd"/><path d="M334,320.8 330,321.1 326.5,319.9 323.8,317.2 322.6,313.7 323.1,310.2 325,307.1 328.5,304.4 332,303.4 335.5,303.6 339,305.2 341.2,307.7 342.1,310.7 341.8,313.7 340.3,316.7 337.5,319.2 334,320.8ZM341.5,340.7 340.5,340.8 338.5,339.9 335.9,337.7 331.9,330.2 331.6,328.7 332,327.7 335.5,326.6 341,326.7 344,327.3 345.5,328.3 346.3,331.2 345.7,337.7 344,339.8 341.5,340.7ZM304.5,373.2 297.5,373.7 289,373.4 281.5,371.5 277.5,368.9 275.3,366.2 273.8,363.2 272.8,358.7 273.7,353.7 274.9,351.2 276.9,348.7 280.5,346 286,343.9 311.5,339.9 318.5,339.9 321.5,340.7 324.5,342.5 327,345.7 328.3,350.2 327.7,356.2 324.9,362.7 320.6,367.7 317,370.1 312,371.9 304.5,373.2ZM340.5,371.2 337,370.5 333.7,367.2 331.7,362.2 331.1,356.7 331.7,351.7 333.9,346.7 337,343.5 340.5,342.3 344,344 346.7,347.2 348.6,352.2 349.2,357.2 348.6,362.2 346.9,366.7 344,369.9 340.5,371.2Z" fill="#2e37b2" fill-rule="evenodd"/><path d="M332.5,319.7 329,319.5 326,318 324.2,315.7 323.7,312.2 324.8,309.2 327.5,306.4 330.5,305 334,304.7 337,305.6 339.1,307.2 340.3,309.2 340.6,312.2 339.9,314.7 338,317.1 335.5,318.8 332.5,319.7ZM302.5,372.2 289,372.4 284.5,371.4 280,369 276.6,365.2 274.9,361.2 274.7,356.2 276.3,352.2 278.5,349.6 281.5,347.6 284.5,346.4 291,344.9 314.5,341.3 319.5,341.9 323,343.5 325.4,346.2 326.6,350.2 325.9,356.2 323.2,362.2 319.5,366.4 316,368.8 309.5,371.1 302.5,372.2ZM341,370.2 338,369.9 334.8,367.2 332.7,362.7 332,357.7 332.3,353.2 334.2,348.2 337,345 340,343.9 343,344.7 345.6,347.2 347.6,351.7 348.4,356.2 348.1,360.7 346.7,365.2 344.1,368.7 341,370.2Z" fill="#2f56c6" fill-rule="evenodd"/><path d="M332,318.8 329,318.5 326.5,317.1 324.9,314.7 324.8,311.7 326,309.1 328.5,306.9 331.5,305.8 334.5,305.8 336.5,306.6 338.4,308.2 339.4,310.2 339.4,312.7 338.7,314.7 337,316.7 335,318 332,318.8ZM301,371.2 289,371.3 283,369.6 280,367.5 277.5,364.2 275.8,359.2 276.1,355.7 277.5,352.7 279.3,350.7 282,348.9 285,347.7 294,345.8 315,342.7 319.5,343.3 322.5,344.8 324.6,347.7 325.3,352.7 323.6,358.7 320.8,363.2 318,366 312.5,368.9 301,371.2ZM341.5,369.2 338.5,369.1 335.5,366.8 333.6,363.2 332.6,358.2 333.1,352.7 334.7,348.7 337,346.1 340,344.9 343,345.8 345.3,348.2 347.1,352.2 347.7,356.2 347.4,361.2 346.2,364.7 344,367.7 341.5,369.2Z" fill="#317cd7" fill-rule="evenodd"/><path d="M332.5,317.8 330,317.7 327.6,316.7 326.3,315.2 325.7,312.7 326.4,310.2 328,308.3 330.5,307 333,306.6 335,307 337,308.2 338.1,309.7 338.5,311.7 338,313.7 336.7,315.7 335,316.9 332.5,317.8ZM299,370.2 290,370.3 286.5,369.7 283,368.3 280.5,366.4 277.8,362.2 276.8,358.7 277.7,354.7 279.9,351.7 282.5,350 287.5,348.3 312.5,344.1 317.5,344.1 322,346 323.7,348.7 324.1,352.7 322.6,358.2 319.5,362.9 315.5,366.2 312,367.9 305,369.5 299,370.2ZM341.5,368.3 338.5,368.2 336,366.2 334.1,362.7 333.2,358.2 333.6,353.2 335,349.7 337,347.1 340,345.9 342.5,346.5 344.8,348.7 346.3,351.7 347.2,356.2 346.9,360.7 345.7,364.2 344,366.7 341.5,368.3Z" fill="#3ab4e1" fill-rule="evenodd"/><path d="M333.5,316.7 329.5,316.7 327.8,315.7 326.8,314.2 326.6,312.7 327.1,310.7 328.5,309 330.5,307.8 334.5,307.8 336.2,308.7 337.2,310.2 337.5,312.2 336.8,314.2 335.4,315.7 333.5,316.7ZM298.5,369.2 290,369.3 287.5,368.8 283.5,367.4 281.5,365.9 279.4,363.2 278.1,360.2 278.1,356.7 279.1,354.2 281,352.2 284,350.5 294.5,348 315,345 319,345.6 321.2,346.7 322.4,348.2 323,350.2 322.5,355.2 320.5,359.8 317.2,363.7 314.5,365.6 308.5,367.8 298.5,369.2ZM340.5,367.7 338,367.1 335.6,364.7 334.3,361.7 333.7,357.7 334.2,353.2 335.3,350.2 337.5,347.6 340,346.7 342.5,347.3 344.8,349.7 346.2,353.2 346.7,356.7 346.3,360.7 345.1,364.2 343,366.7 340.5,367.7Z" fill="#41c1bd" fill-rule="evenodd"/><path d="M333.5,315.8 330.5,316 328,314.2 327.6,312.7 327.9,311.2 330.5,308.8 334,308.6 335.5,309.5 336.3,310.7 336,313.7 333.5,315.8ZM293.5,368.2 286.5,367.4 283.9,366.2 280.5,363 279.2,360.7 278.9,358.2 279.8,355.2 281.5,353.2 283.5,351.9 288.5,350.3 313,346.4 318.5,346.7 321.3,348.7 321.9,352.2 320.7,356.7 319.1,359.7 316,363.2 311.5,365.6 308,366.7 301,367.8 293.5,368.2ZM341.5,366.7 339,366.7 336.8,365.2 335,362.2 334.2,358.2 334.5,354.2 335.7,350.7 337.5,348.5 340,347.5 342,347.9 344,349.7 345.4,352.2 346.2,356.2 346.1,359.2 345.2,362.7 343.5,365.3 341.5,366.7Z" fill="#47bf86" fill-rule="evenodd"/><path d="M333,314.8 330.5,314.9 329,313.4 329.3,311.2 331,309.8 333.5,309.7 335.1,311.2 334.9,313.2 333,314.8ZM300.5,366.3 290,366.6 285,365.2 282.7,363.7 280.7,361.2 280,358.7 280.3,356.7 281.2,355.2 283.5,353.3 289,351.4 315,347.8 318,348.2 319.5,349 320.2,350.7 319.7,354.7 318,358.5 315.3,361.7 310.5,364.3 300.5,366.3ZM341.5,365.9 339,365.9 337,364.4 335.5,361.7 334.7,358.2 334.9,354.7 336.1,351.2 338,349 340,348.3 342,348.8 343.6,350.2 344.9,352.7 345.7,356.2 344.8,362.2 343.5,364.3 341.5,365.9Z" fill="#4bb94d" fill-rule="evenodd"/><path d="M332.5,313 331.1,312.7 331.4,311.7 332.8,311.7 332.5,313ZM340.5,365.2 338.5,364.7 336.9,363.2 335.7,360.7 335.2,357.7 335.6,354.2 336.6,351.7 338,350 340,349.2 342,349.7 343.5,351.2 344.7,353.7 345.1,356.7 344.8,360.2 343.8,362.7 342.5,364.3 340.5,365.2ZM291.5,364.7 286,363.9 282.6,361.7 281.6,360.2 281.3,358.2 283,355.2 287,353.1 292,352 308.5,350.5 316.6,351.7 315,356.4 311.5,359.9 307,361.6 297.5,363.9 291.5,364.7Z" fill="#8bc936" fill-rule="evenodd"/><path d="M340.5,364.2 339,364 337.5,362.7 336.3,360.2 335.9,357.7 336.9,352.7 338.5,350.7 340,350.2 341.5,350.5 343,351.8 344.1,354.2 344.5,356.7 343.5,361.8 342,363.6 340.5,364.2ZM292.5,363.2 288,363.1 284.5,361.7 282.7,359.2 283.3,356.7 286.5,354.3 290.5,353.1 300.5,352.9 308,352 310.4,353.2 310.7,355.2 309.5,356.9 302.5,359.1 296,362.4 292.5,363.2Z" fill="#c9d927" fill-rule="evenodd"/><path d="M340.5,363.3 339,363 337.7,361.7 336.5,357.7 337.4,353.2 338.5,351.8 340,351.1 341.5,351.5 342.7,352.7 343.9,356.7 343,361.2 342,362.6 340.5,363.3ZM293,362.3 289.5,362.5 286,361.5 284.2,359.7 284.3,357.2 287,354.9 290.5,353.8 301.5,354.1 308,353.6 308.9,354.2 308.5,355.4 302.5,357.5 296.5,361.1 293,362.3Z" fill="#f2e21c" fill-rule="evenodd"/><path d="M341,362.2 339.5,362.3 338.5,361.6 337.1,358.2 337.6,354.2 338.5,352.8 340,352 342,352.9 343.3,356.2 343,359.7 341,362.2ZM292.5,361.8 289.5,361.9 286.5,360.9 285.1,359.2 285.4,357.2 287.5,355.4 290.5,354.4 295.5,354.4 300.2,355.7 300.4,356.7 298,359.2 295.5,360.8 292.5,361.8Z" fill="#f3b51e" fill-rule="evenodd"/><path d="M340.5,361.2 338.5,360.2 337.7,357.7 338.2,354.7 340,353.1 341.9,354.2 342.7,356.7 342.2,359.7 340.5,361.2ZM292,361.3 289.5,361.3 287,360.2 286,358.7 286.5,357.2 288.5,355.5 291,354.9 295,355.1 297.8,356.2 297.9,357.7 296.6,359.2 292,361.3Z" fill="#ed721d" fill-rule="evenodd"/><path d="M341,359.8 339.5,359.9 338.5,358.1 338.7,355.7 340,354.3 341.1,354.7 341.9,356.2 341.9,358.2 341,359.8ZM292,360.7 290,360.8 288,360.1 286.9,358.7 287.3,357.2 289,355.9 291.5,355.3 294.8,355.7 296.5,356.7 296.7,357.7 295.5,359.2 292,360.7Z" fill="#e0231a" fill-rule="evenodd"/></g>
</g>
<filter id="blc4" x="-5%" y="-5%" width="110%" height="110%"><feGaussianBlur stdDeviation="0.45"/></filter>
<clipPath id="cpc4"><rect x="410.7" y="279.8" width="97.60" height="97.40"/></clipPath>
<g clip-path="url(#cpc4)">
<path d="M506 291h0m-37 1h0m18 1h0m-16 1h0m7 0h0m12 2h0m15 0h0m-71 1h0m35 0h0m34 1h0m-37 1h0m4 0h0m4 0h0m8 0h0m2 0h0m5 0h0m11 0h0m-50 1h0m3 0h0m14 0h0m9 0h0m-30 1h0m4 0h0m20 0h0m-30 1h0m2 0h0m3 0h0m5 0h0m3 0h0m-16 1h0m10 0h0m6 0h0m5 0h0m6 0h0m12 0h0m8 0h0m4 0h0m10 0h0m-82 1h0m1 0h0m11 0h0m4 0h0m51 0h0m8 0h0m15 0h0m-77 1h0m2 0h0m40 0h0m37 0h0m-23 1h0m2 0h0m19 0h0m-39 1h0m8 0h0m18 0h0m1 0h0m-67 1h0m45 0h0m14 0h0m3 0h0m12 0h0m-15 1h0m3 0h0m8 0h0m-84 1h0m13 0h0m47 0h0m8 0h0m-8 1h0m5 0h0m1 0h0m17 0h0m10 0h0m-86 1h0m84 0h0m-84 1h0m61 0h0m1 0h0m7 0h0m-66 1h0m52 0h0m8 0h0m12 0h0m2 0h0m3 0h0m-79 1h0m50 0h0m5 0h0m4 0h0m8 0h0m12 0h0m-83 1h0m67 0h0m18 0h0m-29 1h0m12 0h0m1 0h0m16 0h0m5 0h0m-89 1h0m5 0h0m56 0h0m7 0h0m1 0h0m18 0h0m-93 1h0m3 0h0m57 0h0m3 0h0m6 0h0m-61 1h0m63 0h0m14 0h0m1 0h0m1 0h0m-83 1h0m2 0h0m57 0h0m20 0h0m6 0h0m-85 1h0m2 0h0m59 0h0m22 0h0m3 0h0m-91 1h0m8 0h0m52 0h0m3 0h0m3 0h0m4 0h0m23 1h0m-33 1h0m9 0h0m-67 1h0m65 0h0m19 0h0m8 0h0m1 0h0m-31 1h0m3 0h0m2 0h0m1 0h0m1 0h0m5 0h0m10 0h0m2 0h0m1 0h0m-83 1h0m61 0h0m30 0h0m-92 1h0m59 0h0m1 0h0m9 0h0m13 0h0m-22 1h0m-65 1h0m66 0h0m1 0h0m1 0h0m9 0h0m7 0h0m-85 1h0m2 0h0m6 0h0m2 0h0m52 0h0m1 0h0m3 0h0m20 0h0m-24 1h0m2 0h0m4 0h0m1 0h0m2 0h0m16 0h0m-16 1h0m-68 1h0m69 0h0m2 0h0m3 0h0m1 0h0m7 0h0m-12 1h0m-64 1h0m76 0h0m-77 1h0m1 0h0m1 0h0m63 0h0m2 0h0m-72 1h0m83 0h0m2 0h0m-82 1h0m2 0h0m81 0h0m-10 3h0m-73 1h0m76 0h0m-3 1h0m1 0h0m5 0h0m-4 2h0m4 0h0m3 0h0m-5 1h0m9 0h0m-7 1h0m1 0h0m1 0h0m6 0h0m-90 1h0m79 0h0m4 0h0m7 0h0m2 0h0m-93 1h0m1 0h0m84 0h0m-84 1h0m80 0h0m3 0h0m9 0h0m-9 1h0m10 0h0m-94 1h0m88 0h0m-89 1h0m1 0h0m84 0h0m6 0h0m-90 1h0m79 0h0m12 0h0m-92 1h0m87 0h0m6 0h0m-15 3h0m14 0h0m4 1h0m-16 1h0m3 0h0m1 0h0m-82 1h0m82 0h0m-4 1h0m2 0h0m-7 1h0m5 0h0m8 0h0m-88 1h0m74 0h0m7 0h0m2 0h0m12 0h0m-20 2h0m1 0h0m6 0h0m1 0h0m-80 1h0m68 0h0m1 0h0m14 0h0m1 0h0m-86 1h0m7 0h0m60 0h0m15 0h0m-81 1h0m65 0h0m5 0h0m20 0h0m-84 1h0m66 0h0m15 0h0m2 0h0m-25 1h0m1 0h0m12 0h0m11 0h0m-76 1h0m48 0h0m8 0h0m9 0h0m-74 1h0m60 0h0m8 0h0m-58 1h0m54 0h0m-59 1h0m12 0h0m1 0h0m47 0h0m8 0h0m8 0h0m11 0h0" stroke="#9fb0dc" stroke-width="1" stroke-linecap="square" fill="none" transform="translate(.5 .5)"/>
<path d="M413 283h0m92 9h0m-38 1h0m14 1h0m4 1h0m1 0h0m20 1h0m-19 1h0m-48 1h0m48 0h0m19 0h0m-60 1h0m46 0h0m1 0h0m10 0h0m-56 1h0m23 0h0m1 0h0m34 0h0m1 0h0m-33 1h0m15 0h0m-45 1h0m5 0h0m1 0h0m25 0h0m9 0h0m15 0h0m-47 1h0m3 0h0m6 0h0m11 0h0m20 0h0m-60 1h0m8 0h0m22 0h0m11 0h0m22 0h0m2 0h0m-32 1h0m19 0h0m13 0h0m1 0h0m-71 1h0m5 0h0m64 0h0m-83 1h0m56 0h0m3 0h0m2 0h0m22 0h0m-13 1h0m9 0h0m2 0h0m10 0h0m-85 1h0m9 0h0m42 0h0m14 0h0m-59 1h0m47 0h0m7 0h0m6 0h0m3 0h0m19 0h0m-86 1h0m49 0h0m8 0h0m11 0h0m6 0h0m4 0h0m-86 1h0m57 0h0m14 0h0m3 0h0m2 0h0m2 0h0m6 0h0m-83 1h0m12 0h0m69 0h0m3 0h0m4 0h0m-81 1h0m51 0h0m15 0h0m-63 1h0m75 0h0m-28 1h0m4 0h0m6 0h0m1 0h0m6 0h0m8 0h0m2 0h0m6 0h0m-83 1h0m50 0h0m6 0h0m20 0h0m1 0h0m-27 1h0m1 0h0m11 0h0m1 0h0m-62 1h0m1 0h0m48 0h0m8 0h0m6 0h0m4 0h0m-16 1h0m4 0h0m1 0h0m30 0h0m-94 1h0m65 0h0m9 0h0m-16 1h0m4 0h0m13 0h0m17 0h0m-93 1h0m2 0h0m64 0h0m1 0h0m-58 1h0m50 0h0m3 0h0m23 0h0m-14 1h0m4 0h0m12 1h0m8 0h0m-94 1h0m6 0h0m2 0h0m50 0h0m6 0h0m-64 1h0m61 0h0m10 0h0m12 0h0m3 1h0m-25 1h0m3 0h0m7 0h0m24 0h0m-90 1h0m3 0h0m54 0h0m6 0h0m-65 1h0m63 0h0m3 0h0m2 0h0m13 0h0m-77 1h0m53 0h0m4 0h0m5 0h0m-66 1h0m4 0h0m58 0h0m1 0h0m2 1h0m-62 1h0m63 0h0m20 0h0m2 0h0m-86 1h0m67 0h0m1 0h0m1 0h0m1 0h0m-77 1h0m71 0h0m2 0h0m17 0h0m-85 1h0m2 0h0m65 0h0m1 0h0m20 0h0m1 0h0m-18 1h0m0 1h0m-70 1h0m70 0h0m7 0h0m8 0h0m1 0h0m-13 1h0m3 0h0m-82 1h0m78 0h0m3 1h0m4 0h0m2 0h0m4 0h0m-89 1h0m78 0h0m16 1h0m-6 1h0m-7 1h0m1 1h0m5 0h0m0 1h0m2 0h0m-4 1h0m6 0h0m-94 1h0m81 0h0m1 0h0m0 1h0m9 0h0m2 0h0m3 2h0m-14 1h0m-82 1h0m80 0h0m2 0h0m1 0h0m12 0h0m-11 1h0m2 0h0m-2 1h0m14 0h0m-19 1h0m1 0h0m-2 1h0m14 0h0m3 0h0m-18 3h0m6 0h0m1 0h0m7 0h0m-15 1h0m10 1h0m-82 1h0m71 0h0m10 0h0m11 0h0m-93 1h0m68 0h0m4 0h0m-68 1h0m63 0h0m11 0h0m-75 1h0m1 0h0m72 0h0m-5 1h0m6 0h0m6 0h0m-21 1h0m1 0h0m4 0h0m17 0h0m-25 1h0m19 0h0m-69 1h0m1 0h0m-1 1h0m5 0h0m1 0h0m39 0h0m4 0h0m0 1h0m5 0h0m3 0h0m15 0h0" stroke="#c4c8dc" stroke-width="1" stroke-linecap="square" fill="none" transform="translate(.5 .5)"/>
<path d="M470 293h0m1 2h0m24 1h0m-22 1h0m17 0h0m-49 1h0m33 0h0m10 0h0m-23 1h0m-17 1h0m37 0h0m-45 1h0m21 0h0m-27 1h0m5 0h0m6 1h0m15 0h0m12 0h0m14 0h0m1 0h0m2 0h0m17 0h0m-22 1h0m25 0h0m-40 1h0m24 0h0m-59 1h0m75 0h0m-78 1h0m43 0h0m6 0h0m8 0h0m-62 1h0m6 0h0m41 0h0m2 0h0m5 0h0m1 0h0m17 0h0m-79 1h0m8 0h0m44 0h0m17 0h0m21 0h0m-33 1h0m5 0h0m20 0h0m5 0h0m-77 1h0m55 0h0m9 0h0m19 0h0m-95 1h0m8 0h0m55 0h0m1 0h0m14 0h0m1 0h0m-73 1h0m53 0h0m3 0h0m15 0h0m13 0h0m3 0h0m-96 1h0m2 0h0m7 0h0m51 0h0m4 0h0m14 0h0m11 0h0m-21 1h0m24 0h0m-24 1h0m1 0h0m9 0h0m12 0h0m-86 1h0m2 0h0m57 1h0m-2 1h0m24 0h0m2 0h0m2 0h0m1 0h0m-20 1h0m5 0h0m18 0h0m-20 1h0m25 0h0m-91 1h0m55 0h0m11 1h0m4 0h0m11 0h0m1 0h0m-86 1h0m3 0h0m0 1h0m82 0h0m-76 1h0m59 0h0m-66 1h0m73 1h0m-2 2h0m18 0h0m-91 1h0m61 0h0m2 0h0m20 0h0m-81 1h0m4 2h0m61 0h0m22 0h0m-86 1h0m63 1h0m7 0h0m9 0h0m-14 1h0m-67 1h0m67 0h0m7 0h0m-69 1h0m67 0h0m11 0h0m4 0h0m-17 1h0m-69 1h0m81 0h0m-8 1h0m4 1h0m11 0h0m-93 1h0m5 0h0m79 0h0m-1 2h0m3 1h0m4 0h0m-87 1h0m85 0h0m-88 1h0m81 0h0m1 0h0m1 0h0m-83 1h0m84 0h0m10 0h0m-93 3h0m84 0h0m-1 1h0m13 1h0m-13 1h0m10 0h0m-92 2h0m83 0h0m4 1h0m3 0h0m-2 2h0m-10 1h0m-78 1h0m75 0h0m1 0h0m3 0h0m3 0h0m-80 1h0m83 0h0m1 0h0m-83 2h0m93 0h0m-1 1h0m-91 1h0m66 0h0m7 0h0m12 0h0m4 0h0m-95 1h0m82 0h0m-81 1h0m5 0h0m4 1h0m68 0h0m8 0h0m-85 1h0m4 1h0m2 0h0m72 0h0m7 0h0m4 0h0m-26 1h0m2 0h0m4 0h0m5 0h0m12 0h0m-26 1h0m7 0h0m12 0h0m-20 1h0m4 0h0m10 0h0m1 0h0m-22 1h0m3 0h0" stroke="#6f8ed6" stroke-width="1" stroke-linecap="square" fill="none" transform="translate(.5 .5)"/>
<path d="M492 286h0m-3 11h0m-12 3h0m21 1h0m-60 2h0m7 0h0m1 0h0m9 0h0m46 1h0m-3 1h0m-84 1h0m85 1h0m-20 1h0m13 0h0m-69 3h0m61 0h0m-60 1h0m57 0h0m8 0h0m-6 1h0m19 1h0m-28 1h0m7 0h0m15 0h0m-72 2h0m51 0h0m5 0h0m15 1h0m-19 1h0m20 0h0m6 1h0m-80 1h0m58 0h0m23 1h0m-85 2h0m87 4h0m-84 1h0m63 0h0m13 0h0m-80 1h0m71 0h0m11 0h0m-83 1h0m-5 3h0m3 0h0m82 3h0m4 1h0m-12 3h0m16 0h0m-3 2h0m6 0h0m-95 2h0m1 0h0m81 7h0m5 2h0m-4 1h0m-85 7h0m1 3h0m84 1h0m-81 1h0m69 0h0m18 0h0m-8 2h0m-78 3h0m64 0h0m7 0h0m8 0h0m5 0h0m5 1h0m-17 1h0m-19 2h0m-51 1h0m53 0h0" stroke="#e0c8d0" stroke-width="1" stroke-linecap="square" fill="none" transform="translate(.5 .5)"/>
<path d="M437 305h0m1 0h0m2 0h0m2 0h0m14 0h0m3 0h0m-25 1h0m2 0h0m1 0h0m-2 1h0m29 0h0m1 0h0m-36 1h0m0 1h0m1 0h0m36 1h0m2 1h0m-41 1h0m1 0h0m39 0h0m-41 1h0m2 0h0m40 0h0m24 0h0m-1 1h0m2 0h0m-66 1h0m42 0h0m21 0h0m-64 1h0m42 0h0m23 0h0m-65 1h0m64 0h0m1 0h0m2 0h0m-68 1h0m66 0h0m3 0h0m-3 1h0m-67 1h0m2 0h0m65 0h0m-2 1h0m-66 1h0m70 0h0m-4 1h0m-66 1h0m47 0h0m-46 1h0m46 0h0m19 0h0m3 0h0m-1 2h0m2 0h0m1 0h0m-1 1h0m-71 1h0m1 0h0m66 0h0m2 0h0m-69 1h0m48 0h0m20 0h0m2 0h0m1 0h0m-71 1h0m2 0h0m46 0h0m21 0h0m-22 1h0m21 0h0m3 0h0m-70 1h0m47 0h0m1 0h0m21 0h0m0 1h0m-70 1h0m69 0h0m-21 1h0m21 0h0m-17 1h0m15 0h0m-66 1h0m54 0h0m15 0h0m2 0h0m-72 1h0m54 0h0m5 0h0m9 0h0m1 0h0m1 0h0m-15 1h0m1 0h0m3 1h0m8 0h0m3 0h0m-12 1h0m2 0h0m1 0h0m7 0h0m2 0h0m-9 1h0m3 0h0m1 0h0m-2 1h0m3 0h0m-70 1h0m65 0h0m2 0h0m1 0h0m1 0h0m-70 1h0m66 0h0m4 0h0m-71 1h0m68 0h0m3 0h0m2 2h0m-73 1h0m69 0h0m3 0h0m-74 1h0m2 0h0m69 0h0m1 0h0m2 0h0m-74 2h0m1 0h0m71 0h0m0 1h0m2 0h0m1 0h0m0 1h0m-76 1h0m2 0h0m71 0h0m-72 1h0m72 0h0m3 0h0m1 0h0m-5 1h0m2 0h0m-2 1h0m1 1h0m1 0h0m-71 1h0m67 0h0m1 0h0m-69 1h0m1 0h0m71 0h0m-71 1h0m67 0h0m2 0h0m-2 1h0m1 0h0m2 0h0m-8 2h0m1 0h0m2 0h0m-1 1h0m-62 1h0m1 0h0m1 0h0m56 0h0m1 0h0m1 0h0m1 0h0m1 0h0m-58 2h0m55 0h0m1 0h0m-6 2h0m2 0h0m-48 1h0m1 0h0m45 0h0m1 0h0m-5 1h0m-40 1h0m3 0h0m5 0h0m-1 1h0m3 0h0m3 0h0m21 0h0m-26 1h0m10 0h0m1 0h0m4 0h0m5 0h0" stroke="#3a6fd0" stroke-width="1" stroke-linecap="square" fill="none" transform="translate(.5 .5)"/>
<path d="M445 304h0m2 0h0m1 0h0m3 0h0m6 0h0m2 0h0m-23 1h0m5 0h0m2 0h0m15 0h0m2 0h0m-27 1h0m5 0h0m23 0h0m-28 1h0m1 0h0m29 0h0m-33 1h0m-3 2h0m40 0h0m-40 1h0m1 0h0m1 0h0m38 2h0m-40 1h0m40 0h0m23 0h0m2 0h0m-67 1h0m66 0h0m2 0h0m-25 3h0m25 0h0m-69 1h0m1 0h0m1 0h0m42 0h0m25 0h0m1 0h0m-26 1h0m21 0h0m1 0h0m4 0h0m-69 1h0m44 0h0m21 0h0m2 0h0m-67 1h0m44 0h0m22 0h0m1 0h0m-2 1h0m3 0h0m-69 1h0m65 0h0m1 0h0m2 0h0m-69 1h0m2 0h0m44 0h0m21 0h0m1 0h0m-66 1h0m64 0h0m1 0h0m1 0h0m-1 1h0m2 0h0m-3 1h0m1 0h0m1 0h0m1 0h0m1 1h0m-69 1h0m67 0h0m1 1h0m-22 1h0m1 0h0m-48 3h0m51 0h0m-3 1h0m1 0h0m4 0h0m16 0h0m-70 1h0m1 0h0m53 0h0m1 0h0m2 0h0m13 0h0m-70 1h0m56 0h0m1 0h0m10 0h0m4 0h0m-16 1h0m-1 1h0m13 0h0m-71 1h0m2 0h0m58 0h0m2 0h0m11 0h0m-72 1h0m1 0h0m61 0h0m10 0h0m-73 1h0m66 0h0m-67 1h0m69 0h0m1 0h0m-3 1h0m-69 3h0m1 0h0m68 0h0m2 1h0m4 0h0m-4 1h0m1 1h0m2 0h0m-2 1h0m1 0h0m-1 1h0m-72 1h0m-1 1h0m1 0h0m72 0h0m1 0h0m-74 1h0m71 1h0m2 0h0m-73 1h0m0 1h0m0 1h0m2 0h0m68 0h0m2 1h0m-72 1h0m68 1h0m4 0h0m-70 1h0m1 0h0m1 1h0m63 0h0m3 0h0m-65 1h0m61 0h0m-63 1h0m1 0h0m60 0h0m1 0h0m-60 2h0m1 0h0m1 0h0m53 1h0m-50 1h0m49 0h0m1 0h0m-50 1h0m1 0h0m0 1h0m3 1h0m43 0h0m-42 1h0m1 0h0m3 0h0m1 0h0m30 0h0m-33 1h0m1 0h0m7 0h0m1 0h0m21 0h0m3 0h0m-24 1h0m5 0h0m3 0h0m4 0h0m9 0h0m1 0h0" stroke="#6f8fd8" stroke-width="1" stroke-linecap="square" fill="none" transform="translate(.5 .5)"/>
<path d="M444 304h0m2 0h0m3 0h0m13 1h0m-23 1h0m1 0h0m-9 2h0m1 0h0m32 0h0m-36 2h0m40 2h0m-41 1h0m64 0h0m-65 1h0m43 0h0m-43 1h0m42 0h0m21 0h0m5 0h0m-25 1h0m24 0h0m-4 1h0m5 0h0m-25 1h0m20 0h0m1 0h0m-1 1h0m3 0h0m-67 1h0m68 0h0m-25 1h0m22 1h0m-66 1h0m1 0h0m69 0h0m-1 2h0m-69 1h0m69 0h0m-24 1h0m-47 1h0m2 0h0m45 0h0m25 0h0m-70 1h0m45 0h0m21 0h0m2 0h0m-23 1h0m20 0h0m-67 2h0m69 0h0m-69 1h0m69 0h0m-70 1h0m1 0h0m48 0h0m20 0h0m3 0h0m-21 1h0m1 0h0m19 0h0m1 0h0m-71 1h0m1 0h0m50 0h0m2 0h0m18 0h0m-20 1h0m-52 1h0m52 0h0m2 0h0m1 0h0m-1 1h0m7 0h0m11 0h0m-72 1h0m58 0h0m1 0h0m10 0h0m2 0h0m-8 1h0m6 0h0m-11 1h0m-60 1h0m-1 1h0m64 0h0m2 0h0m-67 1h0m-1 1h0m69 0h0m3 0h0m-3 1h0m5 1h0m-3 1h0m-72 1h0m0 2h0m71 0h0m4 0h0m-2 1h0m-74 1h0m71 1h0m1 0h0m1 1h0m2 0h0m-76 2h0m72 3h0m-2 1h0m-2 1h0m-2 2h0m1 0h0m5 0h0m-2 1h0m-64 1h0m56 4h0m-51 2h0m2 1h0m3 0h0m3 1h0m2 1h0m2 0h0m6 0h0m1 0h0m15 0h0m2 0h0m3 0h0m-25 1h0m5 0h0m6 0h0m4 0h0m1 0h0m1 0h0" stroke="#a8b8e4" stroke-width="1" stroke-linecap="square" fill="none" transform="translate(.5 .5)"/>
<path d="M445 305h0m1 0h0m2 0h0m1 0h0m1 0h0m-8 1h0m3 0h0m2 0h0m1 0h0m4 0h0m3 0h0m1 0h0m1 0h0m1 0h0m-19 1h0m1 0h0m1 0h0m1 0h0m17 0h0m-26 1h0m2 0h0m1 0h0m2 0h0m1 0h0m1 0h0m21 0h0m1 0h0m-30 1h0m2 0h0m3 0h0m1 0h0m1 0h0m-9 1h0m3 0h0m3 0h0m1 0h0m1 0h0m26 0h0m-34 1h0m3 0h0m2 0h0m30 0h0m-35 1h0m1 0h0m34 0h0m-36 1h0m1 0h0m1 0h0m1 0h0m3 0h0m1 0h0m30 0h0m-38 1h0m1 0h0m2 0h0m1 0h0m1 0h0m1 0h0m1 0h0m1 0h0m-8 1h0m5 0h0m1 0h0m1 0h0m32 0h0m-39 1h0m2 0h0m2 0h0m2 0h0m33 0h0m-40 1h0m2 0h0m2 0h0m1 0h0m-4 1h0m2 0h0m4 0h0m1 0h0m-7 1h0m2 0h0m1 0h0m4 0h0m-7 1h0m1 0h0m2 0h0m1 0h0m-1 1h0m1 0h0m-6 1h0m1 0h0m2 0h0m6 0h0m-8 1h0m1 0h0m1 0h0m1 0h0m1 0h0m1 0h0m2 0h0m1 0h0m33 0h0m-41 1h0m6 0h0m1 0h0m33 0h0m1 0h0m-40 1h0m2 0h0m2 0h0m2 0h0m34 0h0m-42 1h0m4 0h0m1 0h0m2 0h0m1 0h0m1 0h0m32 0h0m1 0h0m-40 1h0m1 0h0m5 0h0m34 0h0m-37 1h0m1 0h0m3 0h0m33 0h0m-42 1h0m2 0h0m4 0h0m1 0h0m35 0h0m-43 1h0m2 0h0m3 0h0m1 0h0m4 0h0m-10 1h0m1 0h0m2 0h0m4 0h0m1 0h0m1 0h0m1 0h0m32 0h0m-42 1h0m1 0h0m1 0h0m5 0h0m1 0h0m2 0h0m32 0h0m1 0h0m-44 1h0m1 0h0m1 0h0m2 0h0m6 0h0m1 0h0m33 0h0m-44 1h0m1 0h0m1 0h0m1 0h0m1 0h0m5 0h0m34 0h0m1 0h0m-43 1h0m3 0h0m41 0h0m-45 1h0m1 0h0m1 0h0m1 0h0m40 0h0m-43 1h0m2 0h0m43 0h0m-44 1h0m44 0h0m3 0h0m-49 1h0m1 0h0m46 0h0m2 0h0m1 0h0m-51 1h0m51 0h0m0 1h0m2 0h0m1 0h0m1 0h0m-3 1h0m2 0h0m1 0h0m-56 1h0m58 0h0m1 0h0m-61 1h0m58 0h0m2 0h0m1 0h0m1 0h0m-62 1h0m62 0h0m-63 1h0m1 0h0m60 0h0m3 0h0m-64 1h0m64 0h0m-1 1h0m0 1h0m1 0h0m1 0h0m1 0h0m-3 1h0m3 0h0m-2 1h0m2 0h0m-68 1h0m66 0h0m3 0h0m-69 1h0m66 0h0m1 0h0m1 0h0m1 0h0m-2 1h0m-66 1h0m65 0h0m2 0h0m-68 1h0m67 0h0m-67 1h0m66 0h0m1 0h0m-67 1h0m1 0h0m66 0h0m-66 1h0m1 0h0m64 0h0m-1 1h0m1 0h0m1 0h0m-65 1h0m61 0h0m2 0h0m-64 1h0m1 0h0m60 0h0m3 0h0m-63 1h0m61 0h0m-3 1h0m-57 1h0m58 0h0m1 0h0m-58 2h0m1 0h0m52 0h0m1 0h0m1 0h0m-53 1h0m53 0h0m-51 1h0m50 0h0m-51 1h0m2 0h0m1 1h0m1 0h0m42 0h0m3 0h0m-43 1h0m-1 1h0m2 0h0m4 0h0m2 0h0m1 0h0m28 0h0m1 0h0m1 0h0m1 0h0m-37 1h0m1 0h0m1 0h0m1 0h0m2 0h0m1 0h0m1 0h0m2 0h0m2 0h0m1 0h0m1 0h0m18 0h0m3 0h0m1 0h0m-29 1h0m3 0h0m1 0h0m3 0h0m4 0h0m4 0h0m3 0h0m6 0h0m-15 1h0m2 0h0m1 0h0m3 0h0m2 0h0m2 0h0m1 0h0" stroke="#2f62c6" stroke-width="1" stroke-linecap="square" fill="none" transform="translate(.5 .5)"/>
<path d="M451 305h0m-8 1h0m1 0h0m2 0h0m7 0h0m1 0h0m6 1h0m1 0h0m-24 1h0m4 0h0m22 0h0m-32 1h0m5 0h0m27 0h0m1 0h0m-29 1h0m-4 1h0m3 0h0m2 0h0m1 0h0m-8 1h0m3 0h0m1 0h0m2 0h0m-2 1h0m1 0h0m31 0h0m-35 1h0m36 0h0m-36 1h0m2 0h0m1 1h0m33 0h0m-38 1h0m2 0h0m3 0h0m1 0h0m32 0h0m1 0h0m-38 1h0m4 0h0m-4 1h0m4 0h0m1 0h0m-7 1h0m6 0h0m1 0h0m1 0h0m-8 1h0m2 0h0m1 0h0m3 0h0m1 0h0m33 0h0m-39 1h0m39 0h0m-41 2h0m2 0h0m1 0h0m1 0h0m2 0h0m3 0h0m-9 1h0m3 0h0m38 0h0m-39 1h0m1 0h0m-3 1h0m1 0h0m3 0h0m1 0h0m1 0h0m1 0h0m2 0h0m-7 1h0m1 0h0m5 0h0m-4 1h0m1 0h0m3 0h0m33 0h0m-39 1h0m4 0h0m1 0h0m35 0h0m-41 1h0m3 0h0m-1 1h0m2 0h0m3 0h0m-7 1h0m3 0h0m2 0h0m1 0h0m34 0h0m-37 1h0m1 0h0m1 0h0m2 0h0m-10 1h0m2 0h0m42 0h0m0 1h0m1 0h0m-2 1h0m1 0h0m2 0h0m-2 1h0m2 0h0m1 0h0m-2 1h0m-46 1h0m49 0h0m2 0h0m-53 1h0m55 2h0m1 0h0m1 0h0m-58 1h0m58 0h0m0 1h0m1 0h0m1 0h0m0 1h0m1 1h0m2 1h0m-65 1h0m-1 1h0m1 0h0m64 0h0m1 0h0m-66 1h0m66 0h0m-66 1h0m66 0h0m1 0h0m-67 1h0m65 1h0m3 0h0m-68 2h0m67 0h0m-67 1h0m64 0h0m0 1h0m2 1h0m-66 1h0m63 0h0m-63 1h0m63 0h0m2 0h0m-63 2h0m58 0h0m3 0h0m-62 1h0m1 0h0m1 1h0m55 0h0m1 0h0m-56 1h0m1 0h0m53 0h0m1 0h0m2 0h0m-55 1h0m54 0h0m-55 1h0m2 0h0m-1 1h0m1 0h0m49 0h0m1 0h0m-2 1h0m1 0h0m1 0h0m-48 1h0m45 0h0m-3 1h0m1 0h0m2 0h0m-37 1h0m2 1h0m4 0h0m2 0h0m22 0h0m1 0h0m-26 1h0m1 0h0m4 0h0m4 0h0m2 0h0m1 0h0m3 0h0m1 0h0m3 0h0m1 0h0m2 0h0m2 0h0m1 0h0m-16 1h0m8 0h0" stroke="#4a80d8" stroke-width="1" stroke-linecap="square" fill="none" transform="translate(.5 .5)"/>
<path d="M447 305h0m5 0h0m-11 1h0m-3 1h0m5 0h0m-9 1h0m1 1h0m-1 3h0m2 0h0m30 3h0m-37 1h0m6 1h0m-8 1h0m4 0h0m1 1h0m35 0h0m-37 1h0m5 1h0m-5 1h0m3 0h0m35 0h0m-37 2h0m-4 1h0m4 0h0m4 0h0m-3 1h0m35 1h0m-40 1h0m6 0h0m34 0h0m-40 1h0m8 0h0m-9 1h0m3 0h0m5 0h0m33 0h0m-36 1h0m37 0h0m-39 3h0m-2 1h0m40 0h0m4 5h0m3 1h0m1 1h0m3 0h0m4 3h0m-63 2h0m61 0h0m0 1h0m2 0h0m-65 1h0m66 6h0m-2 4h0m-3 4h0m0 1h0m-2 2h0m-3 2h0m-49 2h0m2 2h0m1 0h0m1 0h0m3 1h0m1 0h0m3 0h0m26 1h0m-19 1h0m3 0h0m6 0h0m5 0h0m-6 1h0" stroke="#8fb0e6" stroke-width="1" stroke-linecap="square" fill="none" transform="translate(.5 .5)"/>
<g filter="url(#blc4)"><path d="M458.2,375.3 449.2,375.7 434.7,373.9 429.2,372.7 424.7,370.1 421.9,367.3 419,362.8 417.9,358.8 417.9,351.8 420.4,344.8 428.2,334.2 432.7,332.5 433.9,331.3 434.1,318.8 435.5,312.8 437.8,310.3 440.8,308.3 447.7,306.2 453.7,306.2 458.2,306.8 462.2,308.4 464.7,310.9 466,313.8 467,318.8 467.8,337.3 469.2,338.7 475.7,342.5 478.7,344.9 481.4,348.3 482.8,352.3 482.5,356.3 480.8,360.3 478.1,363.8 471.6,370.3 467.2,373.1 462.7,374.6 458.2,375.3Z" fill="#3468c8" fill-rule="evenodd"/><path d="M456.2,374.3 449.7,374.5 440.7,372.6 434.7,372.6 429.7,371.6 425.6,369.3 422.4,365.8 420.2,361.8 419.1,357.3 419,352.8 419.9,348.8 421.4,345.3 424.4,341.3 429.7,337.5 437.2,336.7 438.2,336.1 438.5,333.3 437.8,328.8 437.5,320.8 438.5,314.3 442.2,309.7 448.2,307.4 453.7,307.4 458.2,308.2 461.7,309.7 464,312.3 465.1,315.8 465.9,322.8 466.1,332.3 465.4,335.8 465.6,337.8 466.7,339.3 473.7,343.7 476.6,346.3 478.8,349.3 479.8,352.8 479.6,356.3 478.2,359.8 470.2,369.4 467.2,371.6 464.7,372.6 456.2,374.3Z" fill="#377bd2" fill-rule="evenodd"/><path d="M457.7,372.8 450.2,373.1 441.2,370.7 435.2,371.3 430.2,370.5 426.4,368.3 423.4,364.8 421.4,360.8 420.6,357.3 420.4,352.8 421.3,348.8 422.9,345.3 425.7,341.8 430.7,339.1 435.2,338.8 440.7,339.9 442.3,338.8 442.4,336.8 441,333.8 439.9,328.3 439.6,320.8 440,316.3 440.7,314.3 443.2,311.2 448.2,308.9 453.7,308.9 457.7,309.7 460.7,311.2 462.6,313.3 463.8,319.3 464.2,327.3 464.1,331.8 462.5,338.3 463.8,339.8 467.9,342.3 472.9,346.3 475.5,349.8 476.5,352.8 476.4,355.8 475.4,358.8 469.1,368.3 465.7,370.8 462.2,372.1 457.7,372.8Z" fill="#3a90dc" fill-rule="evenodd"/><path d="M452.7,371.8 449.7,371.7 441.2,368.9 435.2,370.1 430.2,369.3 427.2,367.5 424.1,363.8 422.4,359.8 421.6,355.8 421.8,351.8 422.9,347.8 424.1,345.3 426.7,342.3 430.2,340.4 434.7,340.1 441.7,342.4 443.3,341.8 446.7,339.3 446.8,337.8 443.8,332.3 441.6,321.3 441.5,318.3 441.9,315.8 443.9,312.8 445.2,311.7 448.7,310.3 453.2,310.5 456.7,311.4 459.3,312.8 460.5,314.3 461.4,319.3 461.3,331.3 459.2,336.3 459,338.3 460.4,339.8 466.7,343.3 470.5,346.8 472.9,350.8 473.6,353.8 473.5,356.3 472.5,359.3 467.7,367.7 465.2,369.6 461.7,370.9 452.7,371.8Z" fill="#3babda" fill-rule="evenodd"/><path d="M451.2,322.9 448.7,322.9 446.2,322.1 444.7,320.8 443.8,318.8 443.8,316.8 444.7,314.8 446.2,313.3 448.7,312.3 453.7,313 455.7,314.3 456.8,316.3 456.8,318.3 455.7,320.4 453.7,322 451.2,322.9ZM454.2,370.3 450.2,370.3 445.7,369.2 441.2,367.2 435.2,368.9 432.2,368.6 427.7,366.4 425.2,363.4 424,360.8 422.7,354.8 422.9,351.3 424,347.8 427.1,343.3 430.2,341.6 434.7,341.3 440.2,343.9 442.2,344.2 450.2,340.4 454.7,340.4 461.7,342.2 465.2,344.1 467.1,345.8 469.9,349.8 471.1,354.3 470.5,358.8 468.1,364.3 466.7,366.5 464.2,368.3 461.2,369.4 454.2,370.3Z" fill="#3cc4d8" fill-rule="evenodd"/><path d="M450.7,318.9 449.2,319 447.8,318.3 447.4,316.8 448,315.8 449.7,315.2 451.7,316 452,317.8 450.7,318.9ZM456.2,368.3 449.2,368.4 441.2,365.7 434.7,367.5 431.7,367.1 428.9,365.8 426.1,362.8 423.9,357.3 423.8,351.8 425.5,346.8 428.2,343.9 430.7,342.7 432.7,342.5 435.7,342.9 441.7,345.7 448.7,343.1 452.2,342.5 459.2,343.2 464.2,345.2 467.3,348.3 468.8,351.8 469.2,355.8 468.4,359.8 466.7,363.4 464.7,365.7 460.7,367.5 456.2,368.3Z" fill="#41bc99" fill-rule="evenodd"/><path d="M453.2,365.8 447.7,365.7 441.7,363.6 434.7,365.2 431.7,364.9 429.2,363.8 426.5,360.8 424.9,356.3 424.9,351.8 426.8,347.3 429.2,345.1 432.7,344.2 436.2,344.9 441.7,347.8 447.7,345.8 452.7,345.1 458.7,345.6 463.2,347.3 465.4,349.3 467,352.8 467.2,356.3 466,359.8 464.2,362.1 461.7,363.7 457.7,365.1 453.2,365.8Z" fill="#46b661" fill-rule="evenodd"/><path d="M452.2,362.8 447.2,362.5 441.7,360.9 434.2,362.4 430.2,361.6 428,359.8 426.6,356.8 426.3,353.3 427.2,350.1 429.7,347.4 432.7,346.6 435.7,347.2 441.7,350.5 448.2,348.5 452.7,347.9 457.7,348.5 461.5,350.3 463.3,352.3 464,354.3 463.8,356.3 462.7,358.3 458.2,361.4 452.2,362.8Z" fill="#73c23c" fill-rule="evenodd"/><path d="M434.7,359.4 431.2,359.2 429.7,358.1 428.6,356.3 428.6,352.3 429.7,350.6 431.2,349.5 433.2,349.3 435.7,350.3 440.3,355.3 437.8,357.8 434.7,359.4ZM452.2,360.8 448.2,360.7 445.2,359.7 442,357.3 440.7,355.3 444.9,351.8 449.2,350 454.2,349.8 458.6,351.3 460.6,353.8 460.2,356.8 457.2,359.4 452.2,360.8Z" fill="#bbd628" fill-rule="evenodd"/><path d="M453.2,359.4 449.2,359.4 446.2,358.3 444.5,356.3 445.1,353.8 447.2,352.1 450.7,351 454.2,351.1 457.1,352.3 458.5,354.3 458.2,356.3 456.2,358.2 453.2,359.4Z" fill="#f2e31e" fill-rule="evenodd"/><path d="M452.7,358.4 450.2,358.5 447.7,357.7 446.4,356.3 446.6,354.3 448.2,352.9 450.7,352.1 453.2,352 455.4,352.8 456.7,354.3 456.7,355.8 455.2,357.4 452.7,358.4Z" fill="#f3af1f" fill-rule="evenodd"/><path d="M452.7,357.4 449.2,357.2 448.1,356.3 447.9,354.8 448.8,353.8 450.7,353 454.2,353.5 455.1,354.3 455.1,355.8 452.7,357.4Z" fill="#ed731b" fill-rule="evenodd"/><path d="M452.2,355.8 450.7,355.8 450.3,355.3 450.7,354.7 452.2,354.6 452.8,355.3 452.2,355.8Z" fill="#e22514" fill-rule="evenodd"/></g>
</g>
<text x="7.00" y="16.10" font-size="10.7" font-weight="bold" fill="#000">A</text>
<text x="203.80" y="16.20" font-size="10.7" font-weight="bold" fill="#000">B</text>
<text x="203.60" y="147.30" font-size="10.7" font-weight="bold" fill="#000">C</text>
<text x="69.50" y="41.20" font-size="7.9" fill="#2a2a2a" textLength="91.6" lengthAdjust="spacingAndGlyphs">C57BL/6 WT Mouse BM</text>
<text x="74.80" y="231.80" font-size="7.9" fill="#2a2a2a" textLength="81.5" lengthAdjust="spacingAndGlyphs">RAG1- KO Mouse BM</text>
<circle cx="290.0" cy="43.2" r="10.4" fill="#f6c11b" stroke="#3a3030" stroke-width="0.8"/>
<ellipse cx="288.40" cy="46.20" rx="4.4" ry="4.4" fill="#ee8a3a" stroke="#3a3030" stroke-width="0.6"/>
<circle cx="318.5" cy="43.2" r="10.4" fill="#ef7b35" stroke="#3a3030" stroke-width="0.8"/>
<ellipse cx="316.90" cy="44.60" rx="4.8" ry="4.8" fill="#e22019" stroke="#3a3030" stroke-width="0.6"/>
<circle cx="347.3" cy="43.2" r="10.4" fill="#c56db5" stroke="#3a3030" stroke-width="0.8"/>
<ellipse cx="344.40" cy="44.60" rx="6.6" ry="6.6" fill="#1d7fb4" stroke="#3a3030" stroke-width="0.6"/>
<circle cx="375.6" cy="43.2" r="10.4" fill="#1d5c9e" stroke="#3a3030" stroke-width="0.8"/>
<ellipse cx="373.80" cy="44.70" rx="6.6" ry="6.6" fill="#5b9ad6" stroke="#3a3030" stroke-width="0.6"/>
<circle cx="404.0" cy="43.2" r="10.4" fill="#6c6f73" stroke="#3a3030" stroke-width="0.8"/>
<ellipse cx="402.00" cy="44.70" rx="6.8" ry="7.0" fill="#b2d1ef" stroke="#3a3030" stroke-width="0.6"/>
<circle cx="432.1" cy="43.2" r="10.4" fill="#6c6f73" stroke="#3a3030" stroke-width="0.8"/>
<ellipse cx="430.20" cy="43.20" rx="6.2" ry="7.2" fill="#b6d6f2" stroke="#3a3030" stroke-width="0.6"/>
<circle cx="461.0" cy="43.2" r="10.4" fill="#80186e" stroke="#3a3030" stroke-width="0.8"/>
<ellipse cx="459.00" cy="44.70" rx="6.9" ry="7.2" fill="#d99bd0" stroke="#3a3030" stroke-width="0.6"/>
<circle cx="488.8" cy="43.2" r="10.4" fill="#80186e" stroke="#3a3030" stroke-width="0.8"/>
<ellipse cx="486.80" cy="44.70" rx="6.9" ry="7.2" fill="#d99bd0" stroke="#3a3030" stroke-width="0.6"/>
<text x="290.10" y="25.90" font-size="6.4" text-anchor="middle" fill="#333" stroke="#333" stroke-width="0.06" textLength="12.2" lengthAdjust="spacingAndGlyphs">CLP</text>
<text x="318.60" y="25.90" font-size="6.4" text-anchor="middle" fill="#333" stroke="#333" stroke-width="0.06" textLength="26.5" lengthAdjust="spacingAndGlyphs">Pre-Pro-B</text>
<text x="347.20" y="25.90" font-size="6.4" text-anchor="middle" fill="#333" stroke="#333" stroke-width="0.06" textLength="12.8" lengthAdjust="spacingAndGlyphs">ProB</text>
<text x="375.60" y="22.10" font-size="6.4" text-anchor="middle" fill="#333" stroke="#333" stroke-width="0.06" textLength="10.8" lengthAdjust="spacingAndGlyphs">Late</text>
<text x="375.80" y="29.40" font-size="6.4" text-anchor="middle" fill="#333" stroke="#333" stroke-width="0.06" textLength="29.5" lengthAdjust="spacingAndGlyphs">ProB/PreB</text>
<text x="404.10" y="22.10" font-size="6.4" text-anchor="middle" fill="#333" stroke="#333" stroke-width="0.06" textLength="15.2" lengthAdjust="spacingAndGlyphs">Large</text>
<text x="404.30" y="29.40" font-size="6.4" text-anchor="middle" fill="#333" stroke="#333" stroke-width="0.06" textLength="14.8" lengthAdjust="spacingAndGlyphs">Pre-B</text>
<text x="432.40" y="22.10" font-size="6.4" text-anchor="middle" fill="#333" stroke="#333" stroke-width="0.06" textLength="14.8" lengthAdjust="spacingAndGlyphs">Small</text>
<text x="432.50" y="29.40" font-size="6.4" text-anchor="middle" fill="#333" stroke="#333" stroke-width="0.06" textLength="15.0" lengthAdjust="spacingAndGlyphs">Pre-B</text>
<text x="461.00" y="25.90" font-size="6.4" text-anchor="middle" fill="#333" stroke="#333" stroke-width="0.06" textLength="28.9" lengthAdjust="spacingAndGlyphs">ImmatureB</text>
<text x="489.30" y="25.90" font-size="6.4" text-anchor="middle" fill="#333" stroke="#333" stroke-width="0.06" textLength="22.1" lengthAdjust="spacingAndGlyphs">MatureB</text>
<line x1="220.00" y1="59.50" x2="505.00" y2="59.50" stroke="#4a4a4a" stroke-width="1.0"/>
<line x1="220.00" y1="69.50" x2="505.00" y2="69.50" stroke="#4a4a4a" stroke-width="1.0"/>
<line x1="220.00" y1="80.50" x2="505.00" y2="80.50" stroke="#4a4a4a" stroke-width="1.0"/>
<line x1="220.00" y1="90.50" x2="505.00" y2="90.50" stroke="#4a4a4a" stroke-width="1.0"/>
<line x1="220.00" y1="100.50" x2="505.00" y2="100.50" stroke="#4a4a4a" stroke-width="1.0"/>
<line x1="220.00" y1="111.50" x2="505.00" y2="111.50" stroke="#4a4a4a" stroke-width="1.0"/>
<line x1="220.00" y1="128.50" x2="505.00" y2="128.50" stroke="#4a4a4a" stroke-width="1.0"/>
<line x1="220.50" y1="59.50" x2="220.50" y2="128.50" stroke="#4a4a4a" stroke-width="1.0"/>
<line x1="273.50" y1="59.50" x2="273.50" y2="128.50" stroke="#4a4a4a" stroke-width="1.0"/>
<line x1="302.50" y1="59.50" x2="302.50" y2="128.50" stroke="#4a4a4a" stroke-width="1.0"/>
<line x1="331.50" y1="59.50" x2="331.50" y2="128.50" stroke="#4a4a4a" stroke-width="1.0"/>
<line x1="360.50" y1="59.50" x2="360.50" y2="128.50" stroke="#4a4a4a" stroke-width="1.0"/>
<line x1="389.50" y1="59.50" x2="389.50" y2="128.50" stroke="#4a4a4a" stroke-width="1.0"/>
<line x1="418.50" y1="59.50" x2="418.50" y2="128.50" stroke="#4a4a4a" stroke-width="1.0"/>
<line x1="446.50" y1="59.50" x2="446.50" y2="128.50" stroke="#4a4a4a" stroke-width="1.0"/>
<line x1="475.50" y1="59.50" x2="475.50" y2="128.50" stroke="#4a4a4a" stroke-width="1.0"/>
<line x1="504.50" y1="59.50" x2="504.50" y2="128.50" stroke="#4a4a4a" stroke-width="1.0"/>
<text x="223.90" y="66.30" font-size="6.0" fill="#333" stroke="#333" stroke-width="0.1">Hardy Fraction</text>
<text x="317.00" y="66.30" font-size="6.0" text-anchor="middle" fill="#333" stroke="#333" stroke-width="0.1">A</text>
<text x="346.00" y="66.30" font-size="6.0" text-anchor="middle" fill="#333" stroke="#333" stroke-width="0.1">B</text>
<text x="375.00" y="66.30" font-size="6.0" text-anchor="middle" fill="#333" stroke="#333" stroke-width="0.1">C</text>
<text x="404.00" y="66.30" font-size="6.0" text-anchor="middle" fill="#333" stroke="#333" stroke-width="0.1">C'</text>
<text x="432.50" y="66.30" font-size="6.0" text-anchor="middle" fill="#333" stroke="#333" stroke-width="0.1">D</text>
<text x="461.00" y="66.30" font-size="6.0" text-anchor="middle" fill="#333" stroke="#333" stroke-width="0.1">E</text>
<text x="490.00" y="66.30" font-size="6.0" text-anchor="middle" fill="#333" stroke="#333" stroke-width="0.1">F</text>
<text x="223.90" y="76.30" font-size="6.0" fill="#333" stroke="#333" stroke-width="0.1">B220</text>
<path d="M286.40 75.00h3.2" stroke="#444" stroke-width="0.85" fill="none"/>
<path d="M315.60 75.00h2.8M317.00 73.60v2.8" stroke="#3a3a3a" stroke-width="1.0" fill="none"/>
<path d="M344.60 75.00h2.8M346.00 73.60v2.8" stroke="#3a3a3a" stroke-width="1.0" fill="none"/>
<path d="M373.60 75.00h2.8M375.00 73.60v2.8" stroke="#3a3a3a" stroke-width="1.0" fill="none"/>
<path d="M402.60 75.00h2.8M404.00 73.60v2.8" stroke="#3a3a3a" stroke-width="1.0" fill="none"/>
<path d="M431.10 75.00h2.8M432.50 73.60v2.8" stroke="#3a3a3a" stroke-width="1.0" fill="none"/>
<path d="M459.60 75.00h2.8M461.00 73.60v2.8" stroke="#3a3a3a" stroke-width="1.0" fill="none"/>
<path d="M488.60 75.00h2.8M490.00 73.60v2.8" stroke="#3a3a3a" stroke-width="1.0" fill="none"/>
<text x="223.90" y="87.30" font-size="6.0" fill="#333" stroke="#333" stroke-width="0.1">CD19</text>
<path d="M286.40 85.50h3.2" stroke="#444" stroke-width="0.85" fill="none"/>
<path d="M315.40 85.50h3.2" stroke="#444" stroke-width="0.85" fill="none"/>
<path d="M344.60 85.50h2.8M346.00 84.10v2.8" stroke="#3a3a3a" stroke-width="1.0" fill="none"/>
<path d="M373.60 85.50h2.8M375.00 84.10v2.8" stroke="#3a3a3a" stroke-width="1.0" fill="none"/>
<path d="M402.60 85.50h2.8M404.00 84.10v2.8" stroke="#3a3a3a" stroke-width="1.0" fill="none"/>
<path d="M431.10 85.50h2.8M432.50 84.10v2.8" stroke="#3a3a3a" stroke-width="1.0" fill="none"/>
<path d="M459.60 85.50h2.8M461.00 84.10v2.8" stroke="#3a3a3a" stroke-width="1.0" fill="none"/>
<path d="M488.60 85.50h2.8M490.00 84.10v2.8" stroke="#3a3a3a" stroke-width="1.0" fill="none"/>
<text x="223.90" y="97.30" font-size="6.0" fill="#333" stroke="#333" stroke-width="0.1">CD43</text>
<path d="M286.60 95.50h2.8M288.00 94.10v2.8" stroke="#3a3a3a" stroke-width="1.0" fill="none"/>
<path d="M315.60 95.50h2.8M317.00 94.10v2.8" stroke="#3a3a3a" stroke-width="1.0" fill="none"/>
<path d="M344.60 95.50h2.8M346.00 94.10v2.8" stroke="#3a3a3a" stroke-width="1.0" fill="none"/>
<path d="M373.60 95.50h2.8M375.00 94.10v2.8" stroke="#3a3a3a" stroke-width="1.0" fill="none"/>
<path d="M402.60 95.50h2.8M404.00 94.10v2.8" stroke="#3a3a3a" stroke-width="1.0" fill="none"/>
<path d="M430.90 95.50h3.2" stroke="#444" stroke-width="0.85" fill="none"/>
<path d="M459.40 95.50h3.2" stroke="#444" stroke-width="0.85" fill="none"/>
<path d="M488.40 95.50h3.2" stroke="#444" stroke-width="0.85" fill="none"/>
<text x="223.90" y="107.30" font-size="6.0" fill="#333" stroke="#333" stroke-width="0.1">KIT</text>
<path d="M286.60 106.00h2.8M288.00 104.60v2.8" stroke="#3a3a3a" stroke-width="1.0" fill="none"/>
<path d="M315.60 106.00h2.8M317.00 104.60v2.8" stroke="#3a3a3a" stroke-width="1.0" fill="none"/>
<path d="M344.60 106.00h2.8M346.00 104.60v2.8" stroke="#3a3a3a" stroke-width="1.0" fill="none"/>
<path d="M373.40 106.00h3.2" stroke="#444" stroke-width="0.85" fill="none"/>
<path d="M402.40 106.00h3.2" stroke="#444" stroke-width="0.85" fill="none"/>
<path d="M430.90 106.00h3.2" stroke="#444" stroke-width="0.85" fill="none"/>
<path d="M459.40 106.00h3.2" stroke="#444" stroke-width="0.85" fill="none"/>
<path d="M488.40 106.00h3.2" stroke="#444" stroke-width="0.85" fill="none"/>
<text x="223.90" y="119.00" font-size="6.0" fill="#333" stroke="#333" stroke-width="0.1">IgH VDJ</text>
<text x="223.90" y="126.30" font-size="6.0" fill="#333" stroke="#333" stroke-width="0.1" textLength="39.8" lengthAdjust="spacingAndGlyphs">Recombination</text>
<text x="288.00" y="119.00" font-size="6.0" text-anchor="middle" fill="#333" stroke="#333" stroke-width="0.1">GL</text>
<text x="317.00" y="119.00" font-size="6.0" text-anchor="middle" fill="#333" stroke="#333" stroke-width="0.1">GL</text>
<text x="346.00" y="119.00" font-size="6.0" text-anchor="middle" fill="#333" stroke="#333" stroke-width="0.1">DJ</text>
<text x="375.00" y="119.00" font-size="6.0" text-anchor="middle" fill="#333" stroke="#333" stroke-width="0.1">V-&gt;DJ</text>
<text x="404.00" y="119.00" font-size="6.0" text-anchor="middle" fill="#333" stroke="#333" stroke-width="0.1">VDJ</text>
<text x="432.50" y="119.00" font-size="6.0" text-anchor="middle" fill="#333" stroke="#333" stroke-width="0.1">VDJ</text>
<text x="461.00" y="119.00" font-size="6.0" text-anchor="middle" fill="#333" stroke="#333" stroke-width="0.1">VDJ</text>
<text x="490.00" y="119.00" font-size="6.0" text-anchor="middle" fill="#333" stroke="#333" stroke-width="0.1">VDJ</text>
<rect x="44.20" y="45.80" width="142.20" height="142.40" fill="none" stroke="#111" stroke-width="1.2"/>
<text x="35.59" y="48.10" font-size="6.3" text-anchor="end" fill="#333" stroke="#333" stroke-width="0.12">10</text>
<text x="35.89" y="44.95" font-size="4.16" fill="#333" stroke="#333" stroke-width="0.1">6</text>
<line x1="41.80" y1="46.00" x2="44.20" y2="46.00" stroke="#111" stroke-width="0.9"/>
<text x="35.59" y="76.60" font-size="6.3" text-anchor="end" fill="#333" stroke="#333" stroke-width="0.12">10</text>
<text x="35.89" y="73.45" font-size="4.16" fill="#333" stroke="#333" stroke-width="0.1">5</text>
<line x1="41.80" y1="74.50" x2="44.20" y2="74.50" stroke="#111" stroke-width="0.9"/>
<text x="35.59" y="106.10" font-size="6.3" text-anchor="end" fill="#333" stroke="#333" stroke-width="0.12">10</text>
<text x="35.89" y="102.95" font-size="4.16" fill="#333" stroke="#333" stroke-width="0.1">4</text>
<line x1="41.80" y1="104.00" x2="44.20" y2="104.00" stroke="#111" stroke-width="0.9"/>
<text x="35.59" y="141.60" font-size="6.3" text-anchor="end" fill="#333" stroke="#333" stroke-width="0.12">10</text>
<text x="35.89" y="138.45" font-size="4.16" fill="#333" stroke="#333" stroke-width="0.1">3</text>
<line x1="41.80" y1="139.50" x2="44.20" y2="139.50" stroke="#111" stroke-width="0.9"/>
<text x="37.70" y="162.10" font-size="6.3" text-anchor="end" fill="#333" stroke="#333" stroke-width="0.12">0</text>
<rect x="42.20" y="158.00" width="2.00" height="4.00" fill="#111"/>
<line x1="41.80" y1="160.00" x2="44.20" y2="160.00" stroke="#111" stroke-width="0.9"/>
<text x="35.59" y="182.10" font-size="6.3" text-anchor="end" fill="#333" stroke="#333" stroke-width="0.12">−10</text>
<text x="35.89" y="178.95" font-size="4.16" fill="#333" stroke="#333" stroke-width="0.1">3</text>
<line x1="41.80" y1="180.00" x2="44.20" y2="180.00" stroke="#111" stroke-width="0.9"/>
<text x="45.20" y="199.20" font-size="6.0" text-anchor="middle" fill="#333" stroke="#333" stroke-width="0.12">−10</text>
<text x="50.59" y="196.20" font-size="3.96" fill="#333" stroke="#333" stroke-width="0.1">3</text>
<line x1="45.80" y1="188.20" x2="45.80" y2="190.60" stroke="#111" stroke-width="0.9"/>
<text x="72.50" y="199.20" font-size="6.0" text-anchor="middle" fill="#333" stroke="#333" stroke-width="0.12">0</text>
<rect x="66.80" y="188.20" width="3.00" height="2.40" fill="#111"/>
<line x1="72.50" y1="188.20" x2="72.50" y2="190.60" stroke="#111" stroke-width="0.9"/>
<text x="92.90" y="199.20" font-size="6.0" text-anchor="middle" fill="#333" stroke="#333" stroke-width="0.12">10</text>
<text x="96.54" y="196.20" font-size="3.96" fill="#333" stroke="#333" stroke-width="0.1">3</text>
<line x1="93.50" y1="188.20" x2="93.50" y2="190.60" stroke="#111" stroke-width="0.9"/>
<text x="126.70" y="199.20" font-size="6.0" text-anchor="middle" fill="#333" stroke="#333" stroke-width="0.12">10</text>
<text x="130.34" y="196.20" font-size="3.96" fill="#333" stroke="#333" stroke-width="0.1">4</text>
<line x1="127.30" y1="188.20" x2="127.30" y2="190.60" stroke="#111" stroke-width="0.9"/>
<text x="155.90" y="199.20" font-size="6.0" text-anchor="middle" fill="#333" stroke="#333" stroke-width="0.12">10</text>
<text x="159.54" y="196.20" font-size="3.96" fill="#333" stroke="#333" stroke-width="0.1">5</text>
<line x1="156.50" y1="188.20" x2="156.50" y2="190.60" stroke="#111" stroke-width="0.9"/>
<text x="184.60" y="199.20" font-size="6.0" text-anchor="middle" fill="#333" stroke="#333" stroke-width="0.12">10</text>
<text x="188.24" y="196.20" font-size="3.96" fill="#333" stroke="#333" stroke-width="0.1">6</text>
<line x1="185.20" y1="188.20" x2="185.20" y2="190.60" stroke="#111" stroke-width="0.9"/>
<rect x="44.20" y="236.90" width="142.20" height="142.10" fill="none" stroke="#111" stroke-width="1.2"/>
<text x="35.59" y="239.40" font-size="6.3" text-anchor="end" fill="#333" stroke="#333" stroke-width="0.12">10</text>
<text x="35.89" y="236.25" font-size="4.16" fill="#333" stroke="#333" stroke-width="0.1">6</text>
<line x1="41.80" y1="237.30" x2="44.20" y2="237.30" stroke="#111" stroke-width="0.9"/>
<text x="35.59" y="267.60" font-size="6.3" text-anchor="end" fill="#333" stroke="#333" stroke-width="0.12">10</text>
<text x="35.89" y="264.45" font-size="4.16" fill="#333" stroke="#333" stroke-width="0.1">5</text>
<line x1="41.80" y1="265.50" x2="44.20" y2="265.50" stroke="#111" stroke-width="0.9"/>
<text x="35.59" y="297.10" font-size="6.3" text-anchor="end" fill="#333" stroke="#333" stroke-width="0.12">10</text>
<text x="35.89" y="293.95" font-size="4.16" fill="#333" stroke="#333" stroke-width="0.1">4</text>
<line x1="41.80" y1="295.00" x2="44.20" y2="295.00" stroke="#111" stroke-width="0.9"/>
<text x="35.59" y="332.60" font-size="6.3" text-anchor="end" fill="#333" stroke="#333" stroke-width="0.12">10</text>
<text x="35.89" y="329.45" font-size="4.16" fill="#333" stroke="#333" stroke-width="0.1">3</text>
<line x1="41.80" y1="330.50" x2="44.20" y2="330.50" stroke="#111" stroke-width="0.9"/>
<text x="37.70" y="353.10" font-size="6.3" text-anchor="end" fill="#333" stroke="#333" stroke-width="0.12">0</text>
<rect x="42.20" y="349.00" width="2.00" height="4.00" fill="#111"/>
<line x1="41.80" y1="351.00" x2="44.20" y2="351.00" stroke="#111" stroke-width="0.9"/>
<text x="35.59" y="373.10" font-size="6.3" text-anchor="end" fill="#333" stroke="#333" stroke-width="0.12">−10</text>
<text x="35.89" y="369.95" font-size="4.16" fill="#333" stroke="#333" stroke-width="0.1">3</text>
<line x1="41.80" y1="371.00" x2="44.20" y2="371.00" stroke="#111" stroke-width="0.9"/>
<text x="45.20" y="390.00" font-size="6.0" text-anchor="middle" fill="#333" stroke="#333" stroke-width="0.12">−10</text>
<text x="50.59" y="387.00" font-size="3.96" fill="#333" stroke="#333" stroke-width="0.1">3</text>
<line x1="45.80" y1="379.00" x2="45.80" y2="381.40" stroke="#111" stroke-width="0.9"/>
<text x="72.50" y="390.00" font-size="6.0" text-anchor="middle" fill="#333" stroke="#333" stroke-width="0.12">0</text>
<rect x="66.80" y="379.00" width="3.00" height="2.40" fill="#111"/>
<line x1="72.50" y1="379.00" x2="72.50" y2="381.40" stroke="#111" stroke-width="0.9"/>
<text x="92.90" y="390.00" font-size="6.0" text-anchor="middle" fill="#333" stroke="#333" stroke-width="0.12">10</text>
<text x="96.54" y="387.00" font-size="3.96" fill="#333" stroke="#333" stroke-width="0.1">3</text>
<line x1="93.50" y1="379.00" x2="93.50" y2="381.40" stroke="#111" stroke-width="0.9"/>
<text x="126.70" y="390.00" font-size="6.0" text-anchor="middle" fill="#333" stroke="#333" stroke-width="0.12">10</text>
<text x="130.34" y="387.00" font-size="3.96" fill="#333" stroke="#333" stroke-width="0.1">4</text>
<line x1="127.30" y1="379.00" x2="127.30" y2="381.40" stroke="#111" stroke-width="0.9"/>
<text x="155.90" y="390.00" font-size="6.0" text-anchor="middle" fill="#333" stroke="#333" stroke-width="0.12">10</text>
<text x="159.54" y="387.00" font-size="3.96" fill="#333" stroke="#333" stroke-width="0.1">5</text>
<line x1="156.50" y1="379.00" x2="156.50" y2="381.40" stroke="#111" stroke-width="0.9"/>
<text x="184.60" y="390.00" font-size="6.0" text-anchor="middle" fill="#333" stroke="#333" stroke-width="0.12">10</text>
<text x="188.24" y="387.00" font-size="3.96" fill="#333" stroke="#333" stroke-width="0.1">6</text>
<line x1="185.20" y1="379.00" x2="185.20" y2="381.40" stroke="#111" stroke-width="0.9"/>
<path d="M42.80 128.81H44.20M42.80 122.56H44.20M42.80 118.13H44.20M42.80 114.69H44.20M42.80 111.88H44.20M42.80 109.50H44.20M42.80 107.44H44.20M42.80 105.62H44.20M42.80 95.12H44.20M42.80 89.92H44.20M42.80 86.24H44.20M42.80 83.38H44.20M42.80 81.04H44.20M42.80 79.07H44.20M42.80 77.36H44.20M42.80 75.85H44.20M42.80 65.92H44.20M42.80 60.90H44.20M42.80 57.34H44.20M42.80 54.58H44.20M42.80 52.32H44.20M42.80 50.41H44.20M42.80 48.76H44.20M42.80 47.30H44.20" stroke="#111" stroke-width="0.6" fill="none"/>
<path d="M45.80 188.20V189.80M48.50 188.20V189.80M51.20 188.20V189.80M53.90 188.20V189.80M56.60 188.20V189.80M59.30 188.20V189.80M62.00 188.20V189.80M64.70 188.20V189.80M67.40 188.20V189.80M70.10 188.20V189.80M72.80 188.20V189.80M75.50 188.20V189.80M78.20 188.20V189.80M80.90 188.20V189.80M83.60 188.20V189.80M86.30 188.20V189.80M89.00 188.20V189.80M91.70 188.20V189.80" stroke="#111" stroke-width="0.7" fill="none"/>
<path d="M42.60 139.50H44.20M42.60 142.20H44.20M42.60 144.90H44.20M42.60 147.60H44.20M42.60 150.30H44.20M42.60 153.00H44.20M42.60 155.70H44.20M42.60 158.40H44.20M42.60 161.10H44.20M42.60 163.80H44.20M42.60 166.50H44.20M42.60 169.20H44.20M42.60 171.90H44.20M42.60 174.60H44.20M42.60 177.30H44.20M42.60 180.00H44.20" stroke="#111" stroke-width="0.7" fill="none"/>
<path d="M45.80 379.00V380.60M48.50 379.00V380.60M51.20 379.00V380.60M53.90 379.00V380.60M56.60 379.00V380.60M59.30 379.00V380.60M62.00 379.00V380.60M64.70 379.00V380.60M67.40 379.00V380.60M70.10 379.00V380.60M72.80 379.00V380.60M75.50 379.00V380.60M78.20 379.00V380.60M80.90 379.00V380.60M83.60 379.00V380.60M86.30 379.00V380.60M89.00 379.00V380.60M91.70 379.00V380.60" stroke="#111" stroke-width="0.7" fill="none"/>
<path d="M42.60 330.50H44.20M42.60 333.20H44.20M42.60 335.90H44.20M42.60 338.60H44.20M42.60 341.30H44.20M42.60 344.00H44.20M42.60 346.70H44.20M42.60 349.40H44.20M42.60 352.10H44.20M42.60 354.80H44.20M42.60 357.50H44.20M42.60 360.20H44.20M42.60 362.90H44.20M42.60 365.60H44.20M42.60 368.30H44.20M42.60 371.00H44.20" stroke="#111" stroke-width="0.7" fill="none"/>
<path d="M103.67 188.20V189.60M109.63 188.20V189.60M113.85 188.20V189.60M117.13 188.20V189.60M119.80 188.20V189.60M122.06 188.20V189.60M124.02 188.20V189.60M125.75 188.20V189.60M136.09 188.20V189.60M141.23 188.20V189.60M144.88 188.20V189.60M147.71 188.20V189.60M150.02 188.20V189.60M151.98 188.20V189.60M153.67 188.20V189.60M155.16 188.20V189.60M165.14 188.20V189.60M170.19 188.20V189.60M173.78 188.20V189.60M176.56 188.20V189.60M178.83 188.20V189.60M180.75 188.20V189.60M182.42 188.20V189.60M183.89 188.20V189.60" stroke="#111" stroke-width="0.6" fill="none"/>
<path d="M42.80 319.81H44.20M42.80 313.56H44.20M42.80 309.13H44.20M42.80 305.69H44.20M42.80 302.88H44.20M42.80 300.50H44.20M42.80 298.44H44.20M42.80 296.62H44.20M42.80 286.12H44.20M42.80 280.92H44.20M42.80 277.24H44.20M42.80 274.38H44.20M42.80 272.04H44.20M42.80 270.07H44.20M42.80 268.36H44.20M42.80 266.85H44.20M42.80 257.01H44.20M42.80 252.05H44.20M42.80 248.52H44.20M42.80 245.79H44.20M42.80 243.56H44.20M42.80 241.67H44.20M42.80 240.03H44.20M42.80 238.59H44.20" stroke="#111" stroke-width="0.6" fill="none"/>
<path d="M103.67 379.00V380.40M109.63 379.00V380.40M113.85 379.00V380.40M117.13 379.00V380.40M119.80 379.00V380.40M122.06 379.00V380.40M124.02 379.00V380.40M125.75 379.00V380.40M136.09 379.00V380.40M141.23 379.00V380.40M144.88 379.00V380.40M147.71 379.00V380.40M150.02 379.00V380.40M151.98 379.00V380.40M153.67 379.00V380.40M155.16 379.00V380.40M165.14 379.00V380.40M170.19 379.00V380.40M173.78 379.00V380.40M176.56 379.00V380.40M178.83 379.00V380.40M180.75 379.00V380.40M182.42 379.00V380.40M183.89 379.00V380.40" stroke="#111" stroke-width="0.6" fill="none"/>
<path d="M261.60 204.55H263.00M261.60 200.48H263.00M261.60 197.59H263.00M261.60 195.35H263.00M261.60 193.52H263.00M261.60 191.98H263.00M261.60 190.64H263.00M261.60 189.46H263.00M261.60 182.14H263.00M261.60 178.48H263.00M261.60 175.88H263.00M261.60 173.86H263.00M261.60 172.21H263.00M261.60 170.82H263.00M261.60 169.62H263.00M261.60 168.55H263.00M261.60 161.88H263.00M261.60 158.53H263.00M261.60 156.16H263.00M261.60 154.32H263.00M261.60 152.82H263.00M261.60 151.54H263.00M261.60 150.44H263.00M261.60 149.47H263.00" stroke="#111" stroke-width="0.6" fill="none"/>
<path d="M324.13 246.00V247.40M327.95 246.00V247.40M330.66 246.00V247.40M332.77 246.00V247.40M334.49 246.00V247.40M335.94 246.00V247.40M337.20 246.00V247.40M338.31 246.00V247.40M345.68 246.00V247.40M349.41 246.00V247.40M352.06 246.00V247.40M354.12 246.00V247.40M355.80 246.00V247.40M357.22 246.00V247.40M358.45 246.00V247.40M359.53 246.00V247.40" stroke="#111" stroke-width="0.6" fill="none"/>
<path d="M261.10 335.08H262.50M261.10 331.03H262.50M261.10 328.15H262.50M261.10 325.92H262.50M261.10 324.10H262.50M261.10 322.56H262.50M261.10 321.23H262.50M261.10 320.05H262.50M261.10 312.98H262.50M261.10 309.46H262.50M261.10 306.96H262.50M261.10 305.02H262.50M261.10 303.44H262.50M261.10 302.10H262.50M261.10 300.94H262.50M261.10 299.92H262.50M261.10 293.19H262.50M261.10 289.79H262.50M261.10 287.38H262.50M261.10 285.51H262.50M261.10 283.98H262.50M261.10 282.69H262.50M261.10 281.57H262.50M261.10 280.58H262.50" stroke="#111" stroke-width="0.6" fill="none"/>
<path d="M324.56 376.70V378.10M328.40 376.70V378.10M331.12 376.70V378.10M333.24 376.70V378.10M334.96 376.70V378.10M336.42 376.70V378.10M337.69 376.70V378.10M338.80 376.70V378.10M346.18 376.70V378.10M349.91 376.70V378.10M352.56 376.70V378.10M354.62 376.70V378.10M356.30 376.70V378.10M357.72 376.70V378.10M358.95 376.70V378.10M360.03 376.70V378.10" stroke="#111" stroke-width="0.6" fill="none"/>
<path d="M408.80 203.92H410.20M408.80 199.83H410.20M408.80 196.93H410.20M408.80 194.68H410.20M408.80 192.85H410.20M408.80 191.29H410.20M408.80 189.95H410.20M408.80 188.76H410.20M408.80 181.32H410.20M408.80 177.59H410.20M408.80 174.94H410.20M408.80 172.88H410.20M408.80 171.20H410.20M408.80 169.78H410.20M408.80 168.55H410.20M408.80 167.47H410.20M408.80 161.14H410.20M408.80 158.01H410.20M408.80 155.78H410.20M408.80 154.06H410.20M408.80 152.65H410.20M408.80 151.46H410.20M408.80 150.42H410.20M408.80 149.51H410.20" stroke="#111" stroke-width="0.6" fill="none"/>
<path d="M474.20 246.50V247.90M477.65 246.50V247.90M480.10 246.50V247.90M482.00 246.50V247.90M483.55 246.50V247.90M484.86 246.50V247.90M486.00 246.50V247.90M487.00 246.50V247.90M493.65 246.50V247.90M497.01 246.50V247.90M499.40 246.50V247.90M501.25 246.50V247.90M502.76 246.50V247.90M504.04 246.50V247.90M505.15 246.50V247.90M506.13 246.50V247.90" stroke="#111" stroke-width="0.6" fill="none"/>
<path d="M408.80 334.62H410.20M408.80 330.53H410.20M408.80 327.63H410.20M408.80 325.38H410.20M408.80 323.55H410.20M408.80 321.99H410.20M408.80 320.65H410.20M408.80 319.46H410.20M408.80 312.71H410.20M408.80 309.38H410.20M408.80 307.02H410.20M408.80 305.19H410.20M408.80 303.69H410.20M408.80 302.43H410.20M408.80 301.33H410.20M408.80 300.36H410.20M408.80 293.48H410.20M408.80 289.96H410.20M408.80 287.46H410.20M408.80 285.52H410.20M408.80 283.94H410.20M408.80 282.60H410.20M408.80 281.44H410.20M408.80 280.42H410.20" stroke="#111" stroke-width="0.6" fill="none"/>
<path d="M474.20 377.70V379.10M477.65 377.70V379.10M480.10 377.70V379.10M482.00 377.70V379.10M483.55 377.70V379.10M484.86 377.70V379.10M486.00 377.70V379.10M487.00 377.70V379.10M493.65 377.70V379.10M497.01 377.70V379.10M499.40 377.70V379.10M501.25 377.70V379.10M502.76 377.70V379.10M504.04 377.70V379.10M505.15 377.70V379.10M506.13 377.70V379.10" stroke="#111" stroke-width="0.6" fill="none"/>
<rect x="263.00" y="148.60" width="98.40" height="97.40" fill="none" stroke="#111" stroke-width="1.0"/>
<text x="254.65" y="150.70" font-size="5.6" text-anchor="end" fill="#333" stroke="#333" stroke-width="0.12">10</text>
<text x="254.95" y="147.90" font-size="3.70" fill="#333" stroke="#333" stroke-width="0.1">6</text>
<line x1="260.60" y1="148.60" x2="263.00" y2="148.60" stroke="#111" stroke-width="0.9"/>
<text x="254.65" y="169.70" font-size="5.6" text-anchor="end" fill="#333" stroke="#333" stroke-width="0.12">10</text>
<text x="254.95" y="166.90" font-size="3.70" fill="#333" stroke="#333" stroke-width="0.1">5</text>
<line x1="260.60" y1="167.60" x2="263.00" y2="167.60" stroke="#111" stroke-width="0.9"/>
<text x="254.65" y="190.50" font-size="5.6" text-anchor="end" fill="#333" stroke="#333" stroke-width="0.12">10</text>
<text x="254.95" y="187.70" font-size="3.70" fill="#333" stroke="#333" stroke-width="0.1">4</text>
<line x1="260.60" y1="188.40" x2="263.00" y2="188.40" stroke="#111" stroke-width="0.9"/>
<text x="254.65" y="213.60" font-size="5.6" text-anchor="end" fill="#333" stroke="#333" stroke-width="0.12">10</text>
<text x="254.95" y="210.80" font-size="3.70" fill="#333" stroke="#333" stroke-width="0.1">3</text>
<line x1="260.60" y1="211.50" x2="263.00" y2="211.50" stroke="#111" stroke-width="0.9"/>
<text x="256.50" y="230.60" font-size="5.6" text-anchor="end" fill="#333" stroke="#333" stroke-width="0.12">0</text>
<rect x="261.00" y="226.50" width="2.00" height="4.00" fill="#111"/>
<line x1="260.60" y1="228.50" x2="263.00" y2="228.50" stroke="#111" stroke-width="0.9"/>
<text x="254.65" y="247.60" font-size="5.6" text-anchor="end" fill="#333" stroke="#333" stroke-width="0.12">−10</text>
<text x="254.95" y="244.80" font-size="3.70" fill="#333" stroke="#333" stroke-width="0.1">3</text>
<line x1="260.60" y1="245.50" x2="263.00" y2="245.50" stroke="#111" stroke-width="0.9"/>
<text x="284.70" y="257.00" font-size="5.6" text-anchor="middle" fill="#333" stroke="#333" stroke-width="0.12">0</text>
<rect x="281.90" y="246.00" width="3.00" height="2.40" fill="#111"/>
<line x1="284.70" y1="246.00" x2="284.70" y2="248.40" stroke="#111" stroke-width="0.9"/>
<text x="317.00" y="257.00" font-size="5.6" text-anchor="middle" fill="#333" stroke="#333" stroke-width="0.12">10</text>
<text x="320.41" y="254.20" font-size="3.70" fill="#333" stroke="#333" stroke-width="0.1">4</text>
<line x1="317.60" y1="246.00" x2="317.60" y2="248.40" stroke="#111" stroke-width="0.9"/>
<text x="338.70" y="257.00" font-size="5.6" text-anchor="middle" fill="#333" stroke="#333" stroke-width="0.12">10</text>
<text x="342.11" y="254.20" font-size="3.70" fill="#333" stroke="#333" stroke-width="0.1">5</text>
<line x1="339.30" y1="246.00" x2="339.30" y2="248.40" stroke="#111" stroke-width="0.9"/>
<text x="359.90" y="257.00" font-size="5.6" text-anchor="middle" fill="#333" stroke="#333" stroke-width="0.12">10</text>
<text x="363.31" y="254.20" font-size="3.70" fill="#333" stroke="#333" stroke-width="0.1">6</text>
<line x1="360.50" y1="246.00" x2="360.50" y2="248.40" stroke="#111" stroke-width="0.9"/>
<rect x="262.50" y="279.70" width="98.90" height="97.00" fill="none" stroke="#111" stroke-width="1.0"/>
<text x="254.15" y="281.80" font-size="5.6" text-anchor="end" fill="#333" stroke="#333" stroke-width="0.12">10</text>
<text x="254.45" y="279.00" font-size="3.70" fill="#333" stroke="#333" stroke-width="0.1">6</text>
<line x1="260.10" y1="279.70" x2="262.50" y2="279.70" stroke="#111" stroke-width="0.9"/>
<text x="254.15" y="301.10" font-size="5.6" text-anchor="end" fill="#333" stroke="#333" stroke-width="0.12">10</text>
<text x="254.45" y="298.30" font-size="3.70" fill="#333" stroke="#333" stroke-width="0.1">5</text>
<line x1="260.10" y1="299.00" x2="262.50" y2="299.00" stroke="#111" stroke-width="0.9"/>
<text x="254.15" y="321.10" font-size="5.6" text-anchor="end" fill="#333" stroke="#333" stroke-width="0.12">10</text>
<text x="254.45" y="318.30" font-size="3.70" fill="#333" stroke="#333" stroke-width="0.1">4</text>
<line x1="260.10" y1="319.00" x2="262.50" y2="319.00" stroke="#111" stroke-width="0.9"/>
<text x="254.15" y="344.10" font-size="5.6" text-anchor="end" fill="#333" stroke="#333" stroke-width="0.12">10</text>
<text x="254.45" y="341.30" font-size="3.70" fill="#333" stroke="#333" stroke-width="0.1">3</text>
<line x1="260.10" y1="342.00" x2="262.50" y2="342.00" stroke="#111" stroke-width="0.9"/>
<text x="256.00" y="360.60" font-size="5.6" text-anchor="end" fill="#333" stroke="#333" stroke-width="0.12">0</text>
<rect x="260.50" y="356.50" width="2.00" height="4.00" fill="#111"/>
<line x1="260.10" y1="358.50" x2="262.50" y2="358.50" stroke="#111" stroke-width="0.9"/>
<text x="254.15" y="376.60" font-size="5.6" text-anchor="end" fill="#333" stroke="#333" stroke-width="0.12">−10</text>
<text x="254.45" y="373.80" font-size="3.70" fill="#333" stroke="#333" stroke-width="0.1">3</text>
<line x1="260.10" y1="374.50" x2="262.50" y2="374.50" stroke="#111" stroke-width="0.9"/>
<text x="284.80" y="387.70" font-size="5.6" text-anchor="middle" fill="#333" stroke="#333" stroke-width="0.12">0</text>
<rect x="282.00" y="376.70" width="3.00" height="2.40" fill="#111"/>
<line x1="284.80" y1="376.70" x2="284.80" y2="379.10" stroke="#111" stroke-width="0.9"/>
<text x="317.40" y="387.70" font-size="5.6" text-anchor="middle" fill="#333" stroke="#333" stroke-width="0.12">10</text>
<text x="320.81" y="384.90" font-size="3.70" fill="#333" stroke="#333" stroke-width="0.1">4</text>
<line x1="318.00" y1="376.70" x2="318.00" y2="379.10" stroke="#111" stroke-width="0.9"/>
<text x="339.20" y="387.70" font-size="5.6" text-anchor="middle" fill="#333" stroke="#333" stroke-width="0.12">10</text>
<text x="342.61" y="384.90" font-size="3.70" fill="#333" stroke="#333" stroke-width="0.1">5</text>
<line x1="339.80" y1="376.70" x2="339.80" y2="379.10" stroke="#111" stroke-width="0.9"/>
<text x="360.40" y="387.70" font-size="5.6" text-anchor="middle" fill="#333" stroke="#333" stroke-width="0.12">10</text>
<text x="363.81" y="384.90" font-size="3.70" fill="#333" stroke="#333" stroke-width="0.1">6</text>
<line x1="361.00" y1="376.70" x2="361.00" y2="379.10" stroke="#111" stroke-width="0.9"/>
<rect x="410.20" y="148.70" width="99.10" height="97.80" fill="none" stroke="#111" stroke-width="1.0"/>
<text x="401.85" y="150.80" font-size="5.6" text-anchor="end" fill="#333" stroke="#333" stroke-width="0.12">10</text>
<text x="402.15" y="148.00" font-size="3.70" fill="#333" stroke="#333" stroke-width="0.1">6</text>
<line x1="407.80" y1="148.70" x2="410.20" y2="148.70" stroke="#111" stroke-width="0.9"/>
<text x="401.85" y="168.60" font-size="5.6" text-anchor="end" fill="#333" stroke="#333" stroke-width="0.12">10</text>
<text x="402.15" y="165.80" font-size="3.70" fill="#333" stroke="#333" stroke-width="0.1">5</text>
<line x1="407.80" y1="166.50" x2="410.20" y2="166.50" stroke="#111" stroke-width="0.9"/>
<text x="401.85" y="189.80" font-size="5.6" text-anchor="end" fill="#333" stroke="#333" stroke-width="0.12">10</text>
<text x="402.15" y="187.00" font-size="3.70" fill="#333" stroke="#333" stroke-width="0.1">4</text>
<line x1="407.80" y1="187.70" x2="410.20" y2="187.70" stroke="#111" stroke-width="0.9"/>
<text x="401.85" y="213.00" font-size="5.6" text-anchor="end" fill="#333" stroke="#333" stroke-width="0.12">10</text>
<text x="402.15" y="210.20" font-size="3.70" fill="#333" stroke="#333" stroke-width="0.1">3</text>
<line x1="407.80" y1="210.90" x2="410.20" y2="210.90" stroke="#111" stroke-width="0.9"/>
<text x="403.70" y="228.60" font-size="5.6" text-anchor="end" fill="#333" stroke="#333" stroke-width="0.12">0</text>
<rect x="408.20" y="224.50" width="2.00" height="4.00" fill="#111"/>
<line x1="407.80" y1="226.50" x2="410.20" y2="226.50" stroke="#111" stroke-width="0.9"/>
<text x="401.85" y="242.50" font-size="5.6" text-anchor="end" fill="#333" stroke="#333" stroke-width="0.12">−10</text>
<text x="402.15" y="239.70" font-size="3.70" fill="#333" stroke="#333" stroke-width="0.1">3</text>
<line x1="407.80" y1="240.40" x2="410.20" y2="240.40" stroke="#111" stroke-width="0.9"/>
<text x="432.00" y="257.50" font-size="5.6" text-anchor="middle" fill="#333" stroke="#333" stroke-width="0.12">0</text>
<rect x="429.20" y="246.50" width="3.00" height="2.40" fill="#111"/>
<line x1="432.00" y1="246.50" x2="432.00" y2="248.90" stroke="#111" stroke-width="0.9"/>
<text x="467.70" y="257.50" font-size="5.6" text-anchor="middle" fill="#333" stroke="#333" stroke-width="0.12">10</text>
<text x="471.11" y="254.70" font-size="3.70" fill="#333" stroke="#333" stroke-width="0.1">4</text>
<line x1="468.30" y1="246.50" x2="468.30" y2="248.90" stroke="#111" stroke-width="0.9"/>
<text x="487.30" y="257.50" font-size="5.6" text-anchor="middle" fill="#333" stroke="#333" stroke-width="0.12">10</text>
<text x="490.71" y="254.70" font-size="3.70" fill="#333" stroke="#333" stroke-width="0.1">5</text>
<line x1="487.90" y1="246.50" x2="487.90" y2="248.90" stroke="#111" stroke-width="0.9"/>
<text x="506.40" y="257.50" font-size="5.6" text-anchor="middle" fill="#333" stroke="#333" stroke-width="0.12">10</text>
<text x="509.81" y="254.70" font-size="3.70" fill="#333" stroke="#333" stroke-width="0.1">6</text>
<line x1="507.00" y1="246.50" x2="507.00" y2="248.90" stroke="#111" stroke-width="0.9"/>
<rect x="410.20" y="279.30" width="99.10" height="98.40" fill="none" stroke="#111" stroke-width="1.0"/>
<text x="401.85" y="281.60" font-size="5.6" text-anchor="end" fill="#333" stroke="#333" stroke-width="0.12">10</text>
<text x="402.15" y="278.80" font-size="3.70" fill="#333" stroke="#333" stroke-width="0.1">6</text>
<line x1="407.80" y1="279.50" x2="410.20" y2="279.50" stroke="#111" stroke-width="0.9"/>
<text x="401.85" y="301.60" font-size="5.6" text-anchor="end" fill="#333" stroke="#333" stroke-width="0.12">10</text>
<text x="402.15" y="298.80" font-size="3.70" fill="#333" stroke="#333" stroke-width="0.1">5</text>
<line x1="407.80" y1="299.50" x2="410.20" y2="299.50" stroke="#111" stroke-width="0.9"/>
<text x="401.85" y="320.50" font-size="5.6" text-anchor="end" fill="#333" stroke="#333" stroke-width="0.12">10</text>
<text x="402.15" y="317.70" font-size="3.70" fill="#333" stroke="#333" stroke-width="0.1">4</text>
<line x1="407.80" y1="318.40" x2="410.20" y2="318.40" stroke="#111" stroke-width="0.9"/>
<text x="401.85" y="343.70" font-size="5.6" text-anchor="end" fill="#333" stroke="#333" stroke-width="0.12">10</text>
<text x="402.15" y="340.90" font-size="3.70" fill="#333" stroke="#333" stroke-width="0.1">3</text>
<line x1="407.80" y1="341.60" x2="410.20" y2="341.60" stroke="#111" stroke-width="0.9"/>
<text x="403.70" y="359.60" font-size="5.6" text-anchor="end" fill="#333" stroke="#333" stroke-width="0.12">0</text>
<rect x="408.20" y="355.50" width="2.00" height="4.00" fill="#111"/>
<line x1="407.80" y1="357.50" x2="410.20" y2="357.50" stroke="#111" stroke-width="0.9"/>
<text x="401.85" y="373.70" font-size="5.6" text-anchor="end" fill="#333" stroke="#333" stroke-width="0.12">−10</text>
<text x="402.15" y="370.90" font-size="3.70" fill="#333" stroke="#333" stroke-width="0.1">3</text>
<line x1="407.80" y1="371.60" x2="410.20" y2="371.60" stroke="#111" stroke-width="0.9"/>
<text x="432.00" y="388.70" font-size="5.6" text-anchor="middle" fill="#333" stroke="#333" stroke-width="0.12">0</text>
<rect x="429.20" y="377.70" width="3.00" height="2.40" fill="#111"/>
<line x1="432.00" y1="377.70" x2="432.00" y2="380.10" stroke="#111" stroke-width="0.9"/>
<text x="467.70" y="388.70" font-size="5.6" text-anchor="middle" fill="#333" stroke="#333" stroke-width="0.12">10</text>
<text x="471.11" y="385.90" font-size="3.70" fill="#333" stroke="#333" stroke-width="0.1">4</text>
<line x1="468.30" y1="377.70" x2="468.30" y2="380.10" stroke="#111" stroke-width="0.9"/>
<text x="487.30" y="388.70" font-size="5.6" text-anchor="middle" fill="#333" stroke="#333" stroke-width="0.12">10</text>
<text x="490.71" y="385.90" font-size="3.70" fill="#333" stroke="#333" stroke-width="0.1">5</text>
<line x1="487.90" y1="377.70" x2="487.90" y2="380.10" stroke="#111" stroke-width="0.9"/>
<text x="506.40" y="388.70" font-size="5.6" text-anchor="middle" fill="#333" stroke="#333" stroke-width="0.12">10</text>
<text x="509.81" y="385.90" font-size="3.70" fill="#333" stroke="#333" stroke-width="0.1">6</text>
<line x1="507.00" y1="377.70" x2="507.00" y2="380.10" stroke="#111" stroke-width="0.9"/>
<polygon points="127.9,105.2 133.4,96.0 137.1,93.6 144.4,93.3 147.5,96.6 148.1,99.7 135.9,116.2 129.2,112.5" fill="none" stroke="#111" stroke-width="1.0"/>
<rect x="106.20" y="83.20" width="20.30" height="13.20" fill="#fff" stroke="#333" stroke-width="0.9"/>
<text x="116.35" y="92.10" font-size="6.5" text-anchor="middle" fill="#b8203a" stroke="#b8203a" stroke-width="0.1">#1</text>
<rect x="163.30" y="79.60" width="17.00" height="13.30" fill="#fff" stroke="#333" stroke-width="0.9"/>
<text x="171.80" y="88.55" font-size="6.5" text-anchor="middle" stroke="#222" stroke-width="0.1">#3</text>
<rect x="160.40" y="129.30" width="19.20" height="14.00" fill="#fff" stroke="#333" stroke-width="0.9"/>
<text x="170.00" y="138.60" font-size="6.5" text-anchor="middle" stroke="#222" stroke-width="0.1">#2</text>
<rect x="104.00" y="269.20" width="20.20" height="13.40" fill="#fff" stroke="#333" stroke-width="0.9"/>
<text x="114.10" y="278.20" font-size="6.5" text-anchor="middle" fill="#b8203a" stroke="#b8203a" stroke-width="0.1">#1</text>
<line x1="116.70" y1="96.60" x2="125.50" y2="104.40" stroke="#222" stroke-width="0.8"/>
<polygon points="125.50,104.40 124.25,101.29 122.26,103.53" fill="#222"/>
<line x1="166.00" y1="92.90" x2="162.20" y2="100.20" stroke="#222" stroke-width="0.8"/>
<polygon points="162.20,100.20 164.92,98.23 162.25,96.85" fill="#222"/>
<line x1="163.30" y1="129.30" x2="153.60" y2="123.30" stroke="#222" stroke-width="0.8"/>
<polygon points="153.60,123.30 155.36,126.15 156.94,123.60" fill="#222"/>
<line x1="116.20" y1="282.60" x2="126.60" y2="291.60" stroke="#222" stroke-width="0.8"/>
<polygon points="126.60,291.60 125.31,288.50 123.35,290.77" fill="#222"/>
<polygon points="127.6,297.0 128.9,290.9 133.6,286.2 139.0,283.5 144.4,284.1 147.8,288.2 147.1,293.6 140.4,301.6 135.0,307.0 130.3,303.6" fill="none" stroke="#111" stroke-width="1.0"/>
<line x1="18.70" y1="396.80" x2="18.70" y2="366.50" stroke="#222" stroke-width="1.0"/>
<polygon points="18.70,363.50 16.50,367.50 20.90,367.50" fill="#222"/>
<line x1="18.20" y1="396.80" x2="49.00" y2="396.80" stroke="#222" stroke-width="1.0"/>
<polygon points="52.50,396.80 48.50,394.60 48.50,399.00" fill="#222"/>
<text x="13.20" y="380.00" font-size="6.6" text-anchor="middle" stroke="#222" stroke-width="0.2" textLength="14.0" lengthAdjust="spacingAndGlyphs" transform="rotate(-90 13.20 380.00)">CD19</text>
<text x="35.80" y="406.60" font-size="6.6" text-anchor="middle" stroke="#222" stroke-width="0.2" textLength="13.0" lengthAdjust="spacingAndGlyphs">B220</text>
<text x="223.00" y="197.20" font-size="7.6" text-anchor="middle" stroke="#222" stroke-width="0.3" textLength="39.0" lengthAdjust="spacingAndGlyphs" transform="rotate(-90 223.00 197.20)">WT Mouse-BM</text>
<text x="238.90" y="197.50" font-size="7.6" text-anchor="middle" stroke="#222" stroke-width="0.3" textLength="81.7" lengthAdjust="spacingAndGlyphs" transform="rotate(-90 238.90 197.50)">Comp-APC-eFluor 780-A :: B220</text>
<text x="223.60" y="330.70" font-size="7.6" text-anchor="middle" stroke="#222" stroke-width="0.3" textLength="49.4" lengthAdjust="spacingAndGlyphs" transform="rotate(-90 223.60 330.70)">Rag1KO Mouse-BM</text>
<text x="238.40" y="325.90" font-size="7.6" text-anchor="middle" stroke="#222" stroke-width="0.3" textLength="83.5" lengthAdjust="spacingAndGlyphs" transform="rotate(-90 238.40 325.90)">Comp-APC-eFluor 780-A :: B220</text>
<text x="312.30" y="269.70" font-size="7.4" text-anchor="middle" stroke="#222" stroke-width="0.3" textLength="54.8" lengthAdjust="spacingAndGlyphs">Comp-FITC-A :: CD43</text>
<text x="312.60" y="400.30" font-size="7.4" text-anchor="middle" stroke="#222" stroke-width="0.3" textLength="55.6" lengthAdjust="spacingAndGlyphs">Comp-FITC-A :: CD43</text>
<text x="459.60" y="269.70" font-size="7.2" text-anchor="middle" stroke="#222" stroke-width="0.3" textLength="65.4" lengthAdjust="spacingAndGlyphs">Comp-PE-A :: CD24(HSA)</text>
<text x="459.60" y="400.30" font-size="7.2" text-anchor="middle" stroke="#222" stroke-width="0.3" textLength="65.4" lengthAdjust="spacingAndGlyphs">Comp-PE-A :: CD24(HSA)</text>
<line x1="357.70" y1="168.90" x2="406.00" y2="168.90" stroke="#111" stroke-width="1.0"/>
<polygon points="409.60,168.90 405.20,166.48 405.20,171.32" fill="#111"/>
<line x1="352.60" y1="304.20" x2="405.50" y2="304.20" stroke="#111" stroke-width="1.0"/>
<polygon points="409.20,304.20 404.80,301.78 404.80,306.62" fill="#111"/>
<rect x="378.6" y="160" width="9" height="76" fill="#fff"/>
<rect x="378.6" y="291" width="9" height="76" fill="#fff"/>
<text x="386.50" y="197.50" font-size="7.0" text-anchor="middle" stroke="#222" stroke-width="0.3" textLength="73.0" lengthAdjust="spacingAndGlyphs" transform="rotate(-90 386.50 197.50)">Comp-APC-A :: CD249(BP1)</text>
<text x="386.50" y="328.80" font-size="7.0" text-anchor="middle" stroke="#222" stroke-width="0.3" textLength="73.6" lengthAdjust="spacingAndGlyphs" transform="rotate(-90 386.50 328.80)">Comp-APC-A :: CD249(BP1)</text>
<rect x="278.7" y="157.6" width="48.2" height="33.8" fill="none" stroke="#c8365a" stroke-width="0.9" stroke-dasharray="2.4,1.3"/>
<path d="M326.9,157.6 H357.6 V196.0 H349.5" fill="none" stroke="#888" stroke-width="0.7"/>
<line x1="357.60" y1="166.00" x2="357.60" y2="196.00" stroke="#333" stroke-width="0.9"/>
<text x="285.40" y="156.30" font-size="6.2" stroke="#222" stroke-width="0.05" textLength="22.5" lengthAdjust="spacingAndGlyphs">Fr D/E/F</text>
<text x="338.60" y="156.20" font-size="5.0" text-anchor="middle" fill="#333" stroke="#333" stroke-width="0.05" textLength="42.4" lengthAdjust="spacingAndGlyphs">CD43, B220 subset</text>
<text x="338.20" y="163.30" font-size="5.0" text-anchor="middle" fill="#333" stroke="#333" stroke-width="0.05" textLength="8.6" lengthAdjust="spacingAndGlyphs">2.67</text>
<rect x="269.5" y="289.0" width="49.6" height="33.0" fill="none" stroke="#c8365a" stroke-width="0.9" stroke-dasharray="2.4,1.3"/>
<path d="M323.4,297.2 V326.3 H352.6 V297.2" fill="none" stroke="#444" stroke-width="0.8"/>
<text x="280.20" y="288.00" font-size="6.2" stroke="#222" stroke-width="0.05" textLength="23.3" lengthAdjust="spacingAndGlyphs">Fr D/E/F</text>
<text x="338.10" y="287.60" font-size="5.0" text-anchor="middle" fill="#333" stroke="#333" stroke-width="0.05" textLength="41.5" lengthAdjust="spacingAndGlyphs">CD43, B220 subset</text>
<text x="336.80" y="294.60" font-size="5.0" text-anchor="middle" fill="#333" stroke="#333" stroke-width="0.05" textLength="9.0" lengthAdjust="spacingAndGlyphs">6.54</text>
<path d="M410.2,211.6 H504.2 M443.6,211.6 V244.4 M504.2,211.6 V244.4" fill="none" stroke="#333" stroke-width="0.8"/>
<path d="M444.6,211.6 V168.8 H473.5 V211.6 M473.5,168.8 H503.6 V211.6" fill="none" stroke="#333" stroke-width="0.8"/>
<path d="M410.2,341.4 H502.6 V375.9 H440.5 V297.0 H470.3 V341.4" fill="none" stroke="#333" stroke-width="0.8"/>
<path d="M472.7,297.0 H503.2 V339.3 H472.7 Z" fill="none" stroke="#333" stroke-width="0.8"/>
<rect x="451.15" y="155.04" width="12.30" height="6.02" fill="#fff"/>
<text x="457.30" y="160.50" font-size="7.0" text-anchor="middle" fill="#111" textLength="11.1" lengthAdjust="spacingAndGlyphs" stroke="#111" stroke-width="0.15">FrC</text>
<rect x="450.80" y="165.35" width="14.00" height="5.68" fill="#fff"/>
<text x="457.80" y="170.50" font-size="6.6" text-anchor="middle" fill="#111" textLength="12.8" lengthAdjust="spacingAndGlyphs" stroke="#111" stroke-width="0.15">7.16</text>
<rect x="482.65" y="155.04" width="13.10" height="6.02" fill="#fff"/>
<text x="489.20" y="160.50" font-size="7.0" text-anchor="middle" fill="#111" textLength="11.9" lengthAdjust="spacingAndGlyphs" stroke="#111" stroke-width="0.15">FrC'</text>
<rect x="482.20" y="165.35" width="13.80" height="5.68" fill="#fff"/>
<text x="489.10" y="170.50" font-size="6.6" text-anchor="middle" fill="#111" textLength="12.6" lengthAdjust="spacingAndGlyphs" stroke="#111" stroke-width="0.15">4.87</text>
<rect x="412.90" y="224.54" width="12.20" height="6.02" fill="#fff"/>
<text x="419.00" y="230.00" font-size="7.0" text-anchor="middle" fill="#111" textLength="11.0" lengthAdjust="spacingAndGlyphs" stroke="#111" stroke-width="0.15">FrA</text>
<rect x="411.75" y="234.75" width="14.50" height="5.68" fill="#fff"/>
<text x="419.00" y="239.90" font-size="6.6" text-anchor="middle" fill="#111" textLength="13.3" lengthAdjust="spacingAndGlyphs" stroke="#111" stroke-width="0.15">25.5</text>
<rect x="494.25" y="224.54" width="11.70" height="6.02" fill="#fff"/>
<text x="500.10" y="230.00" font-size="7.0" text-anchor="middle" fill="#111" textLength="10.5" lengthAdjust="spacingAndGlyphs" stroke="#111" stroke-width="0.15">FrB</text>
<rect x="493.15" y="234.75" width="13.90" height="5.68" fill="#fff"/>
<text x="500.10" y="239.90" font-size="6.6" text-anchor="middle" fill="#111" textLength="12.7" lengthAdjust="spacingAndGlyphs" stroke="#111" stroke-width="0.15">57.7</text>
<rect x="446.35" y="285.74" width="12.30" height="6.02" fill="#fff"/>
<text x="452.50" y="291.20" font-size="7.0" text-anchor="middle" fill="#111" textLength="11.1" lengthAdjust="spacingAndGlyphs" stroke="#111" stroke-width="0.15">FrC</text>
<rect x="445.40" y="295.85" width="14.20" height="5.68" fill="#fff"/>
<text x="452.50" y="301.00" font-size="6.6" text-anchor="middle" fill="#111" textLength="13.0" lengthAdjust="spacingAndGlyphs" stroke="#111" stroke-width="0.15">25.5</text>
<rect x="484.05" y="285.74" width="13.10" height="6.02" fill="#fff"/>
<text x="490.60" y="291.20" font-size="7.0" text-anchor="middle" fill="#111" textLength="11.9" lengthAdjust="spacingAndGlyphs" stroke="#111" stroke-width="0.15">FrC'</text>
<rect x="483.60" y="295.85" width="14.00" height="5.68" fill="#fff"/>
<text x="490.60" y="301.00" font-size="6.6" text-anchor="middle" fill="#111" textLength="12.8" lengthAdjust="spacingAndGlyphs" stroke="#111" stroke-width="0.15">0.88</text>
<rect x="412.60" y="355.44" width="12.20" height="6.02" fill="#fff"/>
<text x="418.70" y="360.90" font-size="7.0" text-anchor="middle" fill="#111" textLength="11.0" lengthAdjust="spacingAndGlyphs" stroke="#111" stroke-width="0.15">FrA</text>
<rect x="411.60" y="365.55" width="14.20" height="5.68" fill="#fff"/>
<text x="418.70" y="370.70" font-size="6.6" text-anchor="middle" fill="#111" textLength="13.0" lengthAdjust="spacingAndGlyphs" stroke="#111" stroke-width="0.15">20.2</text>
<rect x="493.45" y="355.44" width="11.70" height="6.02" fill="#fff"/>
<text x="499.30" y="360.90" font-size="7.0" text-anchor="middle" fill="#111" textLength="10.5" lengthAdjust="spacingAndGlyphs" stroke="#111" stroke-width="0.15">FrB</text>
<rect x="492.20" y="365.55" width="14.20" height="5.68" fill="#fff"/>
<text x="499.30" y="370.70" font-size="6.6" text-anchor="middle" fill="#111" textLength="13.0" lengthAdjust="spacingAndGlyphs" stroke="#111" stroke-width="0.15">43.0</text>
<line x1="235.50" y1="397.70" x2="235.50" y2="373.50" stroke="#222" stroke-width="1.0"/>
<polygon points="235.50,370.20 233.30,374.20 237.70,374.20" fill="#222"/>
<line x1="235.00" y1="397.70" x2="262.80" y2="397.70" stroke="#222" stroke-width="1.0"/>
<polygon points="266.30,397.70 262.30,395.50 262.30,399.90" fill="#222"/>
<text x="230.60" y="383.20" font-size="7.2" text-anchor="middle" stroke="#222" stroke-width="0.2" textLength="13.0" lengthAdjust="spacingAndGlyphs" transform="rotate(-90 230.60 383.20)">B220</text>
<text x="250.70" y="408.20" font-size="7.2" text-anchor="middle" stroke="#222" stroke-width="0.2" textLength="13.7" lengthAdjust="spacingAndGlyphs">CD43</text>
<line x1="382.60" y1="398.60" x2="382.60" y2="373.50" stroke="#222" stroke-width="1.0"/>
<polygon points="382.60,370.20 380.40,374.20 384.80,374.20" fill="#222"/>
<line x1="382.10" y1="398.60" x2="394.50" y2="398.60" stroke="#222" stroke-width="1.0"/>
<polygon points="398.00,398.60 394.00,396.40 394.00,400.80" fill="#222"/>
<text x="379.60" y="382.00" font-size="7.2" text-anchor="middle" stroke="#222" stroke-width="0.2" textLength="18.0" lengthAdjust="spacingAndGlyphs" transform="rotate(-90 379.60 382.00)">CD249</text>
<text x="397.20" y="406.20" font-size="7.2" text-anchor="middle" stroke="#222" stroke-width="0.2" textLength="13.5" lengthAdjust="spacingAndGlyphs">CD24</text>
<text x="329.80" y="417.80" font-size="6.0" fill="#333" stroke="#333" stroke-width="0.08">Fraction A: pre-pro-B</text>
<text x="329.80" y="425.90" font-size="6.0" fill="#333" stroke="#333" stroke-width="0.08">Fraction B: pro-B</text>
<text x="329.80" y="434.00" font-size="6.0" fill="#333" stroke="#333" stroke-width="0.08">Fraction C: Late Pro-B or Pre-B</text>
<text x="329.80" y="442.10" font-size="6.0" fill="#333" stroke="#333" stroke-width="0.08">Fraction C': Large Pre-B</text>
<rect x="0.5" y="0.5" width="519" height="449" fill="none" stroke="#444" stroke-width="1"/>
</svg>
</body></html>
